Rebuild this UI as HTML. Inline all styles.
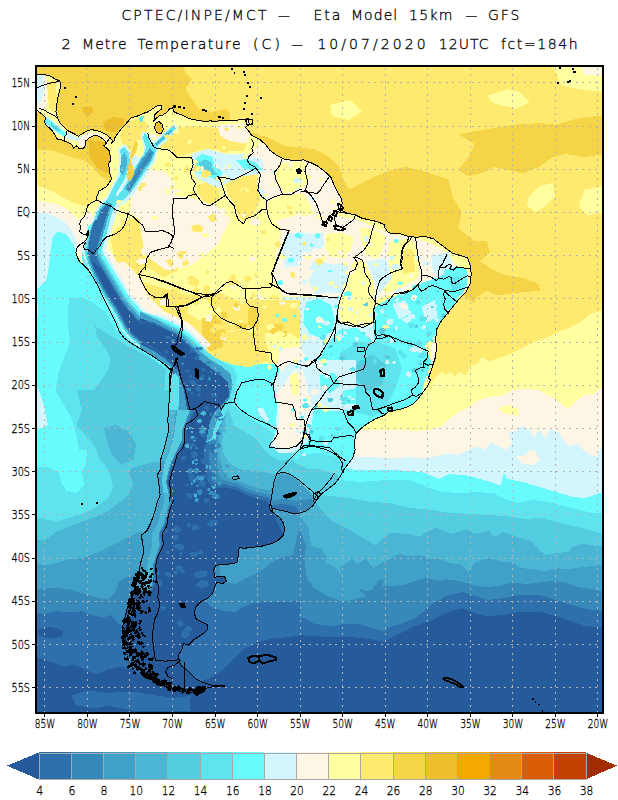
<!DOCTYPE html>
<html lang="en"><head><meta charset="utf-8"><title>CPTEC/INPE/MCT - Eta Model 15km - GFS - 2 Metre Temperature</title>
<style>html,body{margin:0;padding:0;background:#fff}body{width:618px;height:800px;overflow:hidden}svg{display:block}text{font-family:"Liberation Sans",sans-serif;fill:#000}.tt,.tt text{font-family:"DejaVu Sans","Liberation Sans",sans-serif;font-weight:200;stroke:#000;stroke-width:0.3px}</style></head><body>
<svg width="618" height="800" viewBox="0 0 618 800">
<rect width="618" height="800" fill="#fff"/>
<defs><clipPath id="cp"><rect x="36" y="66" width="567" height="647"/></clipPath></defs>
<g clip-path="url(#cp)" shape-rendering="crispEdges">
<rect x="36" y="66" width="567" height="647" fill="#fdea6e"/>
<polygon fill="#f5d547" points="30,60 182.1,60 185.3,72.9 191.8,79.4 185.3,89.1 191.8,98.8 198.3,108.5 211.2,111.8 230,108.5 230,124.7 30,124.7"/>
<polygon fill="#f5d547" points="33,120 120,120 115,185 110.5,181 106.4,179.3 100,176 91.8,166.3 83.4,160 71.3,157.1 54.3,151 33,148.6"/>
<polygon fill="#f5d547" points="211,118 230,122 252.4,132.8 268.5,137.7 284.7,145.8 297.7,147.4 313.9,149 330,157.1 339.7,166.8 343,179.7 349.4,189.4 362.4,183 375.3,176.5 391.5,170 404.5,166.8 420,170 429.4,173.3 448.8,179.7 452.1,195.9 461.8,212.1 458.5,228.3 474.7,241.2 487.7,250.9 470,262 470,300 380,240 330,210 250,150 211,130"/>
<polygon fill="#f5d547" points="458.5,134.4 474.7,131.2 494.1,128 513.6,124.7 539.4,123.1 555.6,124.7 578.3,118.3 606,115 606,153.9 584.8,157.1 565.3,153.9 552.4,157.1 539.4,166.8 523.3,173.3 507.1,170 494.1,166.8 481.2,173.3 468.3,176.5 458.5,170 468.3,157.1 474.7,144.1"/>
<polygon fill="#f5d547" points="470.6,280.9 460.9,242.1 486.8,240.5 490,251.8 480.3,261.5 490,268 503,274.4 522.4,277.7 538.6,284.1 540.2,290.6 522.4,292.2 509.4,293.9 496.5,295.5 486.8,290.6 477.1,297.1 473.9,303.6 467.4,297.1"/>
<polygon fill="#ffff9f" points="487.7,95.6 507.1,89.1 520,92.4 529.7,102.1 516.8,108.5 500.6,105.3 490.9,102.1"/>
<polygon fill="#ffff9f" points="552.4,66 606,66 606,92.4 578.3,89.1 562.1,85.9"/>
<polygon fill="#fdf6e4" points="581.5,66 606,66 606,76 584,75"/>
<polygon fill="#ffff9f" points="529.7,195.9 539.4,186.2 552.4,183 555.6,195.9 545.9,205.6 536.2,212.1 526.5,205.6"/>
<polygon fill="#ffff9f" points="584.8,189.4 606,186.2 606,212.1 588,215.3 578.3,205.6"/>
<polygon fill="#fdea6e" points="225,66 260,66 262,90 250,110 232,118 222,100"/>
<polygon fill="#ffff9f" points="330,105 350,100 362,112 348,120 332,116"/>
<polygon fill="#eebf2c" points="88.3,140.1 110,142.5 112,165 108.9,174 98,169.2 89.5,157.1"/>
<polygon fill="#eebf2c" points="102.8,121.9 112.5,117 124.7,118.3 123.4,125.5 115,132.8 105.2,130.4"/>
<polygon fill="#eebf2c" points="82.2,107.3 91.9,107.3 93.1,112.2 87,117 83.4,112.2"/>
<polygon fill="#ffff9f" points="33,184.5 33,184.5 36.5,185 44.6,188.2 54.4,192.3 62.5,197.2 72.3,202 83.7,206.1 100,206 140,206 140,716 33,716"/>
<polygon fill="#fdf6e4" points="33,200 33,200 36.5,200.4 46.3,202 56,203.7 65.8,208.5 73.9,215 78.8,219.9 82,216.7 100,216 140,216 140,716 33,716"/>
<polygon fill="#d2f5fe" points="33,212.6 33,212.6 46.3,213.4 56,216.7 64.1,221.5 70.7,228 73.9,234.6 76.3,241.1 77.2,247.6 100,250 150,250 150,716 33,716"/>
<polygon fill="#68fbfc" points="38,316 37,290 46.3,280 47.9,273.6 49.5,260.6 51.1,247.6 52.8,236.2 57.6,232.1 64.1,232.9 69,237.8 73.1,244.3 75.5,250.8 76.3,254.1 120,260 200,380 200,716 33,716 33,432 48,425 44,405 38,388 33,385 33,316"/>
<polygon fill="#5ee4ef" points="68.8,298.5 81.8,297.2 94.7,303.7 105.1,311.4 115.4,329.5 125.8,339.9 141.3,350.3 159.4,363.2 175,369.7 175,451.2 79.2,449.9 76.6,435.7 71.4,417.6 63.7,404.6 55.9,391.7 58.5,373.6 63.7,358 70.1,342.5 67.5,321.8"/>
<polygon fill="#54cde1" points="94.7,325.7 102.5,330.8 115.4,338.6 125.8,345.1 138.7,351.6 154.3,360.6 165.9,369.7 164.6,386.5 163.3,415 162,451.2 99.9,451.2 89.5,438.3 81.8,425.3 76.6,409.8 84.4,404.6 92.1,391.7 102.5,378.7 109,368.4 110.3,358 105.1,347.7 97.3,337.3"/>
<polygon fill="#5ee4ef" points="165.9,372.3 171.1,371 171.1,451.2 162,451.2 164.1,415 165.1,386.5"/>
<polygon fill="#5ee4ef" points="63.7,389.6 71.4,410.4 74,425.9 81.8,438.8 87,451.8 85.7,464.7 81.8,472.5 84.4,485.4 76.6,493.2 66.2,490.6 61.1,482.8 58.5,472.5 48.1,467.3 27.4,466 27.4,607.1 211.2,607.1 211.2,389.6"/>
<polygon fill="#68fbfc" points="61.1,473.8 68.8,471.2 80.5,473.8 84.4,485.4 76.6,493.2 66.2,490.6 61.1,482.8"/>
<polygon fill="#54cde1" points="27.4,515.2 55.9,521.7 68.8,517.8 81.8,513.9 97.3,506.1 107.7,498.4 112.8,488 110.3,475.1 105.1,464.7 99.9,459.5 94.7,446.6 87,436.2 76.6,425.9 81.8,410.4 76.6,389.6 211.2,389.6 211.2,607.1 27.4,607.1"/>
<polygon fill="#4ab6d4" points="27.4,541.1 45.5,539.8 55.9,532 68.8,526.9 81.8,521.7 97.3,516.5 107.7,511.3 118,503.6 128.4,495.8 133.6,482.8 128.4,472.5 133.6,467.3 143.9,464.7 154.3,462.1 211.2,462.1 211.2,607.1 27.4,607.1"/>
<polygon fill="#4ab6d4" points="103.8,428.5 115.4,424.6 128.4,431.1 136.1,444 133.6,459.5 120.6,464.7 112.8,455.7 107.7,444"/>
<polygon fill="#40a0c7" points="27.4,560.5 45.5,565.7 55.9,563.1 68.8,559.2 81.8,557.9 97.3,552.8 112.8,545 128.4,537.2 138.7,532 211.2,532 211.2,607.1 27.4,607.1"/>
<polygon fill="#3789ba" points="27.4,589.2 55.9,587.9 68.8,589.2 81.8,593.1 94.7,597 107.7,599.5 115.4,591.8 119.3,581.4 128.4,576.2 136.1,575 211.2,575 211.2,747.1 27.4,747.1"/>
<polygon fill="#2d70ac" points="27.4,612.5 45.5,613.8 55.9,611.2 68.8,612.5 81.8,611.2 92.1,615.1 102.5,617.7 110.3,615.1 118,622.8 123.2,625.4 211.2,625.4 211.2,747.1 27.4,747.1"/>
<polygon fill="#255a9b" points="27.4,653.9 50.7,661.7 63.7,666.9 74,664.3 84.4,669.4 97.3,674.6 107.7,669.4 120.6,666.9 133.6,669.4 138.7,674.6 211.2,674.6 211.2,747.1 27.4,747.1"/>
<polygon fill="#255a9b" points="37.8,629.3 50.7,626.7 63.7,630.6 61.1,637.1 48.1,638.4 39.1,635.8"/>
<polygon fill="#2d70ac" points="71.4,695.3 87,690.2 107.7,692.8 133.6,691.5 154.3,695.3 175,697.9 195.7,695.3 195.7,710.9 133.6,710.9 107.7,705.7 94.7,708.3 76.6,705.7"/>
<polygon fill="#3789ba" points="205,560 240,560 240,595 205,595"/>
<polygon fill="#ffff9f" points="330,392.1 420.4,392.1 430.6,385.3 435.7,376.8 442.5,371.7 445.9,375.1 451,371.7 454.4,376.8 459.5,371.7 466.3,375.1 469.7,366.6 478.2,363.2 481.5,356.5 488.3,361.5 498.5,358.2 512.1,353.1 522.3,348 535.9,341.2 546.1,337.8 559.7,331 569.9,327.6 580.1,322.5 590.3,314 603.9,309.9 606,309.9 606,716 330,716"/>
<polygon fill="#fdf6e4" points="330,429.5 379.6,429.5 400,429.5 417,431.2 430.6,429.5 440.8,426.1 451,417.6 457.8,412.5 468,407.4 478.2,400.6 488.3,397.2 501.9,395.5 512.1,390.4 525.7,388.7 539.3,390.4 549.5,395.5 559.7,402.3 566.5,409.1 573.3,404 583.5,395.5 593.7,393.8 603.9,386 606,386 606,716 330,716"/>
<polygon fill="#ffff9f" points="498.5,407.4 508.7,405 518.9,409.1 517.2,415.9 508.7,414.2 501.9,412.5"/>
<polygon fill="#d2f5fe" points="330,456.7 359.2,456.7 400,458.4 406.8,456.7 420.4,458.4 434,456.7 447.6,453.3 457.8,455 468,449.9 478.2,446.5 484.9,449.9 491.7,443.1 498.5,446.5 505.3,449.9 512.1,443.1 508.7,432.9 515.5,431.2 522.3,426.1 529.1,429.5 534.2,438 539.3,429.5 546.1,439.7 549.5,429.5 559.7,432.9 563.1,439.7 569.9,446.5 576.7,443.1 583.5,449.9 590.3,455 597.1,456.7 603.9,439.7 606,439.7 606,716 330,716"/>
<polygon fill="#fdf6e4" points="515.5,456.7 525.7,455 529.1,449.9 535.9,451.6 539.3,460.1 534.2,465.2 522.3,463.5"/>
<polygon fill="#68fbfc" points="250,466 330,466 347.7,467.7 355.2,470.2 385.3,470.2 410,470.7 423,472.4 439,478.8 448.8,474 468.3,475.6 490.9,482.1 500.6,485.3 503.9,472.4 507.1,478.8 523.3,482.1 539.4,486.9 555.6,491.8 571.8,496.6 584.8,498.3 604,491.8 606,491.8 606,716 250,716"/>
<polygon fill="#5ee4ef" points="240,478 320,478 340,480 360,482 385,480 410,480.5 426.2,486.9 442.4,491.8 461.8,493.4 474.7,491.8 494.2,493.4 507.1,499.9 516.8,503.1 533,499.9 552.4,503.1 571.8,508 591.2,512.8 604,512.8 606,512.8 606,716 240,716"/>
<polygon fill="#54cde1" points="230,492 310,492 322,495 350,498 370,502 390,503 410,508 429.4,509.6 448.8,512.8 468.3,513.8 487.7,515.1 507.1,516.1 526.5,519.3 539.4,517.7 552.4,520.9 571.8,525.8 591.2,530.6 604,533.9 606,533.9 606,716 230,716"/>
<polygon fill="#4ab6d4" points="220,500 300,500 315,502 320,508 330,520 350,530 375,545 390,533 410,533.9 419.7,537.1 426.2,532.2 435.9,527.4 452.1,533.9 466.6,529 474.7,533.9 489.3,530.6 494.2,537.1 503.9,532.2 516.8,537.1 529.7,540.3 539.4,550 545.9,554.9 555.6,553.3 568.6,551.7 571.8,546.8 581.5,543.6 591.2,545.2 604,546.8 606,546.8 606,716 220,716"/>
<polygon fill="#40a0c7" points="220,509.6 295.5,509.6 308.5,527.8 311.1,545.9 321.4,548.5 326.6,556.2 325.3,562.7 334.4,566.6 342.1,575.7 339.5,567.9 344.7,564 352.5,558.8 357.7,564 365.4,558.8 373.2,567.9 383.6,561.4 391.3,558.8 399.1,553.7 409.4,556.2 419.8,555 430.2,558.8 440,558.8 448.8,563 461.8,564.6 468.3,572.7 474.7,563 487.7,558.1 500.6,561.4 513.6,563 520,567.8 533,569.4 545.9,571.1 555.6,567.8 565.3,569.4 578.3,567.8 591.2,566.2 604,564.6 606,564.6 606,716 220,716"/>
<polygon fill="#3789ba" points="200,583.7 214.2,583.7 223.1,582.6 235.6,583.7 249.8,576.5 260.5,571.2 271.2,562.3 281.9,557 292.6,555.2 299.4,527.8 305.9,545.9 304.6,564 307.2,579.5 313.7,587.3 321.4,592.5 331.8,597.7 342.1,601.6 355.1,599 365.4,596.4 357.7,587.3 365.4,591.2 371.9,589.9 379.7,579.5 383.6,580.8 381,588.6 383.6,586 393.9,586 404.3,584.7 414.6,580.8 425,578.3 440,580.8 445.6,579.2 458.5,580.8 474.7,585.6 487.7,587.2 500.6,585.6 513.6,582.4 526.5,584 539.4,582.4 552.4,580.8 565.3,582.4 578.3,587.2 591.2,588.9 604,592.1 606,592.1 606,716 200,716"/>
<polygon fill="#2d70ac" points="190,600 200,600 207.1,601.5 210.7,606.8 221.4,610.4 235.6,612.1 242.7,606.8 253.4,603.2 271.2,601.5 289,601.5 299.4,600.8 300.7,610.6 298.1,617.1 305.9,618.4 313.7,623.6 331.8,626.1 344.7,623.6 357.7,623.6 370.6,627.4 378.4,630 383.6,631.3 388.7,627.4 401.7,623.6 414.6,618.4 425,610.6 432.8,602.8 440,600.3 445,596 462,592 475,596 488,600 504,598 520,595 540,595 556,600 572,605 585,609 604,611 606,611 606,716 190,716"/>
<polygon fill="#255a9b" points="190,684 190,684 200,681.6 210.7,678 221.4,670.9 232,660.2 242.7,649.5 257,642.4 271.2,638.8 289,637 300.7,635.2 318.8,636.5 344.7,636.5 357.7,637.8 370.6,639.1 383.6,641.7 391.3,637.8 404.3,631.3 414.6,626.1 429.4,621.2 445.6,613.1 461.8,608.3 474.7,613.1 487.7,616.4 503.9,614.8 520,611.5 539.4,611.5 555.6,616.4 571.8,621.2 584.8,626.1 604,627.7 606,627.7 606,716 190,716"/>
<clipPath id="lc"><polygon points="34.9,74.6 42.9,74.6 49.4,75.4 54.3,78.6 59.9,81 60.7,85.9 59.1,92.4 57.5,98.8 56.7,105.3 55.9,111.8 57.5,118.3 60.7,123.9 64.8,128 68.8,131.2 73.7,133.6 78.5,136.1 82.6,133.6 86.6,131.2 90.7,129.6 96.3,130.4 101.2,132 106.1,134.4 110.1,137.7 112.5,140.9 110.9,144.1 114.1,140.9 114.8,137.7 120.6,129.6 125.5,124.7 130.3,118.3 138.4,115.7 143.3,113.4 148.1,111.8 153,108.5 157.8,105.3 161.1,105.3 162,108.5 157.8,111.8 154.6,115 153.9,121.5 156.2,118.3 159.4,115.7 162.7,115 167.5,111.8 169.8,108.5 172.4,107.9 174,111.8 177.2,113.4 182.1,115 188.6,118.3 195,119.9 204.8,121.5 211.2,120.8 212.9,122 222.7,120.1 232.4,121 242.1,119.4 248.5,118.8 249.2,124.3 245.3,127.5 248.5,130.7 251.8,135.6 259.9,139.5 266.3,145.3 269.6,150.2 276.1,155 284.1,159.2 293.9,160.5 303.6,159.9 311.7,163.1 318.1,166.3 326.2,172.8 331.1,177.7 334.3,185.8 337.5,192.2 340.8,197.1 342.4,203.6 339.8,208.4 344,211.7 347.2,213.3 355.3,214.9 361.8,218.1 368.3,219.7 376.4,221.4 384.5,224.6 384.9,227.5 388.1,232.4 392.9,234 399.4,233.3 407.5,236.2 415.6,237.2 425.3,236.6 433.4,238.8 439.9,243.7 446.3,248.5 452.8,253.4 460.9,255.7 467.4,257.6 470,264.7 471.3,274.4 470,284.1 465.8,292.2 459.3,298.7 452.8,306.8 446.3,314.9 439.9,323 436.6,329.4 435.7,339.2 436.6,348.9 435,358.6 431.8,368.3 428.5,378 430.5,380 427.2,386.5 422.4,392.9 417.5,399.4 412.7,404.3 406.2,407.5 398.1,409.8 390,410.7 383.6,415.6 375.5,418.8 367.4,423.7 360.9,428.5 356.1,433.4 354.4,441.5 355.1,449.6 352.8,457.7 348,464.1 343.1,470.6 339.9,477.1 335,483.6 328.5,488.4 322.1,493.3 317.2,499.7 312.4,506.2 305.9,511.1 299.4,513.3 294.4,513.8 284.7,511.2 276.6,509.6 271.8,508 270.2,503.1 269.2,506.3 270.2,509.6 273.4,512.8 279.9,517.7 283.1,522.5 284.7,529 283.1,535.5 278.3,540.3 271.8,543.6 262.1,546.1 252.4,547.4 242.7,548.4 240,547.1 238.4,549.7 238.4,554.6 236.8,562.7 227.1,564.3 215.8,565.2 213.5,570.7 214.8,577.2 220.6,576.2 225.5,577.2 226.4,581.4 222.2,583.7 216.7,582.1 214.8,586.9 212.5,593.4 207.7,598.3 201.2,601.5 196.3,606.3 194.1,612.8 196.3,619.3 202.8,622.5 207.7,624.8 207,630 202.8,633.9 198,637.1 193.1,640.3 188.3,645.2 183.4,643.6 181.8,650 178.5,654.9 179.2,661.4 181.8,666.2 186.6,669.4 191.5,674.3 196.3,679.2 202.8,682.4 210.9,685 223.9,685.6 210.9,687.2 199.6,689.5 191.5,692.1 181.8,691.5 172.1,688.9 162.4,685.6 152.7,680.8 144.6,674.3 138.1,667.8 133.2,659.7 130,650 124.7,647.4 122.2,628 127.1,608.5 134.4,589.1 135,585.7 136.2,579.2 138.8,575.3 139.4,568.9 141.4,559.8 144,552 142.7,544.3 141.4,535.2 146.6,531.3 150.5,523.6 154.4,513.2 157,502.8 160.1,495.1 159,484.7 157.5,474.4 160.8,469.2 160.1,461.4 163.4,451.1 166,440.7 168.6,430.4 167.8,420 168.2,414.6 169.1,401.6 169.8,388.6 170.4,377.2 172.4,369.7 168.2,367.4 161.7,362.5 155.2,357.7 147,352.8 138.9,347.9 130.8,343 124.3,338.2 119.4,331.7 116.2,323.5 111.3,313.8 106.4,304 101.5,294.3 98.3,286.2 93.4,278 88.5,269.9 83.6,265 79.4,261.4 77.5,257.4 75.9,252.5 77,247.7 80.2,244.4 84.3,242 86.7,238.8 88.8,234.7 88.3,230.7 86.7,234.7 82.7,233.9 79.4,231.5 81,228.3 79.7,224.2 81,220.2 84.3,216.9 85.9,212.9 86.7,208.8 88.3,204.8 92.4,202.4 96.9,199.9 96.4,196.7 98,194.3 98.8,191 102.4,189.1 106.1,187 108.5,183.8 111.8,178.9 110.2,174.9 109.4,170 108.6,163.6 110.9,160 110.1,155.5 109.3,150.6 106.9,148.2 103.6,145.8 106.1,144.1 105.2,140.9 101.2,137.7 96.3,135.2 92.3,136.1 88.3,138.5 85,141.7 85.8,145 83.4,148.2 79.4,149 76.9,145.8 73.7,148.2 71.3,144.1 68,142.5 64,140.9 60.7,139.3 57.5,139.3 55.1,135.2 52.7,131.2 49.4,128 46.2,125.5 44.6,122.3 45.4,117.4 42.1,114.2 38.9,111.8 34.9,108.5"/></clipPath>
<g clip-path="url(#lc)">
<polygon fill="#ffff9f" points="30,60 610,60 610,720 30,720"/>
<polygon fill="#68fbfc" points="228.8,359.6 234,364.3 267.7,363.5 284.5,364.8 284.5,380.4 276.7,398.5 280.6,416.6 293.6,432.1 309.1,421.8 324.6,408.8 350,406.2 371.2,416.6 371.2,551.2 190,551.2 190,359.6"/>
<polygon fill="#5ee4ef" points="227.3,374.8 228.4,391.6 231.6,404.2 242.1,412.6 254.7,421 265.2,427.3 273.6,433.7 284.1,442.1 296.8,448.4 309.4,446.3 326.2,450.5 347.2,463.1 377.2,523.1 400,720 60,720 60,374.8"/>
<polygon fill="#54cde1" points="226.9,374.8 227.3,400 229.4,412.6 233.7,425.2 244.2,431.6 254.7,437.9 263.1,448.4 271.5,456.8 279.9,461 288.3,458.9 294.7,463.1 309.4,469.4 326.2,469.4 347.2,479.9 377.2,539.9 400,720 60,720 60,374.8"/>
<polygon fill="#4ab6d4" points="225.7,374.8 226.3,412.6 224.2,427.3 222.1,442.1 223.1,452.6 229.4,463.1 240,469.4 250.5,470.5 261,471.5 271.5,473.6 276.8,473.6 288.3,472.6 301,482 331,542 400,720 60,720 60,374.8"/>
<polygon fill="#40a0c7" points="224.2,374.8 223.1,400 221,421 218.5,442.1 220,458.9 223.1,471.5 227.3,476.8 237.9,481 248.4,485.2 258.9,488.3 269.4,490.5 274.7,484.1 279.9,473.6 292.6,476.8 303.1,485.2 311.5,493.6 315.3,498.9 345.3,558.9 400,720 60,720 60,374.8"/>
<polygon fill="#3789ba" points="222.1,374.8 221,400 218.9,421 216.4,442.1 216.8,458.9 217.9,473.6 221,478.9 227.3,481 237.9,484.1 248.4,489.4 258.9,492.6 269.4,494.7 271.5,501 284.1,498.9 296.8,501 311.5,498.9 341.5,558.9 400,720 60,720 60,374.8"/>
<polygon fill="#2d70ac" points="213.7,374.8 212.6,400 210.5,421 208.4,442.1 209.5,463.1 210.5,477.8 214.7,484.1 225.2,484.1 237.9,487.3 248.4,492.6 258.9,495.7 268.4,497.8 271.5,505.2 284.1,504.1 294.7,506.2 298.9,511.5 328.9,571.5 400,720 60,720 60,374.8"/>
<polygon fill="#255a9b" points="205.3,374.8 204.2,400 203.2,421 202.1,442.1 204.2,463.1 207.4,479.9 212.6,488.3 225.2,487.3 237.9,490.5 248.4,495.7 258.9,498.9 267.3,501 270.5,509.4 300.5,569.4 400,720 60,720 60,374.8"/>
<polygon fill="#fdf6e4" points="282.4,219.4 321.2,212.9 356.8,219.4 385.9,232.4 418.3,238.8 440.9,248.5 457.1,264.7 457.1,284.1 431.2,280.9 405.3,290.6 379.4,297.1 373,306.8 376.2,326.2 340.6,323 337.4,297.1 282.4,295.5 272.7,277.7 279.1,248.5"/>
<polygon fill="#d2f5fe" points="282.4,297.1 337.4,297.1 340.6,323 376.2,326.2 373,342.4 347.1,352.1 327.7,361.8 314.7,381.2 311.5,407.1 327.7,426.5 275.9,426.5 279.1,368.3 269.4,355.3 282.4,329.4"/>
<polygon fill="#68fbfc" points="306.6,301.9 319.6,298.7 330.9,305.2 334.8,319.7 332.5,331.1 319.6,337.5 309.9,334.3 303.4,323 304.4,310"/>
<polygon fill="#fdf6e4" points="282.4,335.9 301.8,342.4 298.5,361.8 282.4,361.8"/>
<polygon fill="#ffff9f" points="353.6,261.5 363.3,259.9 373,280.9 376.2,306.8 374.6,324.6 356.8,326.2 340.6,323 337.4,306.8 343.9,284.1"/>
<polygon fill="#ffff9f" points="389.2,242.1 411.8,237.2 419.9,258.3 418.3,277.7 402.1,287.4 385.9,293.9 379.4,287.4 389.2,271.2"/>
<polygon fill="#fdea6e" points="400.5,250.2 413.4,248.5 415,271.2 403.7,274.4"/>
<polygon fill="#d2f5fe" points="284,235.6 295.3,230.7 309.9,234 322.8,232.4 324.4,245.3 316.3,253.4 305,251.8 295.3,259.9 285.6,256.6 282.4,245.3"/>
<polygon fill="#d2f5fe" points="309.9,266.3 321.2,261.5 334.1,264.7 347.1,261.5 348.7,277.7 342.2,287.4 347.1,294.5 327.7,292.2 314.7,294.5 308.3,280.9"/>
<polygon fill="#ffff9f" points="326.1,234 340.6,232.4 353.6,237.2 351.9,248.5 345.5,258.3 330.9,256.6 325.1,248.5"/>
<polygon fill="#ffff9f" points="360,227.5 374.6,229.1 385.9,237.2 382.7,248.5 377.8,258.3 366.5,255.7 361.7,242.1"/>
<polygon fill="#d2f5fe" points="366.5,261.5 385.9,258.3 392.4,277.7 379.4,293.9 374.6,280.9"/>
<polygon fill="#68fbfc" points="374.6,306.8 385.9,300.3 402.1,293.9 421.5,285.8 437.7,282.5 457.1,287.4 457.1,306.8 444.2,319.7 434.5,335.9 424.8,345.6 405.3,339.2 385.9,335.9 374.6,342.4 373,326.2"/>
<polygon fill="#d2f5fe" points="392.4,303.6 405.3,300.3 411.8,313.3 398.9,319.7"/>
<polygon fill="#d2f5fe" points="421.5,306.8 434.5,300.3 437.7,316.5 426.4,323"/>
<polygon fill="#68fbfc" points="314.7,361.8 327.7,342.4 340.6,329.4 356.8,327.8 374.6,342.4 385.9,335.9 405.3,339.2 424.8,345.6 431.2,361.8 424.8,381.2 418.3,407.1 405.3,426.5 347.1,439.5 330.9,426.5 327.7,407.1 318,381.2"/>
<polygon fill="#5ee4ef" points="340.6,352.1 356.8,342.4 379.4,342.4 395.6,348.9 402.1,368.3 395.6,387.7 385.9,407.1 373,416.8 347.1,410.4 337.4,378"/>
<polygon fill="#54cde1" points="356.8,361.8 373,355.3 385.9,365 382.7,384.5 366.5,390.9 355.2,378"/>
<polygon fill="#68fbfc" points="288.8,426.5 308.3,407.1 327.7,407.1 347.1,439.5 334.1,458.9 295.3,458.9"/>
<polygon fill="#d2f5fe" points="431.2,255 450,251.8 452.3,274.4 440.9,280.9 432.8,271.2"/>
<polygon fill="#fdf6e4" points="431.2,347.2 440.9,329.4 447.4,310 457.1,306.8 457.1,352.1 444.2,368.3 431.2,368.3"/>
<polygon fill="#fdf6e4" points="173,209.8 189,202.7 210.4,200.9 217.5,213.4 213.9,231.2 206.8,245.4 189,252.6 176.5,249 171.2,231.2"/>
<polygon fill="#fdea6e" points="181.9,302.4 199.7,295.3 221,302.4 224.6,320.2 217.5,341.6 199.7,345.1 185.4,334.4 180.1,316.6"/>
<polygon fill="#fdea6e" points="135.6,227.6 157,224.1 174.8,234.8 171.2,252.6 178.3,270.4 164.1,277.5 146.3,266.8 135.6,249"/>
<polygon fill="#fdea6e" points="121.4,220.5 146.3,217 171.2,231.2 174.8,252.6 146.3,266.8 139.2,281 164.1,288.2 189,295.3 217.5,291.7 242.4,302.4 256.6,320.2 256.6,352.2 235.3,362.9 217.5,359.4 199.7,348.7 181.9,338 167.6,327.3 153.4,316.6 139.2,302.4 124.9,281 114.2,259.7 110.7,238.3"/>
<polygon fill="#fdea6e" points="178.8,300 300,300 300,357 285,364.7 264.3,362.1 248.7,367.3 233.2,364.7 217.7,359.5 204.7,349.2 191.8,338.8 181.4,328.5 178.8,315.5"/>
<polygon fill="#ffff9f" points="149.8,231.2 164.1,241.9 160.5,259.7 142.7,256.1"/>
<polygon fill="#ffff9f" points="189,302.4 206.8,298.8 213.9,313.1 199.7,320.2 187.2,313.1"/>
<polygon fill="#fdf6e4" points="140,176 152,170 166,172 174,184 176,200 200,204 200,260 176,260 168,240 156,228 140,220 130,212 132,196"/>
<polygon fill="#fdea6e" points="125,122 140,118 148,124 146,140 136,140 130,152 123,146 120,136"/>
<polygon fill="#f5d547" points="202.1,318.1 217.7,315.5 225.4,328.5 222.8,346.6 209.9,351.8 202.1,338.8"/>
<polygon fill="#f5d547" points="248.7,307.8 256.5,306.5 259.1,323.3 253.9,336.2 247.4,325.9"/>
<polygon fill="#ffff9f" points="264.3,333.7 285,331.1 300,338.8 300,357 285,364.7 269.4,359.5"/>
<polygon fill="#fdf6e4" points="279.8,349.2 300,346.6 310.9,367.3 310.9,408.7 295.3,403.6 285,385.4 277.2,364.7"/>
<polygon fill="#fdea6e" points="155.5,130.7 191.8,125.5 217.7,128.1 243.6,128.1 248.7,138.5 243.6,151.4 225.4,151.4 207.3,148.8 191.8,152.7 176.2,156.6 168.5,148.8 155.5,146.2"/>
<polygon fill="#fdf6e4" points="140,187.7 171.1,195.4 191.8,198 217.7,208.4 230.6,218.7 217.7,244.6 191.8,265.3 165.9,270.5 145.2,255 140,226.5"/>
<polygon fill="#fdf6e4" points="217.7,125.5 243.6,122.9 250,135.9 246.1,143.7 230.6,141.1 220.3,135.9"/>
<polygon fill="#fdf6e4" points="248.7,154 261.7,143.7 269.4,151.4 279.8,161.8 274.6,172.1 264.3,170.8 259.1,161.8"/>
<polygon fill="#fdf6e4" points="259.7,141.6 270.2,149.7 282.4,160.2 305,161 327.7,173.2 340.6,195 343,204.7 321.2,224.1 303.4,193.4 284.8,194.2 267,201.5 258.1,185.3 259.7,172.4 254.9,159.4"/>
<polygon fill="#ffff9f" points="282.4,161.8 305,161.8 306.6,186.9 284.8,193.4 275.9,178.8 275.9,170.7"/>
<polygon fill="#fdf6e4" points="111.3,265 124.3,261.8 137.3,274.8 147,294.3 160,307.3 169.8,318.7 160,320.9 147,315.4 135.7,312.2 127.5,302.4 119.4,286.2"/>
<polygon fill="#fdea6e" points="195.7,185.1 207.3,182.5 217.7,187.7 220.3,198 209.9,204.5 202.1,200.6"/>
<polygon fill="#fdea6e" points="225.4,179.9 243.6,176 256.5,172.1 259.1,187.7 261.7,198 253.9,213.6 243.6,221.3 237.1,213.6 234.5,203.2 228,195.4"/>
<polygon fill="#fdf6e4" points="256.5,179.9 269.4,182.5 279.8,190.3 274.6,198 264.3,199.3 257.8,192.8"/>
<polygon fill="#fdf6e4" points="274.6,221.3 301.8,213.6 301.8,270.5 279.8,270.5 274.6,255 285,231.7"/>
<polygon fill="#fdf6e4" points="34.9,72.9 46.2,74.6 47.8,92.4 46.2,108.5 39.7,111.8 34.9,108.5"/>
<polygon fill="#fdf6e4" points="75,215 92,212 95,235 92,258 100,275 106,292 100,292 90,275 80,258 75,245"/>
<polygon fill="#d2f5fe" points="285,234.3 301.8,231.7 301.8,265.3 285,267.9 281.1,255"/>
<polygon fill="#fdf6e4" points="92.7,222.1 89.5,231.8 87.3,243.1 86.2,254.5 88.6,264.2 92.7,273.9 97.5,283.6 102.4,292.5 107.3,300.6 112.9,308.7 118.9,319.3 123.8,329 130.3,337.1 138.4,343.6 146.4,348.4 154.5,353.3 162.6,359.8 169.1,366.3 172.3,370.3 211.3,344.7 208.4,341.5 201.9,335 195.4,328.6 187.4,322.1 180.9,318.9 174.4,315.6 166.3,312.4 159.8,310 153.4,310.8 148.5,307.5 143.7,301.1 139.3,296.9 133.6,289.6 128.7,281.5 123.9,273.4 119,265.3 114.2,257.2 109.3,249.2 106.1,239.4 108.5,228.1 110.9,218.4 112.6,208.7"/>
<polygon fill="#d2f5fe" points="257.8,187.7 264.3,190.3 266.9,199.3 260.4,198"/>
<polygon fill="#d2f5fe" points="34.9,76.2 42.9,76.2 43.8,89.1 41.3,102.1 34.9,103.7"/>
<polygon fill="#fdea6e" points="47,81 55.9,80.2 56.7,100.5 55.1,113.4 49.4,108.5 47.8,95.6"/>
<polygon fill="#fdf6e4" points="78.5,137.7 88.3,132.8 98,132.8 107.7,139.3 107.7,145.8 101.2,140.9 91.5,139.3 83.4,147.4 78.5,145.8"/>
<polygon fill="#d2f5fe" points="86,268 96,285 106,300 112,312 106,312 94,292 84,274"/>
<polygon fill="#68fbfc" points="88.4,226.4 85.2,236.1 83,247.4 81.9,258.8 84.3,268.5 88.4,278.2 93.2,287.9 98.1,296.8 103,304.9 108.6,313 114.6,323.6 119.5,333.3 126,341.4 134.1,347.9 142.1,352.7 150.2,357.6 158.3,364.1 164.8,370.6 168,374.6 174.4,368.2 171.2,364.2 164.7,357.7 156.6,351.2 148.5,346.3 140.5,341.5 132.4,335 125.9,326.9 121,317.2 115,306.6 109.4,298.5 104.5,290.4 99.6,281.5 94.8,271.8 90.7,262.1 88.3,252.4 89.4,241 91.6,229.7 94.8,220"/>
<polygon fill="#5ee4ef" points="105.9,302 111.5,310.1 117.5,320.7 122.4,330.4 128.9,338.5 137,345 145,349.8 153.1,354.7 161.2,361.2 167.7,367.7 170.9,371.7 174.4,368.2 171.2,364.2 164.7,357.7 156.6,351.2 148.5,346.3 140.5,341.5 132.4,335 125.9,326.9 121,317.2 115,306.6 109.4,298.5"/>
<polygon fill="#d2f5fe" points="91.3,223.5 88.1,233.2 85.9,244.5 84.8,255.9 87.2,265.6 91.3,275.3 96.1,285 101,293.9 105.9,302 111.5,310.1 117.5,320.7 122.4,330.4 128.9,338.5 137,345 145,349.8 153.1,354.7 161.2,361.2 167.7,367.7 170.9,371.7 207.8,348.2 204.9,345 198.4,338.5 191.9,332.1 183.9,325.6 177.4,322.4 170.9,319.1 162.8,315.9 156.3,313.5 149.9,314.3 145,311 140.2,304.6 135.8,300.4 130.1,293.1 125.2,285 120.4,276.9 115.5,268.8 110.7,260.7 105.8,252.7 102.6,242.9 105,231.6 107.4,221.9 109.1,212.2"/>
<polygon fill="#d2f5fe" points="82,249 88,234 92,222 96,210 101,202 107,196 113,184 118,174 119,160 118,148 125,144 131,152 140,158 144,152 144,146 141,138 142,131 149,133 153,141 164,132 174,124 178,128 169,139 159,147 157,154 155,162 149,171 143,180 137,189 131,198 125,203 119,206 116,216 112,228 108,242 103,255 96,260 84,260"/>
<polygon fill="#d2f5fe" points="191.8,154 207.3,148.8 225.4,154 243.6,154 261.7,159.2 266.9,169.5 256.5,174.7 243.6,176 228,182.5 217.7,187.7 204.7,182.5 195.7,177.3 191.8,167"/>
<polygon fill="#d2f5fe" points="41.3,115.8 47.8,116.6 57.5,124.7 67.2,132.8 76.9,137.7 83.4,136.1 78.5,140.9 67.2,139.3 57.5,133.6 47.8,126.3 42.1,121.5"/>
<polygon fill="#d2f5fe" points="272.8,380.4 293.6,359.6 324.6,359.6 335,380.4 324.6,395.9 314.3,406.2 311.7,424.4 306.5,442.5 293.6,452.8 278,452.8 270.3,445.1 276.7,429.5 276.7,401.1"/>
<polygon fill="#d2f5fe" points="309.1,359.6 355.7,359.6 355.7,408.8 335,411.4 314.3,406.2"/>
<polygon fill="#fdf6e4" points="275.4,395.9 283.2,385.5 293.6,370 303.9,370 306.5,385.5 311.7,403.7 309.1,421.8 303.9,437.3 293.6,447.7 280.6,447.7 272.8,445.1 278,432.1 279.3,414"/>
<polygon fill="#68fbfc" points="319.4,375.2 335,372.6 340.2,385.5 329.8,393.3 320.7,388.1"/>
<polygon fill="#68fbfc" points="342.8,390.7 355.7,388.1 355.7,403.7 345.3,403.7"/>
<polygon fill="#5ee4ef" points="298.7,455.4 319.4,452.8 340.2,458 350,468.4 335,473.6 314.3,468.4 301.3,463.2"/>
<polygon fill="#68fbfc" points="92,222.8 88.8,232.5 86.6,243.8 85.5,255.2 87.9,264.9 92,274.6 96.8,284.3 101.7,293.2 106.6,301.3 112.2,309.4 118.2,320 123.1,329.7 129.6,337.8 137.7,344.3 145.7,349.1 153.8,354 161.9,360.5 168.4,367 171.6,371 205.7,350.3 202.8,347.1 196.3,340.6 189.8,334.2 181.8,327.7 175.3,324.5 168.8,321.2 160.7,318 154.2,315.6 147.8,316.4 142.9,313.1 138.1,306.7 133.7,302.5 128,295.2 123.1,287.1 118.3,279 113.4,270.9 108.6,262.8 103.7,254.8 100.5,245 102.9,233.7 105.3,224 107,214.3"/>
<polygon fill="#ffff9f" points="289.7,375.2 297.4,372.6 300,385.5 297.4,395.9 292.3,394.6 290.5,385.5"/>
<polygon fill="#ffff9f" points="302.6,430.8 307.8,430.8 307.8,439.9 302.6,439.9"/>
<polygon fill="#d2f5fe" points="257.3,408.8 262.5,407.5 269,419.2 266.4,421.8 259.9,415.3"/>
<polygon fill="#68fbfc" points="444.7,269.6 457.7,266.3 466.7,269.6 467.4,284.1 462.5,293.9 454.4,300.3 444.7,297.1 443.1,284.1"/>
<polygon fill="#68fbfc" points="412.4,285.8 428.5,280.9 444.7,274.4 446.3,297.1 428.5,300.3 412.4,297.1"/>
<polygon fill="#5ee4ef" points="140,310.9 150.4,314.2 160.7,319.4 171.1,325.9 181.4,332.4 191.8,340.1 202.1,347.9 212.5,355.7 222.8,362.1 233.2,367.3 237.1,375.1 235.8,388 233.2,398.4 228,408.7 222.8,419.1 217.7,429.4 216.1,438.5 198.3,445 167.2,445 168.5,403.6 172.4,369.9 155.5,355.7 140,349.2"/>
<polygon fill="#54cde1" points="92.7,222.1 89.5,231.8 87.3,243.1 86.2,254.5 88.6,264.2 92.7,273.9 97.5,283.6 102.4,292.5 107.3,300.6 112.9,308.7 118.9,319.3 123.8,329 130.3,337.1 138.4,343.6 146.4,348.4 154.5,353.3 162.6,359.8 169.1,366.3 172.3,370.3 203.5,352.5 200.6,349.3 194.1,342.8 187.6,336.4 179.6,329.9 173.1,326.7 166.6,323.4 158.5,320.2 152,317.8 145.6,318.6 140.7,315.3 135.9,308.9 131.5,304.7 125.8,297.4 120.9,289.3 116.1,281.2 111.2,273.1 106.4,265 101.5,257 98.3,247.2 100.7,235.9 103.1,226.2 104.8,216.5"/>
<polygon fill="#5ee4ef" points="84,248 89,236 93,224 97,212 102,204 108,198 115,194 118,198 115,206 111,216 108,228 105,240 101,252 96,258 86,258"/>
<polygon fill="#5ee4ef" points="108,198 114,186 120,176 123,166 121,156 120,150 125,147 129,154 129,164 127,174 123,182 118,190 114,198"/>
<polygon fill="#5ee4ef" points="116,198 123,189 129,179 134,170 139,161 144,154 146,147 143,139 144,133 148,136 151,145 155,143 164,134 173,126 176,128 168,137 158,145 155,153 153,160 147,169 141,178 135,187 129,195 123,200 118,202"/>
<polygon fill="#5ee4ef" points="139,117 144,116 143,121 140,122"/>
<polygon fill="#68fbfc" points="194.4,159.2 202.1,154 212.5,156.6 215.1,167 222.8,172.1 217.7,179.9 209.9,177.3 202.1,174.7 195.7,172.1"/>
<polygon fill="#68fbfc" points="235.8,160.5 246.1,159.2 256.5,163.1 261.7,169.5 253.9,170.8 243.6,168.3"/>
<polygon fill="#68fbfc" points="43.8,118.3 48.6,119.1 56.7,125.5 66.4,133.6 64.8,136.9 56.7,132 48.6,125.5 44.2,121.5"/>
<polygon fill="#5ee4ef" points="449.6,277.7 459.3,276.1 460.9,287.4 452.8,292.2"/>
<polygon fill="#40a0c7" points="140,311.7 150.4,316.8 160.7,322 171.1,329.8 181.4,337.5 191.8,345.3 202.1,353.1 212.5,360.8 222.8,367.3 230.6,373.8 232.7,385.4 229.3,398.4 222.8,408.7 217.7,419.1 213.8,429.4 212,438.5 198.3,445 175,445 178.8,403.6 178.8,377.7 169.8,366 155.5,358.3 140,351.8"/>
<polygon fill="#40a0c7" points="93.7,221.1 90.5,230.8 88.3,242.1 87.2,253.5 89.6,263.2 93.7,272.9 98.5,282.6 103.4,291.5 108.3,299.6 113.9,307.7 119.9,318.3 124.8,328 131.3,336.1 139.4,342.6 147.4,347.4 155.5,352.3 163.6,358.8 170.1,365.3 173.3,369.3 201.8,354.2 198.9,351 192.4,344.5 185.9,338.1 177.9,331.6 171.4,328.4 164.9,325.1 156.8,321.9 150.3,319.5 143.9,320.3 139,317 134.2,310.6 129.8,306.4 124.1,299.1 119.2,291 114.4,282.9 109.5,274.8 104.7,266.7 99.8,258.7 96.6,248.9 99,237.6 101.4,227.9 103.1,218.2"/>
<polygon fill="#4ab6d4" points="121,158 124.4,152 127,158 126.4,168 123,176 120,172"/>
<polygon fill="#40a0c7" points="87,249 91,237 94,227 97,217 101,208 107,202 112,204 109,214 106,225 103,235 100,246 97,255 89,256"/>
<polygon fill="#40a0c7" points="125,189 131,178 136,169 141,160 147,152.4 149.6,148 154,152.4 151,160.4 145,168 140,176 134,185 129,193"/>
<polygon fill="#4ab6d4" points="155,143.6 164,135.6 171,129.6 172.4,131.6 165,138 157,145.6"/>
<polygon fill="#54cde1" points="198.3,163.1 204.7,159.2 211.2,161.8 212.5,168.3 217.7,174.7 209.9,174.7 203.4,170.8"/>
<polygon fill="#54cde1" points="50.2,122.3 56.7,127.2 60.7,131.2 57.5,131.2 51.8,126.3"/>
<polygon fill="#f5d547" points="131,160 136,152 138,144 136,140 133,146 130,156 128,168 127,178 130,182 134,174 133,166"/>
<polygon fill="#255a9b" points="140,318.1 155.5,323.3 168.5,333.7 178.8,344 189.2,351.8 199.5,359.5 209.9,367.3 220.3,375.1 228,382.8 229.3,395.8 222.8,403.6 215.1,411.3 209.9,421.7 207.3,434.6 204.7,447.6 202.1,465.7 178.8,465.7 182.7,445 186.6,429.4 187.9,413.9 185.3,398.4 182.7,385.4 178.8,373.8 172.4,365.2 165.9,359.5 155.5,351.8 140,344"/>
<polygon fill="#2d70ac" points="94.8,220 91.6,229.7 89.4,241 88.3,252.4 90.7,262.1 94.8,271.8 99.6,281.5 104.5,290.4 109.4,298.5 115,306.6 121,317.2 125.9,326.9 132.4,335 140.5,341.5 148.5,346.3 156.6,351.2 164.7,357.7 171.2,364.2 174.4,368.2 200,356 197.1,352.8 190.6,346.3 184.1,339.9 176.1,333.4 169.6,330.2 163.1,326.9 155,323.7 148.5,321.3 142.1,322.1 137.2,318.8 132.4,312.4 128,308.2 122.3,300.9 117.4,292.8 112.6,284.7 107.7,276.6 102.9,268.5 98,260.5 94.8,250.7 97.2,239.4 99.6,229.7 101.3,220"/>
<polygon fill="#2d70ac" points="89,249 92,238 95,228 98,218 102,209 107,204 110,206 107,214 104,224 101,234 98,244 95,254 90,255"/>
<polygon fill="#3789ba" points="128,188 133,179 138,170 143,161.6 148.4,154.4 150.4,151.6 152,153.6 149,160 143.6,167 138.6,175 133,184 129,191"/>
<polygon fill="#255a9b" points="91.8,261 95.9,270.7 100.7,280.4 105.6,289.3 110.5,297.4 116.1,305.5 122.1,316.1 127,325.8 133.5,333.9 141.6,340.4 149.6,345.2 157.7,350.1 165.8,356.6 172.3,363.1 175.5,367.1 198.9,357.1 196,353.9 189.5,347.4 183,341 175,334.5 168.5,331.3 162,328 153.9,324.8 147.4,322.4 141,323.2 136.1,319.9 131.3,313.5 126.9,309.3 121.2,302 116.3,293.9 111.5,285.8 106.6,277.7 101.8,269.6"/>
<polygon fill="#eebf2c" points="155,124 159,122 163,127 162,132 157,133 154.4,129"/>
<polygon fill="#2d70ac" points="162.2,409.6 163.3,420 165.2,430.4 162.1,440.7 160.2,451.1 157.2,461.4 156.8,471.8 157,482.1 157.7,492.5 153.9,502.8 151.5,513.2 147.2,523.6 138.8,533.9 138.6,544.3 140.1,554.6 137.3,565 135.4,575.3 135.7,585.7 144.3,592.2 150.5,592.2 154.4,585.7 156.2,575.3 155.7,565 159,554.6 163.4,544.3 162.1,533.9 167.1,523.6 168.9,513.2 172.5,502.8 170.4,492.5 167.8,482.1 170.4,471.8 174.3,461.4 179.7,451.1 185.7,440.7 185.7,430.4 190.6,420 195.8,409.6"/>
<polygon fill="#3789ba" points="162.2,409.6 163.3,420 165.2,430.4 162.1,440.7 160.2,451.1 157.2,461.4 156.8,471.8 157,482.1 157.7,492.5 153.9,502.8 151.5,513.2 147.2,523.6 138.8,533.9 138.6,544.3 140.1,554.6 137.3,565 135.4,575.3 135.7,585.7 144.3,592.2 150,592.2 152.8,585.7 154.4,575.3 154.1,565 157.4,554.6 161.4,544.3 160.2,533.9 165.4,523.6 167.4,513.2 170.9,502.8 169.4,492.5 166.9,482.1 169.3,471.8 172.9,461.4 178.1,451.1 183.7,440.7 184,430.4 188.3,420 193,409.6"/>
<polygon fill="#40a0c7" points="162.2,409.6 163.3,420 165.2,430.4 162.1,440.7 160.2,451.1 157.2,461.4 156.8,471.8 157,482.1 157.7,492.5 153.9,502.8 151.5,513.2 147.2,523.6 138.8,533.9 138.6,544.3 140.1,554.6 137.3,565 135.4,575.3 135.7,585.7 144.3,592.2 147.9,592.2 146.6,585.7 147.5,575.3 148,565 151.1,554.6 153.1,544.3 152.4,533.9 158.8,523.6 161.6,513.2 164.7,502.8 165.1,492.5 163.3,482.1 164.7,471.8 167.2,461.4 171.6,451.1 175.9,440.7 177.2,430.4 179.2,420 181.8,409.6"/>
<polygon fill="#4ab6d4" points="164.6,492.5 163.9,502.8 160.9,513.2 157.9,523.6 151.5,533.9 152,544.3 150.3,554.6 147.3,565 146.6,575.3 145.8,585.7 147.6,592.2 149.6,592.2 151.6,585.7 153.1,575.3 152.9,565 156.2,554.6 159.7,544.3 158.6,533.9 164.1,523.6 166.3,513.2 169.7,502.8 168.5,492.5"/>
<polygon fill="#54cde1" points="177.6,409.6 175.8,420 174.6,430.4 172.9,440.7 169.1,451.1 165,461.4 163,471.8 161.9,482.1 163.5,492.5 168.3,492.5 166,482.1 168.1,471.8 171.5,461.4 176.5,451.1 181.8,440.7 182.3,430.4 186.1,420 190.2,409.6"/>
<polygon fill="#4ab6d4" points="162.2,409.6 163.3,420 165.2,430.4 162.1,440.7 160.2,451.1 157.2,461.4 164.3,461.4 168.3,451.1 171.9,440.7 173.7,430.4 174.7,420 176.2,409.6"/>
<polygon fill="#2d70ac" points="189.3,436.7 192.4,435.5 197.1,437.2 195.5,441.2 190.9,440.1"/>
<polygon fill="#2d70ac" points="199.7,431.9 202.4,430.4 206.4,432.7 205.1,438.1 201,436.6"/>
<polygon fill="#2d70ac" points="208.7,445.4 211.6,443.3 216,446.4 214.5,453.7 210.2,451.6"/>
<polygon fill="#2d70ac" points="190.6,452.6 193.7,451.1 198.4,453.4 196.8,458.8 192.2,457.3"/>
<polygon fill="#2d70ac" points="201,460.2 204.5,458.8 209.8,460.9 208,465.6 202.7,464.2"/>
<polygon fill="#2d70ac" points="188,473.9 190.7,471.8 194.8,474.9 193.4,482.1 189.4,480.1"/>
<polygon fill="#2d70ac" points="198.4,481.1 201.5,479.5 206.1,481.9 204.6,487.3 199.9,485.8"/>
<polygon fill="#2d70ac" points="208.7,473.6 211.2,471.8 215,474.6 213.7,481.1 210,479.2"/>
<polygon fill="#2d70ac" points="185.4,493.7 188.5,492.5 193.2,494.4 191.7,498.7 187,497.5"/>
<polygon fill="#2d70ac" points="203.6,498.8 205.8,497.7 209.3,499.4 208.1,503.4 204.7,502.2"/>
<polygon fill="#40a0c7" points="193.2,439.9 194.2,439.4 195.8,440.2 195.3,442 193.7,441.5"/>
<polygon fill="#40a0c7" points="203.6,449.1 204.6,448.5 206.1,449.4 205.6,451.6 204.1,451"/>
<polygon fill="#40a0c7" points="194.5,463.2 195.7,462.7 197.6,463.5 197,465.3 195.1,464.8"/>
<polygon fill="#40a0c7" points="190.6,482.8 191.7,482.1 193.2,483.1 192.7,485.2 191.1,484.6"/>
<polygon fill="#40a0c7" points="206.1,436.1 207,435.5 208.2,436.3 207.8,438.1 206.6,437.6"/>
<polygon fill="#ffff9f" points="207.5,266.7 207.8,262.1 213.3,261.2 216.8,263.9 217.9,268.2 210.8,269"/>
<polygon fill="#fdea6e" points="256.2,272.3 257.5,275.1 255.8,276.9 254.2,275.4 254.5,273.6"/>
<polygon fill="#fdea6e" points="212.3,213.6 216.1,214.5 216.7,220.6 211.8,222.6 207.7,217.1"/>
<polygon fill="#fdea6e" points="193.3,289 196.2,286.9 199.8,289.4 198.9,291.3 196.6,293.7 193.9,293 191.8,290.7"/>
<polygon fill="#ffff9f" points="210.5,235.2 206.8,237.1 202.4,237.4 201.6,233.5 206.1,233.2"/>
<polygon fill="#fdea6e" points="169.1,303.2 169.1,300.6 170.1,299.4 172.3,299.3 172.2,302.1 171,303.6"/>
<polygon fill="#fdea6e" points="288.7,210.9 291.2,210.8 292.5,211.5 293.5,213.1 291.8,214.4 289.4,214.8 288.1,212.6"/>
<polygon fill="#fdea6e" points="138.8,249.6 142.3,248.5 144.9,250 144.9,252.3 143.6,253.9 140.6,255.3 137.6,252.2"/>
<polygon fill="#fdf6e4" points="240.8,323.9 244.9,324.5 245.9,327.8 242.9,329.9 238.2,329.8 236.5,326.3"/>
<polygon fill="#ffff9f" points="193.8,285.5 193.5,288.9 190.2,289.4 188.3,287.6 188.4,284 191.2,281.3"/>
<polygon fill="#ffff9f" points="212.2,312.8 211,314.3 208.6,314.8 207.6,312.9 207.9,311.2 209.6,311 212.1,311.1"/>
<polygon fill="#fdf6e4" points="223.4,214.4 219.5,213 218.8,210.6 221.3,208.4 224.7,208.5 225.7,211.8"/>
<polygon fill="#fdea6e" points="213.4,324 217.9,323.7 219.7,326.7 220.4,329.4 215,331.3 212.3,328.6"/>
<polygon fill="#ffff9f" points="252.9,241.3 251.2,240.3 250.8,237.7 252.6,236.4 254.2,237.6 254.3,239.6"/>
<polygon fill="#fdf6e4" points="159.7,302.4 160.1,300.3 164.8,298.5 167.9,301 167.4,304.1 164.5,305.5 160.2,304.8"/>
<polygon fill="#ffff9f" points="217.5,279.4 217.5,280.8 216.1,282.4 213.5,283.5 212.1,281.7 212.7,279.6 214.3,278.7"/>
<polygon fill="#fdea6e" points="278.8,253.7 278.9,251.6 281.1,250.9 281.7,253.2 280.4,255.1"/>
<polygon fill="#fdea6e" points="275.1,243.2 277.2,241.3 280.1,241.4 281.1,244.5 279.5,247.2 277.5,247.9 275.5,245.9"/>
<polygon fill="#ffff9f" points="324.8,260.2 323.2,261.3 321,259.2 321.5,256.9 322.7,254.4 325,254.7 325.9,257.4"/>
<polygon fill="#ffff9f" points="249.2,327.7 248,329 246.1,328.1 246.5,325.4 248.9,325.3"/>
<polygon fill="#fdea6e" points="289.9,274 291,272.5 294.1,271.6 295.1,274.1 295,277.1 292.4,278.4 290.5,276.2"/>
<polygon fill="#fdea6e" points="145.3,183.1 146.5,185 144.6,186.9 141.8,188 139.4,185 141.9,182.2"/>
<polygon fill="#fdf6e4" points="285.5,251 287.7,250.5 289.4,251 290.6,252.4 288.5,253.8 286.7,253.1 285.1,252.3"/>
<polygon fill="#fdea6e" points="209,272.6 208.1,274.2 206.6,273.3 205.5,272.5 206.5,270.8 207.5,269.9 209.2,271"/>
<polygon fill="#fdf6e4" points="222.7,340 219.3,338 221.1,334.5 224,333.4 226,336 225.5,340"/>
<polygon fill="#fdea6e" points="190.8,281.3 186.5,279 189.6,275.6 195.2,276.6 195.1,280"/>
<polygon fill="#fdea6e" points="138.4,189.6 138.3,187.5 139.4,185.9 141.3,186.6 141.6,189.7 139.9,191.2"/>
<polygon fill="#fdf6e4" points="236.6,282.2 236.4,286.2 232.9,289.1 229.7,285.5 229.7,281.4 233.4,279"/>
<polygon fill="#ffff9f" points="255.7,296.1 258.1,295.5 259.9,296.9 258.7,298.6 255.5,298.1"/>
<polygon fill="#fdea6e" points="171.3,297.5 171,299.9 167.9,300.2 166.5,298.1 168.8,296.5"/>
<polygon fill="#fdea6e" points="192.9,197.1 190.1,195.9 188.7,192.8 192,191.8 195.4,190.9 197,193.4 195.4,195.9"/>
<polygon fill="#fdea6e" points="248.7,298 250.2,296.6 253.2,297.2 252.8,299.2 250.3,300.5"/>
<polygon fill="#fdea6e" points="231.6,279 229.8,276.9 232.3,274.3 235.5,274.8 236.2,277.7 234.4,279.3"/>
<polygon fill="#fdea6e" points="182.2,265.3 182.9,261.3 186.9,260 189.4,263.8 185.6,266"/>
<polygon fill="#fdf6e4" points="310.1,269.9 314.2,270.1 314.9,273.6 311.7,276.3 306.1,275.5 305.1,271.4"/>
<polygon fill="#fdf6e4" points="216.6,205.2 217.3,208.5 215.2,210.7 211.6,212.2 209.2,208.7 210.1,205.5 213.6,202.3"/>
<polygon fill="#fdea6e" points="286.6,206.7 289.8,205.7 293,207.3 290.6,209.5 287,208.7"/>
<polygon fill="#fdea6e" points="204.1,294.2 202.6,291.4 203.2,288.5 206,287.8 207.9,289.2 210.1,292 206.6,293.7"/>
<polygon fill="#fdf6e4" points="249.8,261 248.8,256.8 254.1,256.4 256.5,259.5 253.6,261.6"/>
<polygon fill="#ffff9f" points="273.9,220.5 274.9,222.8 271.2,223.4 268.9,221.4 271.4,219.5"/>
<polygon fill="#ffff9f" points="152.3,215.9 155.7,215.8 159,217.2 157.6,218.9 153.6,219.8 152,218.2"/>
<polygon fill="#fdea6e" points="284.2,302.7 283.5,304.9 280.5,305.6 278.1,304 280.2,301.8"/>
<polygon fill="#fdf6e4" points="176.1,260.9 173,262.6 169.4,261.8 169.8,259.6 173.6,258.7"/>
<polygon fill="#ffff9f" points="121.4,203.2 119.4,203.7 116.2,203.3 116.2,201.7 117.6,200 120.4,200 122.6,201.4"/>
<polygon fill="#fdf6e4" points="258.7,293.4 261.9,293.8 263.1,297.8 260.2,301.5 257.9,298.1"/>
<polygon fill="#fdea6e" points="250.1,326.4 253.7,328 253.4,331 249.8,333.4 246,331 247,327.3"/>
<polygon fill="#ffff9f" points="263.6,290.8 261.2,293.2 259,292.3 258.4,289.8 259.7,288.8 262.2,289.1"/>
<polygon fill="#fdea6e" points="213.9,329 213.9,325.7 217.5,323.8 220.8,323.4 222.2,326.1 222.3,329.3 218.5,330.2"/>
<polygon fill="#fdea6e" points="168.2,263.9 165.8,260.8 169.6,258.5 171.9,260.6 171.5,263.3"/>
<polygon fill="#fdf6e4" points="142.4,253.7 140.9,251.3 142.5,248.2 146.4,248.6 148.9,251.2 147.2,254.4"/>
<polygon fill="#ffff9f" points="242.3,187.6 246.3,187.5 249.4,191.3 245.9,195.1 241.1,195 241,190.3"/>
<polygon fill="#fdea6e" points="248.3,282.2 243.6,280.6 243.7,277 248.7,275.7 252.1,278.8"/>
<polygon fill="#ffff9f" points="199.2,255.8 199,253.6 201.6,252.1 204.4,253.6 203.9,255.6 201.8,256.6"/>
<polygon fill="#fdea6e" points="204.3,169.8 211,171.8 211.6,175.2 206.1,178.1 200.5,176.5 201.2,172.4"/>
<polygon fill="#fdea6e" points="239.4,281.6 234.1,285.8 228.5,284.4 227.7,279.8 233.5,277.6"/>
<polygon fill="#fdf6e4" points="140.4,264.6 136,261.5 139.6,258.3 146.8,259.2 145.9,263.7"/>
<polygon fill="#fdea6e" points="184.8,251.5 184,255.8 182.4,259.8 179.2,257.9 176.8,253.5 180.2,251.3"/>
<polygon fill="#fdf6e4" points="257.6,218.8 261.4,222.9 255.9,225.1 251.6,225.3 250.6,221.3 253.5,217.9"/>
<polygon fill="#fdea6e" points="187.1,282.2 192.2,279.9 197.3,278.8 199.5,280.8 199.1,285.2 195.7,286.8 190.5,285.3"/>
<polygon fill="#fdf6e4" points="158.6,202.9 151.6,203.3 151.3,198.1 157,197.6 161.5,200.1"/>
<polygon fill="#fdea6e" points="181,252.1 182.3,250.9 185.7,251 186.9,252.2 185.2,254.1 182.3,254"/>
<polygon fill="#fdea6e" points="167.3,262.5 168.7,258.7 171.4,259.5 172.9,260.8 173.7,264.1 171.5,267.1 169.3,266.4"/>
<polygon fill="#fdea6e" points="202.3,287.8 204.1,285.6 207.7,285.4 210.7,286.9 210.3,289.9 206.7,291.8 204.1,291.7"/>
<polygon fill="#fdea6e" points="244.1,188.3 246,190.6 246.8,193.5 245.2,195.2 242.5,196.8 240.7,193.7 242.1,190.6"/>
<polygon fill="#fdea6e" points="202.9,186 201.5,184.6 203.7,182.8 207.1,182.2 208.9,184.7 206.7,186.5"/>
<polygon fill="#fdea6e" points="197,305.1 194.3,304.1 193.6,301.7 196.9,300.3 199.2,301.6 199.9,303.9"/>
<polygon fill="#fdea6e" points="260.2,231.4 262.9,229.7 265.9,230.8 266.5,233.6 262.5,233.6"/>
<polygon fill="#ffff9f" points="121,222 122.6,225.6 119.3,227.5 117,225.5 118.1,222.9"/>
<polygon fill="#ffff9f" points="204.1,261.9 205.2,260.1 207.3,260.7 207.9,262.2 207.6,263.6 206,264.7 204.8,263.9"/>
<polygon fill="#fdf6e4" points="234.3,303.7 238.2,304.6 241,307.3 239,310.6 234.6,310.4 233,307.7"/>
<polygon fill="#fdea6e" points="177.1,292.1 173.9,291.5 172.1,289 175.2,287.7 178.9,288.1 180.2,290.2"/>
<polygon fill="#ffff9f" points="190.7,182.9 188.8,179.7 193.8,178.2 197.1,180.3 195.5,183.8"/>
<polygon fill="#fdea6e" points="191,226 198.8,224.2 203.6,227.5 201.1,232.6 193.4,231.7"/>
<polygon fill="#fdf6e4" points="285.9,287.7 284.6,285.7 286.7,284.6 290.4,284.4 291,286.6 289.3,288.6"/>
<polygon fill="#fdea6e" points="172.2,189.1 170.8,189 169.5,187.7 170.6,186.4 172.1,185.7 173.5,186.7 173.5,188.5"/>
<polygon fill="#fdea6e" points="288.4,320.3 289.4,318.3 292.6,318.6 294.8,320.8 292.1,323.1 289.1,322.9"/>
<polygon fill="#fdea6e" points="182.1,297.3 187.4,294.4 190.1,298.3 189.3,301.9 184.4,301.1"/>
<polygon fill="#fdf6e4" points="168.7,217.1 168.5,215.6 171.5,214.2 174.6,213.3 175.4,215.7 174.6,217.7 172.5,218.3"/>
<polygon fill="#fdf6e4" points="205.3,320.7 205.8,315.8 210.5,313.9 212.8,317.7 210.6,322"/>
<polygon fill="#fdea6e" points="304,245.5 302,243.8 303.3,241.6 306.2,242.3 306,244.6"/>
<polygon fill="#fdea6e" points="328.7,237.7 330.4,239.1 329.3,241.3 327.3,241.7 326.3,239.8 326.7,238.3"/>
<polygon fill="#fdea6e" points="315.4,264.4 314.7,261.2 315.8,259.4 321.3,258.4 323.9,262.3 319.8,265.5"/>
<polygon fill="#fdf6e4" points="316.3,256.1 311.9,253.8 311.5,249.8 316.3,248.3 322,250.2 320.8,254.4"/>
<polygon fill="#fdf6e4" points="243.6,217.5 240.6,215.9 240.8,213.6 243.9,213.5 246,215.1"/>
<polygon fill="#ffff9f" points="244,267.7 243,270 240.9,271.6 239.5,268.9 240.1,265.9 242.2,265.7"/>
<polygon fill="#ffff9f" points="245,227 248.1,225.4 250.4,226.9 250.6,229.5 248.4,231.5 245.5,231 245.1,228.9"/>
<polygon fill="#fdea6e" points="177.8,179.6 175.3,179.8 173.2,178 174.5,176.7 177.3,176.1 177.9,177.6"/>
<polygon fill="#ffff9f" points="298.1,306.6 293.9,308.6 289.5,307.9 289.9,304.5 292.7,303.4 297.1,303.4"/>
<polygon fill="#ffff9f" points="222.8,176.6 224.4,179.4 223.3,184.1 219.5,181.5 218.9,176.7"/>
<polygon fill="#fdf6e4" points="332.9,204.6 331.3,207.6 327.2,209.5 323.6,206.8 324,204.1 326,201.9 328.8,202.6"/>
<polygon fill="#fdea6e" points="187.4,143.6 183.5,141.8 181.7,139.9 182.3,137.5 186.4,137.1 188.9,138 190,141"/>
<polygon fill="#fdf6e4" points="177,188.6 180.6,188.8 180.7,191.2 178.1,192.4 176,190.9"/>
<polygon fill="#fdea6e" points="183.8,171.4 184.3,167.7 187.5,165.4 189.8,168.1 190.2,171.4 187.4,172.4"/>
<polygon fill="#fdea6e" points="214.7,137.1 215.5,134.6 218.5,135.4 219,137.5 216.6,139.1"/>
<polygon fill="#fdf6e4" points="199.1,168.6 201.1,165.9 204.1,167.2 203.7,171.1 200.9,171.8"/>
<polygon fill="#ffff9f" points="235.5,126.2 238.2,124.5 241.1,125.2 243.7,126.7 241.8,128.4 239.1,129.3 236.4,128.3"/>
<polygon fill="#fdea6e" points="196,164.4 197.6,167 196.2,169.7 193.2,168.5 193.2,164.9"/>
<polygon fill="#ffff9f" points="221.8,176.7 223.6,176.1 225.6,177.4 225.3,178.9 224.3,180.5 222.4,180.6 221.6,178.9"/>
<polygon fill="#fdea6e" points="199.8,194.6 196.7,193.7 197.3,191.5 200.4,190.7 203,192 202.4,194.1"/>
<polygon fill="#ffff9f" points="215.5,178.7 216.8,177.1 218.4,177.3 219.4,178.2 218.5,180 216.8,179.9"/>
<polygon fill="#fdea6e" points="224.2,129 225.7,127.5 229.2,128.2 228.9,130.5 225.3,131.3"/>
<polygon fill="#ffff9f" points="188.1,144.1 187.4,141.6 189.2,139.6 192.5,140.5 192.2,142.9"/>
<polygon fill="#fdf6e4" points="223.3,168.8 223.6,167.5 225.4,166.5 226.5,167.4 227.3,169.1 225.9,170.5 224.2,170.3"/>
<polygon fill="#fdf6e4" points="214.3,167 214,165.3 217.3,164.7 220,166.1 217.4,167.8"/>
<polygon fill="#fdf6e4" points="239.3,140.2 241.4,137.1 244.5,137.2 246.3,139.9 244.7,142.3 241.1,142.7"/>
<polygon fill="#fdea6e" points="197.2,170.7 194.4,171.8 192.4,170.1 193.1,167.7 194.5,167 197.2,167.6 199.7,169.2"/>
<polygon fill="#ffff9f" points="197.8,162.4 195.7,163.8 193.8,162.8 193.9,161 194.4,159.2 196.3,159.2 197.4,161.1"/>
<polygon fill="#fdea6e" points="220.4,149.7 224.3,148.3 227.3,150.6 225.3,152.9 221.8,152"/>
<polygon fill="#ffff9f" points="167.2,194.2 165.3,192.9 165,189.8 167.3,188.1 170.1,190.2 169.6,193.4"/>
<polygon fill="#ffff9f" points="224.9,180.2 222.8,179 222.9,177 224,174.4 226.2,175.2 227.1,177.3 227.3,179.1"/>
<polygon fill="#ffff9f" points="225.8,147.3 225.3,149 224.3,149 223.1,148.5 222.2,147.2 223.3,145.7 225,146.1"/>
<polygon fill="#fdea6e" points="170.8,163.7 170.9,165.9 168.3,167.5 164.5,165.3 164.7,163.4 168.6,162.5"/>
<polygon fill="#ffff9f" points="200.9,167.2 201.3,170.2 199.9,171.7 197.7,172.7 196.1,169.7 197.1,167.3 199.1,165.9"/>
<polygon fill="#fdf6e4" points="154,185.9 153.4,182.7 158.2,181.3 160.1,184.7 157.7,187.3"/>
<polygon fill="#fdea6e" points="168.1,138.6 164.8,137.8 164.2,135.5 167.1,134.3 169.4,134.8 171.2,136.8"/>
<polygon fill="#ffff9f" points="229.1,168 227.7,166.6 226.8,165 228.2,164.2 229.9,163.5 230.6,164.9 230.4,166.5"/>
<polygon fill="#ffff9f" points="246.5,159.3 243.1,158.3 243.6,155.4 246.8,155.3 247.8,156.9"/>
<polygon fill="#ffff9f" points="188.9,178.4 188.1,181.8 185.5,181.7 183.9,178.7 186.5,175.6"/>
<polygon fill="#ffff9f" points="179.3,133.6 175.7,134.2 173.5,132.4 175,128.8 179,129.9"/>
<polygon fill="#fdf6e4" points="157.3,136.3 155.3,137.8 152.4,138 151.5,136.7 150.4,134.6 153.6,133.5 156,134.8"/>
<polygon fill="#fdf6e4" points="412.2,295 414.9,294.8 417.1,296.7 416,299.9 413.5,300.9 410.7,298.4"/>
<polygon fill="#d2f5fe" points="352.9,296.1 352.3,299.6 347.7,300.5 347.3,296.7 349.3,293.6"/>
<polygon fill="#68fbfc" points="384.1,308.8 386.4,307.4 389.2,308 388.8,310.5 386.7,312.1 384.6,311"/>
<polygon fill="#fdf6e4" points="312.4,340.7 311.7,338.1 312.4,336.1 314.9,336.2 315.6,338.6 314,340.8"/>
<polygon fill="#68fbfc" points="387.5,323.3 388.7,325 387.7,327.8 385.7,328.9 383.6,326.4 384.2,323.4"/>
<polygon fill="#d2f5fe" points="315.5,267.2 312.2,265.9 310.8,264.4 312.7,262.2 316.2,262.4 317.2,264.9"/>
<polygon fill="#68fbfc" points="306.4,315.3 307.7,314.3 310,314.5 310.3,315.9 307.7,316.9"/>
<polygon fill="#ffff9f" points="322.6,340.6 325.3,338.9 328.5,338 329.2,341.8 327.7,343.5 323,343.8"/>
<polygon fill="#d2f5fe" points="301.8,300.7 301.6,298.8 303.6,298.2 305.9,298.4 306.2,300.2 304.1,301.5"/>
<polygon fill="#68fbfc" points="401.9,294.6 402.3,297.2 400.8,298.4 398.6,299.1 397.3,297.1 397.3,295 399.8,293.6"/>
<polygon fill="#d2f5fe" points="348.3,283.4 346.9,283.1 346,281.6 346.9,280.4 348.8,280.9 349.5,282.1"/>
<polygon fill="#68fbfc" points="276.4,314.5 278.1,313.6 279.3,315 278.9,317.1 276.4,316.7"/>
<polygon fill="#d2f5fe" points="409.4,318.3 407.8,315.9 410.6,314.3 413.8,314.5 416.1,316.1 414.6,318.5 411.9,319"/>
<polygon fill="#d2f5fe" points="383.4,310 384.2,312.2 382.6,313.6 380.8,312.7 380,310.8 381.7,308.6"/>
<polygon fill="#ffff9f" points="402.6,258.8 402.7,262.2 400.1,263.3 397.3,261.6 398.4,258.6"/>
<polygon fill="#d2f5fe" points="396.2,298.3 398,297.7 399.4,299.1 398.1,300.8 396.9,301.9 395.5,300.9 394.5,299"/>
<polygon fill="#ffff9f" points="320.6,328.1 318.6,328.2 317.5,326.7 318.7,325.3 320.7,325.7"/>
<polygon fill="#fdf6e4" points="408.7,274.8 410.8,273.4 413,274.4 413,276.4 410.9,278 408.7,276.3"/>
<polygon fill="#ffff9f" points="313.6,286.1 316.7,286.8 318.2,290.1 314.6,291.9 312.9,289.5"/>
<polygon fill="#ffff9f" points="305.1,254.1 309.8,255 312.1,257.6 308.1,259.6 304.5,257.7"/>
<polygon fill="#d2f5fe" points="414.9,257.3 417.1,255 421.1,256.3 420.4,258.4 417.4,259.2"/>
<polygon fill="#fdf6e4" points="298.8,260.7 300.7,260.6 301.6,261.9 301.6,263.9 300,265.3 298.5,264.1 298.2,262.3"/>
<polygon fill="#68fbfc" points="324.2,334.1 326.9,335.5 325.5,337.9 323.5,340.3 320.2,339.1 320.1,336.2 321.3,333.8"/>
<polygon fill="#ffff9f" points="374.4,262.7 376.5,262.7 378.3,263.8 377.7,265.6 375.4,265.7 373,265.3 373.2,263.9"/>
<polygon fill="#68fbfc" points="338.7,306.6 337.4,308 336,308.5 334.5,307.5 333.4,306.1 335.4,304.8 337.9,305.4"/>
<polygon fill="#fdf6e4" points="307.5,311 305.6,309.6 306.5,307.7 308.6,307.6 308.8,309.2"/>
<polygon fill="#fdf6e4" points="401.1,303.2 406.5,303.7 408,305.8 407.7,309 402.9,309.5 399.4,306.5"/>
<polygon fill="#d2f5fe" points="340.2,309.6 339.1,309.1 338.9,307.9 340,306.8 342,307.4 342.6,308.5 342,309.3"/>
<polygon fill="#fdf6e4" points="372.7,244.9 370.3,246.6 366.6,245.3 367.9,243.3 371.6,242.9"/>
<polygon fill="#d2f5fe" points="346.9,287.1 347.6,288.2 347,289.5 345.9,289.1 344.9,288.6 345.4,287.7 346.1,286.4"/>
<polygon fill="#68fbfc" points="293.2,314.9 294.9,314.3 296.4,315.1 296.8,316.3 294.4,317.2 292.6,316.1"/>
<polygon fill="#ffff9f" points="338.5,287.1 337.1,288.4 335.3,288 333.8,287.2 334,285.9 335.8,285.9 337.6,286.1"/>
<polygon fill="#fdf6e4" points="319.3,316.3 322.3,318.2 323.9,320.3 321.8,322.9 318.4,323.2 315.8,321.2 315.6,318.6"/>
<polygon fill="#68fbfc" points="412.5,312.7 408.3,309.5 410.4,306.4 416,306.2 415.9,310.1"/>
<polygon fill="#d2f5fe" points="312.1,273.1 314.5,271.7 317.6,272.8 316.6,276 313.1,275.5"/>
<polygon fill="#d2f5fe" points="388.7,258.4 389.4,256.7 391.7,255.1 393.9,256.3 395.2,258.4 393.3,259.5 390.5,260.3"/>
<polygon fill="#fdf6e4" points="338.8,249.6 342,249.9 343.8,251.4 342.5,253.7 340.5,255.7 338.6,254.1 337.3,251.6"/>
<polygon fill="#ffff9f" points="412.8,248.3 416.1,247 418.7,249.3 415.9,251.7 412.2,250.8"/>
<polygon fill="#ffff9f" points="347.7,264.5 346.1,266.5 343.9,265.2 343.3,262.7 346.8,261.9"/>
<polygon fill="#fdf6e4" points="279.9,304.3 279.4,302.3 281.9,301.4 285.1,302 286.1,303.7 282.9,305.1"/>
<polygon fill="#68fbfc" points="397.3,284.2 397.6,282.9 399.3,281.9 402.6,281.8 402.8,283.8 400.4,284.9"/>
<polygon fill="#68fbfc" points="318.2,232.8 320.2,234.7 320.1,237.4 317.5,238.8 315.5,236.7 315.4,234.3"/>
<polygon fill="#ffff9f" points="339.6,251.4 339,248.6 340.8,246.5 344.9,247.5 343.2,250.5"/>
<polygon fill="#ffff9f" points="417.5,303.2 416.7,301.1 418.6,299.9 421.1,300.7 420.2,302.7"/>
<polygon fill="#ffff9f" points="285.7,259.1 281.1,259.5 278.7,256.4 282.7,254.2 286.1,256"/>
<polygon fill="#68fbfc" points="293.1,257.7 294.1,259.9 292.9,261.6 290.6,262.8 287.3,261 288.1,259.4 290.2,257.6"/>
<polygon fill="#fdf6e4" points="362.6,321.9 362.8,324.4 360.4,326 359,323.7 359.5,321.4"/>
<polygon fill="#68fbfc" points="281.3,320.4 282.3,318 286.6,318 287.9,320.9 284,321.8"/>
<polygon fill="#d2f5fe" points="297.5,310.1 297.8,306.8 300.9,306.3 302.2,308.9 300.6,310.6"/>
<polygon fill="#d2f5fe" points="401.9,318.4 406.1,317.1 409.3,316.1 411.1,319.4 409.9,322 406.1,323.2 403.2,321.2"/>
<polygon fill="#fdf6e4" points="281.9,258.8 284,260.8 283.8,262.9 282.9,265 280.4,264.8 279,262.7 280.1,259.9"/>
<polygon fill="#d2f5fe" points="351.1,307.4 353,308.2 353.6,310 352.6,311.3 349.8,311.1 348.2,309.7 348.1,307.5"/>
<polygon fill="#68fbfc" points="405.2,323.9 406,325.5 404.7,327.4 400.5,327.8 399.1,326 399.7,324.2 401.8,322.4"/>
<polygon fill="#68fbfc" points="371.3,333 369,332.4 367.8,329.8 370.8,328.6 372.1,330.4"/>
<polygon fill="#ffff9f" points="348.4,271.8 348.5,273.6 346.6,274.7 344.5,273.4 345.3,270.9 347,270.2"/>
<polygon fill="#ffff9f" points="308.7,338.5 306,339.8 302.9,340.5 301.6,338.5 301.9,335.9 304.6,334 306.9,336"/>
<polygon fill="#68fbfc" points="336.3,298.4 337.3,296.1 338.7,296 339.2,298.4 337.9,299.9"/>
<polygon fill="#ffff9f" points="328.3,284.6 329.7,281.7 332.2,281.2 334.8,283.6 331.9,285.1"/>
<polygon fill="#68fbfc" points="343.3,293.7 345.8,291.8 349.8,291 352.6,293.3 350.9,295.4 349.1,296.2 344.9,296.2"/>
<polygon fill="#d2f5fe" points="392.9,270.1 389.3,266.1 394.4,263.7 400.6,265.3 398.9,268.6"/>
<polygon fill="#fdf6e4" points="352.7,270 352.8,271.3 351.4,272 350.3,271.2 350.3,269.4 351.7,268.7"/>
<polygon fill="#ffff9f" points="386.6,252 390.7,251.3 393,252.4 393.7,255.2 389.9,256.5 386.4,255.3"/>
<polygon fill="#d2f5fe" points="361.8,282.2 362.8,280.9 364.4,281.7 365.2,283.4 364,285.3 362.8,285.5 362,283.9"/>
<polygon fill="#d2f5fe" points="367.3,236.1 368.7,238.5 368.6,240.9 366.1,242.1 364,240.4 363.8,238.2 365.3,235.8"/>
<polygon fill="#fdf6e4" points="349.7,251.9 352.5,254 350.5,256.5 348.6,257 346.7,256.3 345.2,254 347.5,252.8"/>
<polygon fill="#68fbfc" points="332.5,270.6 331.7,271.8 330,272.5 328,271.4 327.9,270.1 329.6,269.6 331.7,269.6"/>
<polygon fill="#d2f5fe" points="366.7,332.8 368.8,330 374.7,330.2 374.5,333.6 370.6,335"/>
<polygon fill="#68fbfc" points="397.6,239.1 399.1,240.6 397.7,242.6 395.5,243 394,241.5 395,239.1"/>
<polygon fill="#ffff9f" points="342.1,337.2 341.2,339.4 338.9,341.3 336.6,338.9 336,336.2 338.6,334 341.1,334.9"/>
<polygon fill="#68fbfc" points="278.8,280.5 281.4,280.3 283.4,281.7 283.5,285.1 280.3,285.5 277.3,284.4 276.8,282.5"/>
<polygon fill="#d2f5fe" points="355.4,312.4 356.3,310.7 357.7,311 358.1,312.1 358,313.7 357.2,314.6 356.3,314"/>
<polygon fill="#d2f5fe" points="321.3,322.3 324.6,320.9 328,320.9 330.7,322.8 327.1,325.7 323.4,324.7"/>
<polygon fill="#68fbfc" points="295,237.2 294.9,235.3 296.3,233.4 299.4,233.4 302.9,235.3 300.5,237.4 297.8,238.3"/>
<polygon fill="#68fbfc" points="312.1,247 310.6,246.5 309.4,245.3 309.7,243.9 311.7,242.9 312.7,243.8 313.8,246"/>
<polygon fill="#d2f5fe" points="305,284 303.2,284.3 301.9,281.9 302.9,279.4 305.3,279.4 307.1,281.2 307.1,283"/>
<polygon fill="#fdf6e4" points="308.6,256 304.4,255.4 305.5,253 307.4,251.2 311.8,252.6 310.6,254.7"/>
<polygon fill="#fdf6e4" points="347.1,272.9 347,270.2 350,267.4 354.6,269.9 354.2,273 350.1,275"/>
<polygon fill="#ffff9f" points="388,325.3 389,327.4 386.3,329.3 381.7,327.8 383.7,324.8"/>
<polygon fill="#d2f5fe" points="431.2,262.4 428.6,265.1 424.2,264.9 423,261.2 427.8,260.7"/>
<polygon fill="#fdf6e4" points="346.6,282.3 347.9,281.8 348.9,282.7 348.4,284.4 346.6,284.2"/>
<polygon fill="#ffff9f" points="307,435.6 306,437 304,436.1 302.7,435 302.9,433.4 305.1,433.1 306.3,433.2"/>
<polygon fill="#d2f5fe" points="276.1,348.6 273.1,348 273.4,345.5 275.6,343.8 276.8,346.2"/>
<polygon fill="#d2f5fe" points="329.8,400.7 327.9,401.5 326.1,402.1 324,400.7 325.5,398.9 327,398.4 329.2,399.4"/>
<polygon fill="#68fbfc" points="303.5,399.2 305.7,398 307.4,399.7 306.6,401.2 305.2,401.9 303.2,401.2"/>
<polygon fill="#fdf6e4" points="308.4,399.6 305.4,398.1 308.1,395.3 311.3,396.1 311.6,399.4"/>
<polygon fill="#fdf6e4" points="305.8,360 308.7,359.8 310.9,360.8 310.4,363.3 308.8,365.3 305.8,364.1 304.1,362"/>
<polygon fill="#fdf6e4" points="316.9,394.5 311.8,394.5 310.5,392.2 312.2,389.8 314.8,388.7 318.9,390.2 319.6,392.6"/>
<polygon fill="#ffff9f" points="307.2,397.7 307.8,396.9 309,397.1 309.2,398 309.4,399 308.3,399.4 307.5,399.1"/>
<polygon fill="#fdf6e4" points="327.3,387.2 326.8,389.6 322.5,390.3 321.6,388 321.8,386.1 325.6,385"/>
<polygon fill="#fdf6e4" points="300.7,428.7 299.7,428.2 299.2,427.1 299.8,426.1 301.2,425.7 301.7,427 302,428.3"/>
<polygon fill="#68fbfc" points="293.2,411.6 291.1,410.9 290.8,409.4 292.2,408.1 294.4,408 295.2,409.8 295.7,411"/>
<polygon fill="#d2f5fe" points="326,378.6 323.9,376.4 325.3,373.8 328.5,373.9 330.5,375.8 329.8,378"/>
<polygon fill="#68fbfc" points="296.7,368.6 295.8,368.1 295.2,366.8 295.8,366 297.3,365.8 297.9,366.8 297.4,368"/>
<polygon fill="#d2f5fe" points="321.1,356.7 319.7,356.4 319.1,354.6 321,354.1 322.2,355.4"/>
<polygon fill="#fdf6e4" points="318.7,352.2 320.2,350.7 321.8,351.2 322.5,352.7 321.7,354.2 320.5,354.7 319.5,353.7"/>
<polygon fill="#fdf6e4" points="319.1,367.7 316.5,366.1 318.3,364.3 320.9,363.9 322.8,365.4 322.1,367.2"/>
<polygon fill="#d2f5fe" points="313.9,384 315.8,385.1 315.1,388 312.6,387.6 312.6,385.1"/>
<polygon fill="#ffff9f" points="267.2,367.6 268.3,365.2 271.1,365.4 271.7,368.2 269.2,370"/>
<polygon fill="#ffff9f" points="295.5,424.8 293.1,426.7 289.9,426.6 289.3,423.8 292.5,422.7"/>
<polygon fill="#ffff9f" points="325.6,359.5 326,363 322.8,364.7 319.9,361.7 322,358.8"/>
<polygon fill="#d2f5fe" points="296.7,372.7 297.3,371.2 298.5,369.8 299.9,370.9 300.9,372.9 298.5,373.1"/>
<polygon fill="#ffff9f" points="330,407.7 329,410.9 324.6,412.3 322,409 324.4,406.2"/>
<polygon fill="#ffff9f" points="297,380 297.6,381.2 297,381.9 295.6,382.4 295.1,381.6 294.9,380.1 296,379.9"/>
<polygon fill="#d2f5fe" points="281.8,350.4 279.8,351.5 278.6,349.4 279.3,347.1 281.5,346.5 282.8,348.8"/>
<polygon fill="#ffff9f" points="277.5,384.3 279.2,385.4 278.7,387.5 277,388.2 276,385.7"/>
<polygon fill="#68fbfc" points="326.6,363.5 327.4,364.7 326,365.8 323.7,365.5 322.4,364.6 324,363.3"/>
<polygon fill="#68fbfc" points="305.2,356.4 307.6,357.4 308.5,360.2 305.6,360.8 303.5,359.3"/>
<polygon fill="#ffff9f" points="317.6,402.3 320.8,403.4 322.3,405.1 320.8,407.4 317.6,408.4 314.6,406.6 315,404"/>
<polygon fill="#d2f5fe" points="273.7,386.1 274.2,384.2 276,384.5 277.8,385.9 276.9,388 275.6,389.4 273.6,388.2"/>
<polygon fill="#ffff9f" points="298.1,361.3 297.8,363.3 294.7,363.1 293.4,361.4 294.7,359.3 297.4,358.9"/>
<polygon fill="#5ee4ef" points="393.2,386.8 392.9,388.9 392.2,390.7 389.6,390.6 388.5,389.4 388.1,387.1 390.5,385.6"/>
<polygon fill="#54cde1" points="412.4,372.1 412.2,368.7 414.3,367.5 417.7,367.6 419.3,370.9 416.1,373.3"/>
<polygon fill="#d2f5fe" points="433.9,319.4 435.4,317.7 438.3,317.9 438.9,320.1 437.3,322 435.4,321.7"/>
<polygon fill="#5ee4ef" points="439.3,290.9 439.2,292.5 437.7,293.5 436.3,292.4 435.3,291.3 436.5,290.5 438.3,290.3"/>
<polygon fill="#d2f5fe" points="400.6,292.7 402,291.1 404,291.4 405.9,293.2 404.8,294.6 402.3,295.6 399.9,294.5"/>
<polygon fill="#54cde1" points="415.9,328.5 414.4,327 415.2,325.1 416.3,324.2 417.7,325.6 417.6,327.3"/>
<polygon fill="#5ee4ef" points="365.2,332.5 365.8,333.8 363.9,334.8 361.4,334.3 361.8,332.5 363.2,331.9"/>
<polygon fill="#5ee4ef" points="325.5,337.7 325,340 322.1,339.5 319.9,338.5 320.7,336.3 322.8,334.7 325.2,335.4"/>
<polygon fill="#d2f5fe" points="347.1,332 346.7,334.6 344,334.3 343.5,332.4 344.9,330.3"/>
<polygon fill="#5ee4ef" points="417.8,345.2 415.3,343.3 418,340.2 420.4,340.6 421.8,343.6 419.9,345.8"/>
<polygon fill="#5ee4ef" points="363.9,358 365.8,359 365,360.4 363.4,360.6 362.4,359.2"/>
<polygon fill="#d2f5fe" points="398,327.7 397.2,329.6 396.3,330.3 394.9,329.4 394.7,327.9 395.2,326.6 396.8,325.9"/>
<polygon fill="#5ee4ef" points="330.1,353.2 331.2,352.9 331.9,353.1 332.4,354.3 331.6,355.1 330.3,354.8 329.4,354.1"/>
<polygon fill="#5ee4ef" points="373,390.2 373.2,391.3 372.3,391.7 371.2,392 370.9,390.8 371,389.9 372.1,389.2"/>
<polygon fill="#d2f5fe" points="423.9,377.8 426.3,377.8 426.9,379.2 425.6,380.6 423.5,380.1 423,378.9"/>
<polygon fill="#d2f5fe" points="375.7,330.5 376.7,332.4 375.2,333.3 372.7,332.6 373.5,330.9"/>
<polygon fill="#54cde1" points="366.5,365.2 367.9,366.6 366.1,368.3 364.3,367.3 364.1,365.6"/>
<polygon fill="#54cde1" points="436.8,351 437.8,348.9 439.3,348.1 441.5,349 441.6,350.9 440.7,352.9 438.5,353.3"/>
<polygon fill="#5ee4ef" points="398.2,350.3 400.4,349.6 402.1,350.9 402.9,353.6 400.6,354.6 398.7,354.8 397.6,352.8"/>
<polygon fill="#d2f5fe" points="417.2,351.2 414.4,352 411.1,352.1 408.6,349.1 412.2,346.9 415.7,346.1 418.8,348.8"/>
<polygon fill="#54cde1" points="443.1,318.9 441.2,316.9 442.1,314.4 443.9,313.9 446,315.4 446.6,317.1 445,318.5"/>
<polygon fill="#5ee4ef" points="441.4,339.7 440.3,341.7 438.8,343.1 436,342 435.4,340.7 435.9,339.5 439,338.2"/>
<polygon fill="#d2f5fe" points="388,360.4 388.9,361.9 388.9,363.5 386.6,363.9 384.5,362.6 384.6,361.4 386.4,360.3"/>
<polygon fill="#54cde1" points="419.3,364.4 418.8,363.4 419.9,362.1 421,362.3 421.7,363.6 421.5,364.5 420.3,365.2"/>
<polygon fill="#5ee4ef" points="429.8,335.8 426.2,335.3 425.6,332.6 428.1,331.3 431.4,331.5 431.9,334.2"/>
<polygon fill="#5ee4ef" points="420.3,304.2 417,305.1 415.4,301.6 418.5,299.4 421.1,301.2"/>
<polygon fill="#5ee4ef" points="394.8,329.3 395.2,330.1 395.1,331.4 393.9,332.1 392.7,331 393.1,329.8 393.8,328.9"/>
<polygon fill="#d2f5fe" points="399.5,287.1 401.1,287.9 401.9,289.5 400.7,291 398.6,290.6 397,289.6 398,288.3"/>
<polygon fill="#5ee4ef" points="423.2,352.7 425.9,354.5 423.6,356.7 421,356.5 419.5,355 420.2,352.8"/>
<polygon fill="#5ee4ef" points="406.9,342.4 409.4,340.1 412.2,341.7 412.7,344.2 410.5,345.8 408.2,345.6"/>
<polygon fill="#d2f5fe" points="395.4,363.7 393.7,364.7 392,362.7 393.5,361.2 395.7,361.6"/>
<polygon fill="#d2f5fe" points="433.1,304.7 435.7,303.9 437.3,306.1 437.1,308.2 434.2,308.6 431.5,306.6"/>
<polygon fill="#d2f5fe" points="392.9,323.6 389.3,325.5 386.7,323.3 386.2,321 388.2,319.3 392.7,319.1 393.1,321.7"/>
<polygon fill="#54cde1" points="437.6,358.1 438.7,357.7 439.5,358.4 440.4,359.8 439,361.1 437.9,360.5 437.5,359.6"/>
<polygon fill="#d2f5fe" points="419.8,353.5 417.4,351.5 417.6,349.2 419.4,347.6 422.1,347.2 423.7,349.5 421.8,351.5"/>
<polygon fill="#5ee4ef" points="423,358.4 419.3,358.2 417,356.8 418.9,354 422.7,353.9 425.6,356.3"/>
<polygon fill="#d2f5fe" points="371.8,313.4 372.5,316 370.6,316.7 368.9,315.9 369.9,313.5"/>
<polygon fill="#5ee4ef" points="426.9,335.4 426.6,334 428,334.1 428.8,334.2 428.8,335.5 428.4,336.9 427,336.7"/>
<polygon fill="#54cde1" points="333.6,346.2 331.8,348.3 328.2,348 328.8,345.8 331,344.5"/>
<polygon fill="#54cde1" points="385.9,330.5 384.6,332.4 382.1,334.3 379.3,333.3 378.6,330.6 380.4,328.4 383.8,327.9"/>
<polygon fill="#5ee4ef" points="388.1,364 390.7,363.5 391.6,366.2 390.2,368.8 388.6,369.4 386.3,367.6 386.1,365.4"/>
<polygon fill="#5ee4ef" points="383.7,354.7 385.4,355.1 386.3,356.2 385,356.9 383,356.7 382.5,355.6"/>
<polygon fill="#54cde1" points="374,355.2 374.6,356.6 374.8,358.3 371.6,359.6 369.2,358.8 367.9,356.1 370.5,354.4"/>
<polygon fill="#54cde1" points="404.7,291.1 407.2,290.9 407.3,292.8 406.7,294 404.8,295 403.5,292.7"/>
<polygon fill="#5ee4ef" points="410.5,322.4 413.8,323.4 414.8,325.9 412.6,328 409.4,328.5 408.7,326.4 407.4,324.3"/>
<polygon fill="#5ee4ef" points="430.4,340.8 430.4,339.4 432,339 433.7,339.9 433.3,341.6 431.1,341.8"/>
<polygon fill="#d2f5fe" points="398.2,288.4 399.2,290.4 397.9,291.8 396,292.2 394.8,290.3 396.4,289"/>
<polygon fill="#d2f5fe" points="354.5,337.5 358.3,337.1 359.6,339.8 356.8,341.1 354.7,340"/>
<polygon fill="#5ee4ef" points="429.9,372.9 432.4,373 435.7,374.1 433.7,376.3 431.2,377.6 427.9,376.6 426.7,374.3"/>
<polygon fill="#5ee4ef" points="373.2,362.6 373.2,360.6 374.1,359.3 376,359.5 376.5,360.9 376.8,362.4 374.7,363.9"/>
<polygon fill="#5ee4ef" points="401.1,357.2 399.6,355.4 402.8,353.2 406.4,354.3 407.2,357.1 403.7,358"/>
<polygon fill="#5ee4ef" points="387.6,342.7 387.2,340.9 388.6,339.8 390.5,338.6 392.8,340.5 393,342.6 390,343.4"/>
<polygon fill="#d2f5fe" points="338,337.8 338.5,335 340.4,333.8 342.9,334 344.1,336.8 342.1,338.5 339.4,339"/>
<polygon fill="#54cde1" points="366.7,306.5 364.6,306.2 363.3,304.3 365.5,302.9 367.5,302.3 367.8,305.5"/>
<polygon fill="#54cde1" points="345.1,358.4 344,360.1 340.5,360.2 338.1,358 340.8,356.3 343.2,355.5 345.4,356.7"/>
<polygon fill="#54cde1" points="432.3,305.6 433.2,306.2 433.8,307.9 432.1,308.6 431.2,307.6 431.1,306.3"/>
<polygon fill="#d2f5fe" points="373.9,294.4 376.6,294.3 377.6,297.3 374.9,298.5 372.9,296.9"/>
<polygon fill="#5ee4ef" points="437.8,346.1 440.5,345.4 442.2,345.8 442.8,348 440.4,348.7 438.8,348.1"/>
<polygon fill="#5ee4ef" points="418.3,319.1 420.5,316.3 423.5,316.5 426.8,317.1 426.8,319.9 423.9,320.9 420,320.8"/>
<polygon fill="#d2f5fe" points="391.8,338.3 394,339.7 394.4,341.3 392.1,342.9 390.1,342.6 389.7,341 390.3,339.3"/>
<polygon fill="#d2f5fe" points="433,339.1 434.1,336.9 438,334.8 441.3,337.3 441.8,340.1 437.1,340.4"/>
<polygon fill="#d2f5fe" points="422.7,329.2 421,327.5 421.9,325.9 424.4,324.6 426.3,327.1 425.2,329"/>
<polygon fill="#54cde1" points="355.6,347.4 352.8,345.2 353.6,342.5 357.5,341.9 358.8,345.3"/>
<polygon fill="#54cde1" points="387.1,355.1 389.9,356.1 390.3,358.2 387.6,359.5 385.2,358.7 384,356.6"/>
<polygon fill="#5ee4ef" points="322.7,343 323.4,341.3 324.9,342.4 325.5,343.6 324.3,345.1 323,344.2"/>
<polygon fill="#d2f5fe" points="406.5,375.9 406.2,373.5 408.6,371.3 410.5,373.1 410.9,375.6 408.9,377"/>
<polygon fill="#54cde1" points="420.9,370.6 421.3,368.6 424.4,368.8 424.5,371.2 422.4,372.4"/>
<polygon fill="#d2f5fe" points="375.6,316.9 373.3,315.9 372,314.3 373.3,312.3 375.5,311.3 377,313.4 376.7,315.7"/>
<polygon fill="#5ee4ef" points="353.6,367.3 355.1,368.9 356,370.3 353.8,371.5 351.1,370.9 349.3,369.6 351,367.7"/>
<polygon fill="#5ee4ef" points="382.8,368.4 381.4,368.3 380.4,368 380.6,366.9 381.1,365.7 382.2,366 383,367.3"/>
<polygon fill="#5ee4ef" points="337.9,439 335,439 333.1,437.5 334.1,435.4 335.5,434.6 337.9,434.7 339.5,436.6"/>
<polygon fill="#54cde1" points="328,400.1 327.3,398.3 330.2,397.7 333.3,397.8 333,400.2 331.3,402.4 328.4,402.4"/>
<polygon fill="#5ee4ef" points="347.5,396.8 348.5,400.3 343.9,402.3 339.7,399.7 341.9,396.4"/>
<polygon fill="#d2f5fe" points="308.3,418.5 309.3,420.9 306.4,421.3 304.4,420.1 305.9,417.8"/>
<polygon fill="#d2f5fe" points="300.4,440.8 302.7,438.4 306.2,438 307.6,439.8 308,442.4 305.7,444 302,442.9"/>
<polygon fill="#5ee4ef" points="307.5,444.7 308.6,447 305.1,448.4 302.2,447.5 301.9,445.7 304,444.8"/>
<polygon fill="#5ee4ef" points="310.8,426.5 309.2,428.2 307,426.9 305.4,425.5 308.1,423.7 311.3,425.1"/>
<polygon fill="#d2f5fe" points="292.3,457.3 291.8,455.9 292.6,455.1 294,455.2 294.3,455.8 294.3,457 293.3,457.5"/>
<polygon fill="#5ee4ef" points="326,451.7 328.1,451.1 329.7,451.4 331.1,452.9 329.7,454 327.6,454.4 326.2,453.5"/>
<polygon fill="#5ee4ef" points="302,405.2 304.3,402.9 307.7,403.4 309.8,406.4 306.5,408.3 302.6,407.8"/>
<polygon fill="#5ee4ef" points="344.5,404.8 343,404.7 341.1,403.4 342.6,402.3 344.4,402.1 345.8,403.2"/>
<polygon fill="#5ee4ef" points="320.9,434.6 324.8,437.5 322.8,440.7 319.3,440.6 318.5,437.2"/>
<polygon fill="#54cde1" points="332.9,434.7 333.9,436.3 332.8,437 331.5,437.5 330.9,436.4 330.8,435.2 332.1,433.9"/>
<polygon fill="#54cde1" points="316.4,408.1 314.7,408.2 314.6,406.5 315.1,405.5 317.3,405.3 317.7,407.1"/>
<polygon fill="#d2f5fe" points="328,447.8 328.7,449 328.9,450.6 326.1,451 324.7,449.5 325.8,448.3"/>
<polygon fill="#54cde1" points="305.7,429.2 307.5,432 305.6,434 303.7,433.8 301.3,432.1 303.2,430.6"/>
<polygon fill="#d2f5fe" points="298.4,430.6 300.2,431.9 298.6,433.6 295,433 294.7,431.7 296.2,430.3"/>
<polygon fill="#d2f5fe" points="355.1,398.4 354.6,400 352.1,400.5 350.9,399.6 351.3,397.5 352.8,397.6"/>
<polygon fill="#d2f5fe" points="300.3,416.4 300,414.1 303.2,412.4 305.7,414.1 306.1,416.3 302.7,417.8"/>
<polygon fill="#d2f5fe" points="326.7,401.5 330.7,402.3 331,405.6 327.7,407.9 324.1,404.7"/>
<polygon fill="#54cde1" points="289.7,461.6 291.7,460.2 294,460.6 294.6,462.7 292.9,463.5 290.9,463.6"/>
<polygon fill="#5ee4ef" points="291.8,469.1 292.8,470.7 290.9,471.2 289.9,470.4 289.9,468.4"/>
<polygon fill="#54cde1" points="347.1,401.6 348.3,399.9 350.3,400.9 349.9,402.6 348.3,402.8"/>
<polygon fill="#5ee4ef" points="302.6,419.1 301,418.6 300.2,417.4 301,415.8 302.4,415.8 303.8,416.6 303.3,418.2"/>
<polygon fill="#54cde1" points="313.8,431.2 313.1,433.5 311.2,433.7 308.8,433 309.4,430.8 310.2,429.6 312.8,429.5"/>
<polygon fill="#54cde1" points="341.8,394.9 343.1,395.5 342.4,396.9 341.2,397.4 339.8,396.7 340.8,395.3"/>
<polygon fill="#5ee4ef" points="341,431.3 336.2,431.3 334.3,428.6 337.6,426.6 341.7,428.2"/>
<polygon fill="#d2f5fe" points="350.3,398.4 348.3,398.2 346.8,396.7 348.8,395.4 351.7,396.6"/>
<polygon fill="#d2f5fe" points="301.4,454.8 303.1,453 305.7,453.6 306,455.5 303.3,456.2"/>
<polygon fill="#d2f5fe" points="322.6,442.5 323.8,440.5 326.3,439.7 328,440.9 328.5,443 327.3,445.2 323.8,444.9"/>
<polygon fill="#40a0c7" points="193,482.7 192.7,480.6 194.8,479.2 196,481 195.2,482.9"/>
<polygon fill="#2d70ac" points="188.4,484.2 189.3,485.1 188.6,486.2 187.3,486.1 186.3,485.8 186.1,484.5 187.3,483.6"/>
<polygon fill="#2d70ac" points="218.7,420.8 218.2,419.5 219.1,418.5 220.7,418.9 220.3,420.6"/>
<polygon fill="#40a0c7" points="224.7,405.1 224.1,406 223.2,407 221.9,406.4 221.7,405.5 222.2,404.7 223.3,404.2"/>
<polygon fill="#2d70ac" points="211.5,414.6 210.5,414.6 210.1,413.3 210.4,412.2 211.9,411.9 213.1,412.9 213.1,414.1"/>
<polygon fill="#40a0c7" points="214.5,479.7 212.4,479.6 211.1,478 212.4,476.3 213.9,476.1 215.7,477.7"/>
<polygon fill="#4ab6d4" points="212.2,488 211.8,486.6 213.9,485.7 216.1,486.5 215.8,488 214.5,489"/>
<polygon fill="#4ab6d4" points="208.6,466.8 208.3,468.3 205.8,468.6 205.5,467.1 205.5,465.2 207.5,464.7"/>
<polygon fill="#3789ba" points="217.9,442.5 220.6,444.1 220.8,445.8 219.8,448.4 217.2,447.7 216.5,445.1"/>
<polygon fill="#2d70ac" points="195.2,446.2 193,447 190.7,446.3 190.1,444.7 191.3,443 193.5,443.2 195.1,444.2"/>
<polygon fill="#2d70ac" points="220.7,471.3 219.2,472.3 217.4,471.3 217.9,469.5 220.3,469.8"/>
<polygon fill="#4ab6d4" points="226.7,429.8 225.8,432.9 222.3,432.2 222.8,428.6 225.2,428.5"/>
<polygon fill="#3789ba" points="190.1,448.7 189.9,447.3 190.3,445.9 191.8,446.2 192.5,447.6 191.7,448.9"/>
<polygon fill="#2d70ac" points="214.9,416.9 216.6,415.5 218.7,416.4 218.8,418.3 216.3,418.3"/>
<polygon fill="#4ab6d4" points="209.3,491.7 211,491.4 212.2,492.7 211.9,494.4 210.3,495.1 208.9,495.1 208.8,492.8"/>
<polygon fill="#3789ba" points="211.8,415.1 210.9,416.4 209.8,415.5 210,413.7 211.5,413.6"/>
<polygon fill="#2d70ac" points="207.2,405.4 208.6,406.8 208.5,409.1 207,410.4 204.9,408.9 204.3,407.3 205.8,406.2"/>
<polygon fill="#4ab6d4" points="191.4,428.5 191,429.3 189.9,429.7 188.7,428.6 188.9,427.3 190.2,426.5 191.6,427.4"/>
<polygon fill="#4ab6d4" points="220.5,454.3 220.7,455.8 220.8,457.4 219.3,457.1 218.5,456.9 218.4,455.4 219,454.1"/>
<polygon fill="#3789ba" points="199.9,478.8 198.1,480.8 195.9,480.3 194.2,477.9 196.2,476.2 198.2,475 200,476.6"/>
<polygon fill="#4ab6d4" points="194.3,461.7 194.7,463.3 193.3,464 191.8,463.3 191.6,462 192.3,461 193.7,459.7"/>
<polygon fill="#40a0c7" points="222.9,472.5 221.6,472.3 221.5,470.8 222.4,470.5 223.2,471.1"/>
<polygon fill="#4ab6d4" points="217.3,448.6 217.9,449.5 217.8,451.5 216.4,452.4 213.7,451.7 213.9,449.8 214.2,448.7"/>
<polygon fill="#40a0c7" points="196.2,458.4 197.9,459.1 197.9,460.8 196.3,461.3 194.9,461.1 194.2,459.4"/>
<polygon fill="#2d70ac" points="184.8,460.3 182.3,460.1 181.3,457.7 182.6,455.7 185.2,456 186.8,458"/>
<polygon fill="#4ab6d4" points="210.7,466.4 211.3,468.1 210.4,469.4 209.1,469.4 208.7,467.5 208.8,466.4 209.9,465"/>
<polygon fill="#40a0c7" points="195.2,501.9 195.1,499.1 196.9,497.3 198.9,499.7 197.3,502.5"/>
<polygon fill="#4ab6d4" points="194,437.4 191.8,438 190.8,436.6 192.1,435.9 193.9,436.3"/>
<polygon fill="#40a0c7" points="217.6,482.6 219.1,480.8 221.5,482.2 220.5,484.6 218,485.5"/>
<polygon fill="#2d70ac" points="200.8,459.5 202.9,459.3 204.5,460.5 203.6,461.7 201.3,461.8 200.1,461"/>
<polygon fill="#40a0c7" points="199.8,430.5 201.8,428.5 204.2,429 205.2,431.2 204.7,432.7 202.1,433.8 199.2,432.4"/>
<polygon fill="#3789ba" points="216.3,492.1 214.9,494.7 212.9,495.5 209.4,494.9 208.2,493.2 210.3,491.6 213.4,491.3"/>
<polygon fill="#2d70ac" points="206.9,477.2 204.7,478.4 202.6,477.9 200.5,476.7 201.4,475.1 204,474 205.9,475.8"/>
<polygon fill="#40a0c7" points="195,469 196,467.7 198.3,468.6 199,470.8 197.4,472.8 195.5,473.9 194.6,471.7"/>
<polygon fill="#2d70ac" points="227.1,474 226.7,475.6 225.4,476.9 222.9,475.9 223.3,474.2 224.8,473.1"/>
<polygon fill="#3789ba" points="211.8,497.2 214.1,494.4 218.6,494.4 219.8,497.5 216,499.6"/>
<polygon fill="#2d70ac" points="222.1,427.6 220.8,427 220.9,425.5 222,425.1 223.6,424.6 225.3,426.2 223.8,427.5"/>
<polygon fill="#40a0c7" points="209.5,491.1 208.2,490.9 207.6,490.4 207.3,488.9 208.5,487.6 209.9,488.4 210.2,489.9"/>
<polygon fill="#4ab6d4" points="201,418.9 202.5,421.2 200.8,422.9 198.7,423.4 196.6,421.2 197.9,419"/>
<polygon fill="#40a0c7" points="205.3,477.3 204.1,479.1 201.9,480.9 198.4,479.7 198.4,477.4 201,475.6"/>
<polygon fill="#40a0c7" points="204.1,425.9 204.3,427.9 202,428 200.3,426.7 202.1,425.2"/>
<polygon fill="#40a0c7" points="206,428.1 206.5,429.5 205.1,431.6 203.2,431.2 202,429 203.8,427.2"/>
<polygon fill="#3789ba" points="195.3,449.1 194.4,448.4 195.1,447.6 196.6,447 197.3,447.8 197.8,448.9 196.8,449.2"/>
<polygon fill="#4ab6d4" points="193.2,431.6 193.1,433 192,433.3 191.2,432.3 191.2,431.2 192.6,430.7"/>
<polygon fill="#4ab6d4" points="221.4,428.1 221.5,425.6 223.2,423.7 225.9,425.2 225.1,427.7 223.3,430"/>
<polygon fill="#2d70ac" points="192.5,458.4 191.1,458.2 190.7,457.2 191.6,456.1 193,457.2"/>
<polygon fill="#3789ba" points="217.7,414.3 219.5,411.8 221.8,413.3 222.8,415.5 219.7,416.9"/>
<polygon fill="#4ab6d4" points="197.3,494.1 197.3,496.9 195.5,498 193.5,496.4 194.5,493.4"/>
<polygon fill="#3789ba" points="196.7,489.8 200.7,489.2 202.7,491.2 201.7,494 199,495.2 196.4,492.7"/>
<polygon fill="#3789ba" points="194,472.1 192.7,469.9 194.5,468.5 196.7,469.4 196.8,471.4"/>
<polygon fill="#40a0c7" points="224.1,420 222.7,420.6 221.2,420.6 220.6,419.1 221.5,417.7 222.9,417.5 224.5,418.4"/>
<polygon fill="#3789ba" points="198.8,486.3 197.4,487.6 196.3,486.3 195.9,484.9 197.3,484.4 198.5,484.7"/>
<polygon fill="#4ab6d4" points="186.1,443.7 188.3,443.4 189.2,444.7 188.9,447.7 186.3,448 184.9,445.6"/>
<polygon fill="#3789ba" points="191.5,472.9 188.4,472.8 187.5,469.9 189.9,467.3 193,469.6"/>
<polygon fill="#3789ba" points="217.2,473.1 213.7,473.4 210.7,471.6 214.7,469.6 219,470.8"/>
<polygon fill="#40a0c7" points="227.4,464 229.3,464.9 229.2,466.7 227.9,467.8 226.1,467 224.8,466.2 225.8,464.7"/>
<polygon fill="#2d70ac" points="219.2,432.2 221.2,433.9 218.6,435.3 216.1,434.7 215.6,433.1 216.8,431.6"/>
<polygon fill="#4ab6d4" points="206.2,412.8 205.4,415.3 203,415.7 200.2,413.6 201.9,411.4 204.8,410.7"/>
<polygon fill="#2d70ac" points="213.8,483.5 215.6,482.9 217.6,483.1 218.5,485 217.2,486.4 214.9,486.8 214,485.6"/>
<polygon fill="#40a0c7" points="222.6,473.1 225.3,472.5 228.1,473.2 228.6,476.3 224.9,476.6 222.2,475.5"/>
<polygon fill="#2d70ac" points="185.6,358.1 183.1,357.9 182.1,355.9 183.2,353.9 185.8,353.5 186.6,356.1"/>
<polygon fill="#2d70ac" points="217.7,396 214,397.7 211.4,396.1 211.2,392.6 216.4,393.8"/>
<polygon fill="#2d70ac" points="200,392.7 200.7,393.5 200.6,394.6 200,395 199.3,394.6 199.2,393.3"/>
<polygon fill="#3789ba" points="203.5,375.6 204.5,378 203.1,379.5 201.1,380.1 199,378.3 200.3,376.7"/>
<polygon fill="#2d70ac" points="165.8,336.4 168.1,335.8 170.2,336.4 170.6,337.7 169.3,339.2 167.2,339.5 165.1,338.1"/>
<polygon fill="#2d70ac" points="198,360.1 195.5,359.8 194,358.6 195.3,357 197.2,356.1 199.3,357.4 199.8,358.9"/>
<polygon fill="#2d70ac" points="190.6,374.6 191.9,375.4 192.7,377.3 191.1,378.4 189.3,378 189.5,376.3"/>
<polygon fill="#2d70ac" points="197.8,347.4 199.3,348.1 198.8,349.8 197.5,350.5 196.3,350.4 195.3,348.5 196.4,347.5"/>
<polygon fill="#3789ba" points="201,346.5 203.4,347.8 201.8,349.8 199.9,350.3 198.7,347.9"/>
<polygon fill="#2d70ac" points="195.9,388.6 197,386.4 199.2,385.9 199.9,388.1 200.7,389.9 198.4,391.7 196.6,390.5"/>
<polygon fill="#2d70ac" points="198,386.3 196.7,386.6 195.6,385.3 195.9,383.9 197.5,383.6 198.8,384.7"/>
<polygon fill="#2d70ac" points="202.1,370.5 201.9,369.6 202.1,368.4 203.9,368.4 204.9,369.1 205.1,370.4 203.7,370.7"/>
<polygon fill="#2d70ac" points="212.7,373.7 210.2,373.3 209.3,371.2 211.2,370.2 213.2,371.3"/>
<polygon fill="#2d70ac" points="190.9,349.6 193.7,349 194.7,351.4 192.3,353.5 190.2,351.6"/>
<polygon fill="#3789ba" points="187.5,391.4 186.1,388.8 189.5,387.6 191.6,389.1 191,391.1"/>
<polygon fill="#2d70ac" points="187,382.9 185.1,384.9 182.9,385.9 180.4,383.7 181.6,381.6 184.6,381.8"/>
<polygon fill="#2d70ac" points="201,377.4 200.2,376.3 200.8,375.2 202.8,375 204.6,375.2 204.6,377 202.8,378.4"/>
<polygon fill="#3789ba" points="174.1,341.1 172.6,341.5 171.2,340.9 171,339.7 172.6,339 174.2,339.2 175.1,340.2"/>
<polygon fill="#3789ba" points="205.9,362 208.9,361.3 211,362 210.4,364.6 207.2,363.9"/>
<polygon fill="#2d70ac" points="193.1,392.2 193.9,393.7 192.9,395.5 191.7,395.4 190.8,393.6 191.5,391.8"/>
<polygon fill="#2d70ac" points="175.3,369.7 176.8,371.7 175.7,373 173.4,374 171.9,372 173.1,370.8"/>
<polygon fill="#3789ba" points="184.2,362.7 184.2,364.4 182.6,365.1 181.6,364.4 181.3,362.6 182.7,362.3"/>
<polygon fill="#3789ba" points="173.2,372.7 172.9,370.6 175.3,368.8 178.7,369.7 180.3,372 176.7,373.7"/>
<polygon fill="#2d70ac" points="197.6,396.5 197.2,394.3 199.2,393.6 200.2,395.5 199.1,396.7"/>
<polygon fill="#2d70ac" points="182.6,356 181.4,356.9 180.5,356.3 180.5,355.1 181.1,354.7 182.1,355"/>
<polygon fill="#2d70ac" points="218.6,374.8 215.2,374.1 216.3,372.1 219.7,372.2 221.6,373.7"/>
<polygon fill="#2d70ac" points="191.6,347.7 193.5,347.8 194.4,349.8 194.4,351.9 192.7,352.5 190.8,351.9 189.8,350"/>
<polygon fill="#2d70ac" points="215.9,388.3 215.3,390.7 213.7,391 212.9,388.9 214.1,387.7"/>
<polygon fill="#2d70ac" points="196.3,381.9 196.2,384.7 192.8,386 191.3,382.8 193,380.6"/>
<polygon fill="#2d70ac" points="189.3,369.7 190.2,371.8 187.5,372.6 185.1,371.6 186.2,369.4"/>
<polygon fill="#2d70ac" points="192.9,376.4 194.1,377 193.5,378.1 192.1,378 191.8,376.8"/>
<polygon fill="#2d70ac" points="166.5,350.3 168.4,351.6 167.8,353 166.7,353.8 165.2,353.5 164.6,351.8"/>
<polygon fill="#2d70ac" points="193.4,380.1 194.2,382.4 192.9,384.7 189.8,384.4 189.1,381.6 190.9,379.6"/>
<polygon fill="#2d70ac" points="198.5,374.9 196.3,374.7 195,373.7 196.7,372.5 199.1,373"/>
<polygon fill="#3789ba" points="209.5,380.9 207.8,379.1 208.5,376.8 210.5,376.7 211.9,379.2"/>
<polygon fill="#2d70ac" points="184.8,572.5 182.1,573.4 180.2,571.5 182.2,569.3 184.5,570.7"/>
<polygon fill="#2d70ac" points="177,622.5 180.3,619.6 182.8,622.4 182.5,625.9 180.5,627.1 177.9,625.6"/>
<polygon fill="#2d70ac" points="193.9,523.8 198.1,525.3 199.8,528.8 193.4,530.6 191.7,527.4"/>
<polygon fill="#2d70ac" points="161.3,610.7 160.2,607.5 162.2,605 165.6,607.1 165.4,609.4"/>
<polygon fill="#2d70ac" points="167.3,576.9 165.2,575 164,572.4 167.8,572.4 170.5,572.8 171.7,574.5 170.4,576.9"/>
<polygon fill="#2d70ac" points="184.4,545.2 183.5,549.4 179.3,550.1 178,546.8 180.2,543.8"/>
<polygon fill="#2d70ac" points="172.1,535.1 177.3,534.9 179.2,538.2 175.5,540.7 171.6,538.8"/>
<polygon fill="#2d70ac" points="218.3,523.2 215.8,525.4 210.6,527.1 206.5,524.2 208.4,521.6 211.1,520 216.1,519.8"/>
<polygon fill="#2d70ac" points="178.2,573.1 176.7,575.2 173.8,574.1 172.7,571.4 177.1,570.8"/>
<polygon fill="#2d70ac" points="185.1,627.2 189.3,625.8 191.8,628.1 192.2,630.2 188.6,632.5 184.2,630.3"/>
<polygon fill="#2d70ac" points="161.4,586.9 158.5,587.2 156.7,585.2 157.2,580.6 160.8,579.4 162.5,583.4"/>
<polygon fill="#2d70ac" points="197.1,551.7 198.1,554.6 195,557.5 191.7,556.8 189.6,553.9 191.7,552"/>
<polygon fill="#2d70ac" points="167.8,531.3 165.4,533.4 162.5,532.2 163,527.9 166.6,527.1"/>
<polygon fill="#2d70ac" points="183.8,548.2 179.2,550.5 174.9,548.9 172.4,545.1 178.4,544.1 184.2,545.3"/>
<polygon fill="#2d70ac" points="175.5,568.7 176.6,565.6 180.8,565.8 182.6,567.1 182.2,569.4 178.6,571.1"/>
<polygon fill="#2d70ac" points="179.3,553.3 180.9,551.8 182.3,553.1 181.9,555.2 180.8,556.5 179.8,554.9"/>
<polygon fill="#2d70ac" points="199.2,578.2 195.8,573.6 200.8,570.3 207.6,571.5 206.7,576.3"/>
<polygon fill="#2d70ac" points="156.5,574.4 156.5,572.2 157.8,570.6 159.4,572 159.7,573.9 158.1,575.2"/>
<polygon fill="#2d70ac" points="195.2,585.1 200,580.1 207.7,580.6 208.6,585.6 201.8,588.7"/>
<polygon fill="#2d70ac" points="186.5,525.3 186.9,523.6 189,522.8 190.3,522.9 191.8,525.1 189.9,527.4 187.8,527.2"/>
<polygon fill="#2d70ac" points="186.7,637.9 182.9,637.5 180.6,634.9 182.2,631.2 187.4,631.6 190.6,634.9"/>
<polygon fill="#2d70ac" points="169.4,553.5 167.4,553.8 166,552.5 166.1,551.1 168.6,550.4 169.8,551.8"/>
<polygon fill="#2d70ac" points="179.2,527.3 181.4,530.8 178.3,533.5 173.9,532.3 173,528.9 175.6,526"/>
<polygon fill="#2d70ac" points="201.2,549.3 204,552.2 202.6,555 198.6,553.9 198,551.6"/>
<polygon fill="#2d70ac" points="194.1,572.8 198,570.9 200.4,574.6 198.1,578.4 194.6,576.3"/>
<polygon fill="#fdea6e" points="245.7,345.6 244,346 242.4,344.4 242.9,343.1 244.3,342.3 245.7,342.5 246.8,344.1"/>
<polygon fill="#fdea6e" points="242.1,354.1 240.2,354.5 238.8,353.4 239.6,351.1 241.8,351.7"/>
<polygon fill="#fdea6e" points="218.6,319.8 214.9,318.2 217.1,316 221.2,315.6 222.3,318.5"/>
<polygon fill="#f5d547" points="217.9,338.1 212.9,340 208.9,338.1 209.9,333.7 214.2,333.9"/>
<polygon fill="#fdea6e" points="271.6,299.2 270,296.9 271.5,294.5 275.1,295.4 278.2,297.4 275.6,299.6"/>
<polygon fill="#ffff9f" points="277.8,299.4 279.6,297 282.6,298.1 282.2,300.4 279.7,300.9"/>
<polygon fill="#ffff9f" points="266.9,306.9 265.6,309.1 263.4,308.3 261.4,306.7 263.2,304.8 265.2,305.3"/>
<polygon fill="#ffff9f" points="212.2,308 210.8,311.6 205.5,311.4 204.5,307.8 209.1,306"/>
<polygon fill="#fdea6e" points="211.7,332.5 210,329.9 211.7,327.9 214.6,327 217,329.5 214.9,332.8"/>
<polygon fill="#ffff9f" points="265.5,326.8 270.2,323.6 275.1,325.8 276.2,328.7 272.6,331.2 268.2,329.8"/>
<polygon fill="#f5d547" points="269.9,330 272.4,328.1 276.4,328.8 276.7,331.9 273.8,333.9 270.3,333"/>
<polygon fill="#fdea6e" points="251.5,294.7 253.4,293.3 255.4,294.5 256.4,295.9 254.9,297.1 252.8,297.4 251,296.5"/>
<polygon fill="#fdea6e" points="245.6,315.9 247.7,317.7 248.3,320.2 247.5,323.3 244.3,322 241.5,320.5 243.1,317.7"/>
<polygon fill="#fdea6e" points="226.7,335.3 224.4,338.3 221.7,338.6 220.1,337 219.7,332.9 223.3,332.1"/>
<polygon fill="#f5d547" points="282.3,331.9 284.3,330.3 286.7,331 287.4,334 285.8,336.9 283.3,336.8 282.2,334.9"/>
<polygon fill="#fdea6e" points="238.9,355 237.8,352.5 238.6,350 240.6,349.1 243,351.8 241.2,354.2"/>
<polygon fill="#f5d547" points="222.2,335.7 218.8,336.3 216.9,335.4 217.7,333.8 220.4,334.1"/>
<polygon fill="#fdea6e" points="215.2,308.1 216,306.2 217.7,304.8 219.5,306.1 219.7,308.9 217.4,309.7"/>
<polygon fill="#fdea6e" points="268.6,350.7 264.4,355 260.1,352.5 259.9,348.3 265.8,346.2"/>
<polygon fill="#fdea6e" points="265.4,332.9 265.3,336.1 263.2,336.3 262.3,334 263.7,332.7"/>
<polygon fill="#ffff9f" points="221.6,310.7 219.5,312.7 216.1,313.5 215.8,309.9 217.3,307.6 219.9,307.4"/>
<polygon fill="#ffff9f" points="276.8,334.9 278.8,331.6 280.8,331.7 283.5,332.5 285.7,334.7 282.8,336.6 279.7,337.3"/>
<polygon fill="#f5d547" points="237.2,328.6 235.1,325.3 239.6,323.2 246.2,323.9 248.1,327 242.5,328.5"/>
<polygon fill="#fdea6e" points="224.7,321.3 227.5,322.5 228.9,326.9 225.2,327.6 223.1,325.2"/>
<polygon fill="#ffff9f" points="233,327.9 232.5,332.2 228,332.2 226.7,328.4 230.4,326.3"/>
<polygon fill="#f5d547" points="236.9,302.2 239.1,305.1 237.5,307.9 233.8,307 233.7,304.1"/>
<polygon fill="#ffff9f" points="232.6,327.4 230.1,326.6 230.1,322.5 233,321.6 234.5,325.3"/>
<polygon fill="#ffff9f" points="267.6,295.9 266.1,298.3 262.1,298.5 260.3,295.8 262.2,292 266.9,292.1"/>
<polygon fill="#fdea6e" points="285.2,325.4 281.1,327.8 278,325.9 277.6,322.8 280.9,321.3 284,322"/>
<polygon fill="#f5d547" points="280.8,323.3 284,326.8 280.8,331.3 274.9,329.1 274,324.1"/>
<polygon fill="#fdea6e" points="275.5,313 274.3,315.8 271.5,314.6 270.9,312.1 274,311.5"/>
<polygon fill="#fdea6e" points="223.2,329.4 220.5,326.5 223.2,324.2 225.8,325.3 226.1,328.7"/>
<polygon fill="#fdea6e" points="225,307.1 225.4,304.8 229,305.3 231.4,306.8 230.6,308.9 228,310.5 224.9,309.2"/>
<polygon fill="#ffff9f" points="243.7,300 242.7,297.4 244.6,295.3 247.2,297.1 246.6,299.5"/>
<polygon fill="#fdea6e" points="255.9,298 259.1,297.5 260.2,300.3 260.1,302.6 257.3,303.4 255.3,302.9 253.8,300"/>
<polygon fill="#f5d547" points="224.7,310.9 227,313.9 228,317.2 223.9,319.4 222.1,316.1 221.2,312.1"/>
<polygon fill="#ffff9f" points="242.9,320.3 242.8,321.9 242.3,322.9 240.8,323 239.1,322.2 239.2,320.5 241,319.8"/>
<polygon fill="#ffff9f" points="244.3,303.8 241.1,303.9 239.7,301.6 241.5,298.7 244.1,298.5 245.2,301.8"/>
<polygon fill="#ffff9f" points="247.7,328.3 251.4,326.9 255.5,327.2 255.9,329.6 254.5,333.1 251.2,333.3 246.6,330.8"/>
<polygon fill="#fdea6e" points="228.9,326.5 232.3,326.1 234,328.5 231.9,330.2 229.3,330.9 226.8,329.9 227.5,327.2"/>
<polygon fill="#fdf6e4" points="266.7,165.6 267.5,167.4 265.8,169.6 263.5,167.9 263.9,165.9"/>
<polygon fill="#ffff9f" points="305.1,175.8 303.3,174.6 303.5,172.2 305.8,171.3 307.4,173.3 307.5,175"/>
<polygon fill="#ffff9f" points="338.2,205.3 339,202.5 340.9,201.1 343.6,202.6 343.8,204.6 342.7,206.1 340.1,206.8"/>
<polygon fill="#fdf6e4" points="279,156.1 278.2,158.6 276,158.1 273.8,156.9 275.2,154.7 277.9,154.8"/>
<polygon fill="#fdf6e4" points="273.4,193.6 274.6,191.2 276.2,191.2 277.7,192.1 277.4,194 276.5,195.7 274.8,195.3"/>
<polygon fill="#ffff9f" points="333.2,208.7 334.6,206.7 336.2,209 336.8,210.9 335,213 333,211.8"/>
<polygon fill="#ffff9f" points="302.9,177.8 303.6,176.1 307.5,175.5 308.7,177.9 308.2,180.1 306.1,180.6 302.5,179.9"/>
<polygon fill="#ffff9f" points="261.2,151.2 259.9,151.3 258.9,150.8 259.5,149.6 260.4,148.8 261.4,150.1"/>
<polygon fill="#d2f5fe" points="329.9,179.2 327.5,179 327.1,177.3 328.4,176 330.5,176.1 330.5,177.9"/>
<polygon fill="#fdf6e4" points="315.5,184.7 316.9,184 318.2,184.7 318.1,185.7 317.6,187.2 316.7,187.6 315.9,186.3"/>
<polygon fill="#fdf6e4" points="278.2,192.9 276,193.2 274,191.7 275.6,189.6 278.9,189.9"/>
<polygon fill="#ffff9f" points="331.8,204.2 330.5,201.8 331.2,200.2 332.6,198.3 334.1,199.9 335.1,202.3 333.6,203"/>
<polygon fill="#ffff9f" points="308.3,180.9 308.2,182.3 306.5,183 305,182.1 305.3,180.6 307,179.5"/>
<polygon fill="#fdf6e4" points="267.3,174.4 271,172.4 275.4,174.9 273.2,177.7 267.4,178.1"/>
<polygon fill="#ffff9f" points="323,178.7 323.1,180.3 321,180.8 319,179.8 319.2,178.4 321.5,177.6"/>
<polygon fill="#ffff9f" points="268.1,194.2 268.9,195.9 266.6,197.4 264,195.9 264.7,193.3"/>
<polygon fill="#fdf6e4" points="292.2,166.4 290.5,168 289.2,166.9 288.7,164.5 289.6,162.7 291.9,163.1 293.4,164.6"/>
<polygon fill="#fdf6e4" points="273,186.6 271.2,186.6 270.9,185.1 271.7,183.3 273.6,183.6 274,185.5"/>
<polygon fill="#fdf6e4" points="310.8,186.8 308.4,190.1 304.3,189 303,185.8 307.8,183.4"/>
<polygon fill="#ffff9f" points="293,192.4 290.8,191.7 291.3,188.1 294,187.5 295.4,191"/>
<polygon fill="#d2f5fe" points="274.7,170.1 274.9,170.9 275.5,172.2 273.7,172.8 272.8,172.4 272.1,170.8 272.8,169.7"/>
<polygon fill="#fdf6e4" points="258.1,154.3 263.3,154.1 266.2,156.5 261.6,158.5 258.4,157"/>
<polygon fill="#ffff9f" points="284.1,175.5 287.6,177.6 284.9,180.8 280.3,179.4 280.5,176.3"/>
<polygon fill="#fdf6e4" points="314.2,201.9 316.5,203.8 316.2,206.7 313,206.9 311.5,204.6"/>
<polygon fill="#fdf6e4" points="286.8,162.3 287.5,160.3 289.1,160.1 290.4,160.8 290.4,162.3 290,164.2 288,164.1"/>
<polygon fill="#ffff9f" points="308.2,178.9 307.6,177.2 310.1,175.8 311.7,177.4 311.1,179.2"/>
<polygon fill="#ffff9f" points="315.1,217.3 316.9,215.7 320,214.4 322.6,215.6 323.9,218.2 320.6,219 317.7,218.5"/>
<polygon fill="#d2f5fe" points="299.7,180.9 298.6,183.4 295.1,183.3 292.3,181.2 294.1,179.1 296.7,177 298.9,178.7"/>
<polygon fill="#fdf6e4" points="311.4,208.3 314.1,208.5 315.3,208.6 316.1,210.6 314.2,211.4 312.3,211.5 310.9,210"/>
<polygon fill="#ffff9f" points="306,175 308.3,175 309,176.1 308.6,177.9 307.1,178.8 305.6,176.9"/>
<polygon fill="#fdf6e4" points="326.9,205.7 325.9,205.2 325.2,203.8 326.4,202.9 327.6,202.8 328.5,203.8 327.8,205.3"/>
<polygon fill="#fdf6e4" points="312.2,192.5 310.6,192.4 308.1,191.7 308.7,189.3 310.6,188.7 312.4,188.5 313.5,190.6"/>
<polygon fill="#fdf6e4" points="339.8,205.6 339.9,206.9 338.9,207.4 337.9,207.5 337.2,206.6 337.6,205.4 338.6,204.9"/>
<polygon fill="#ffff9f" points="276.8,181.8 278.8,179.9 280.7,181.6 281.1,184.4 279.3,185.8 275.8,184.9"/>
<polygon fill="#d2f5fe" points="309.7,199 309.4,196.7 313.2,197.3 315.2,197.7 315.5,200 313.2,200.7 310.1,200.4"/>
<polygon fill="#ffff9f" points="308.6,166.2 307.4,167.6 304.8,166.6 305,165.2 306.2,164.4 308.3,164.7"/>
<polygon fill="#ffff9f" points="272.8,183.9 273.5,184.7 272.2,186 271.1,185.5 270,184.3 270.9,183.2 272.2,182.9"/>
<polygon fill="#d2f5fe" points="298.2,190.1 297.2,190.7 296.3,189.8 296.4,188.5 297.4,187.7 298.4,188 299,189.2"/>
<polygon fill="#d2f5fe" points="298.8,182.3 299.2,180.4 301.4,180 302.4,181.9 300.5,184"/>
<polygon fill="#ffff9f" points="297.2,187.5 296.9,186 297.7,184.5 299.6,184.5 300.9,186.1 300.3,187.4 298.6,188.1"/>
</g>
</g>
<g clip-path="url(#cp)" stroke="#b4b4b4" stroke-width="1" stroke-dasharray="2 4.5" fill="none" shape-rendering="crispEdges">
<line x1="44.5" y1="713" x2="44.5" y2="66"/>
<line x1="87.5" y1="713" x2="87.5" y2="66"/>
<line x1="129.5" y1="713" x2="129.5" y2="66"/>
<line x1="172.5" y1="713" x2="172.5" y2="66"/>
<line x1="215.5" y1="713" x2="215.5" y2="66"/>
<line x1="257.5" y1="713" x2="257.5" y2="66"/>
<line x1="300.5" y1="713" x2="300.5" y2="66"/>
<line x1="342.5" y1="713" x2="342.5" y2="66"/>
<line x1="385.5" y1="713" x2="385.5" y2="66"/>
<line x1="427.5" y1="713" x2="427.5" y2="66"/>
<line x1="470.5" y1="713" x2="470.5" y2="66"/>
<line x1="512.5" y1="713" x2="512.5" y2="66"/>
<line x1="555.5" y1="713" x2="555.5" y2="66"/>
<line x1="597.5" y1="713" x2="597.5" y2="66"/>
<line x1="36" y1="687.5" x2="603" y2="687.5"/>
<line x1="36" y1="644.5" x2="603" y2="644.5"/>
<line x1="36" y1="601.5" x2="603" y2="601.5"/>
<line x1="36" y1="558.5" x2="603" y2="558.5"/>
<line x1="36" y1="514.5" x2="603" y2="514.5"/>
<line x1="36" y1="471.5" x2="603" y2="471.5"/>
<line x1="36" y1="428.5" x2="603" y2="428.5"/>
<line x1="36" y1="385.5" x2="603" y2="385.5"/>
<line x1="36" y1="342.5" x2="603" y2="342.5"/>
<line x1="36" y1="298.5" x2="603" y2="298.5"/>
<line x1="36" y1="255.5" x2="603" y2="255.5"/>
<line x1="36" y1="212.5" x2="603" y2="212.5"/>
<line x1="36" y1="169.5" x2="603" y2="169.5"/>
<line x1="36" y1="126.5" x2="603" y2="126.5"/>
<line x1="36" y1="82.5" x2="603" y2="82.5"/>
</g>
<g clip-path="url(#cp)" stroke="#000" stroke-width="1" fill="none" stroke-linejoin="round" stroke-linecap="round" shape-rendering="crispEdges">
<polyline stroke-width="1" points="34.9,74.6 42.9,74.6 49.4,75.4 54.3,78.6 59.9,81 60.7,85.9 59.1,92.4 57.5,98.8 56.7,105.3 55.9,111.8 57.5,118.3 60.7,123.9 64.8,128 68.8,131.2 73.7,133.6 78.5,136.1 82.6,133.6 86.6,131.2 90.7,129.6 96.3,130.4 101.2,132 106.1,134.4 110.1,137.7 112.5,140.9 110.9,144.1 114.1,140.9 114.8,137.7 120.6,129.6 125.5,124.7 130.3,118.3 138.4,115.7 143.3,113.4 148.1,111.8 153,108.5 157.8,105.3 161.1,105.3 162,108.5 157.8,111.8 154.6,115 153.9,121.5 156.2,118.3 159.4,115.7 162.7,115 167.5,111.8 169.8,108.5 172.4,107.9 174,111.8 177.2,113.4 182.1,115 188.6,118.3 195,119.9 204.8,121.5 211.2,120.8 212.9,122 222.7,120.1 232.4,121 242.1,119.4 248.5,118.8 249.2,124.3 245.3,127.5 248.5,130.7 251.8,135.6 259.9,139.5 266.3,145.3 269.6,150.2 276.1,155 284.1,159.2 293.9,160.5 303.6,159.9 311.7,163.1 318.1,166.3 326.2,172.8 331.1,177.7 334.3,185.8 337.5,192.2 340.8,197.1 342.4,203.6 339.8,208.4 344,211.7 347.2,213.3 355.3,214.9 361.8,218.1 368.3,219.7 376.4,221.4 384.5,224.6 384.9,227.5 388.1,232.4 392.9,234 399.4,233.3 407.5,236.2 415.6,237.2 425.3,236.6 433.4,238.8 439.9,243.7 446.3,248.5 452.8,253.4 460.9,255.7 467.4,257.6 470,264.7 471.3,274.4 470,284.1 465.8,292.2 459.3,298.7 452.8,306.8 446.3,314.9 439.9,323 436.6,329.4 435.7,339.2 436.6,348.9 435,358.6 431.8,368.3 428.5,378 430.5,380 427.2,386.5 422.4,392.9 417.5,399.4 412.7,404.3 406.2,407.5 398.1,409.8 390,410.7 383.6,415.6 375.5,418.8 367.4,423.7 360.9,428.5 356.1,433.4 354.4,441.5 355.1,449.6 352.8,457.7 348,464.1 343.1,470.6 339.9,477.1 335,483.6 328.5,488.4 322.1,493.3 317.2,499.7 312.4,506.2 305.9,511.1 299.4,513.3 294.4,513.8 284.7,511.2 276.6,509.6 271.8,508 270.2,503.1 269.2,506.3 270.2,509.6 273.4,512.8 279.9,517.7 283.1,522.5 284.7,529 283.1,535.5 278.3,540.3 271.8,543.6 262.1,546.1 252.4,547.4 242.7,548.4 240,547.1 238.4,549.7 238.4,554.6 236.8,562.7 227.1,564.3 215.8,565.2 213.5,570.7 214.8,577.2 220.6,576.2 225.5,577.2 226.4,581.4 222.2,583.7 216.7,582.1 214.8,586.9 212.5,593.4 207.7,598.3 201.2,601.5 196.3,606.3 194.1,612.8 196.3,619.3 202.8,622.5 207.7,624.8 207,630 202.8,633.9 198,637.1 193.1,640.3 188.3,645.2 183.4,643.6 181.8,650 178.5,654.9 179.2,661.4 181.8,666.2 186.6,669.4 191.5,674.3 196.3,679.2 202.8,682.4 210.9,685 223.9,685.6 210.9,687.2 199.6,689.5 191.5,692.1 181.8,691.5 172.1,688.9 162.4,685.6 152.7,680.8 144.6,674.3 138.1,667.8 133.2,659.7 130,650 124.7,647.4 122.2,628 127.1,608.5 134.4,589.1 135,585.7 136.2,579.2 138.8,575.3 139.4,568.9 141.4,559.8 144,552 142.7,544.3 141.4,535.2 146.6,531.3 150.5,523.6 154.4,513.2 157,502.8 160.1,495.1 159,484.7 157.5,474.4 160.8,469.2 160.1,461.4 163.4,451.1 166,440.7 168.6,430.4 167.8,420 168.2,414.6 169.1,401.6 169.8,388.6 170.4,377.2 172.4,369.7 168.2,367.4 161.7,362.5 155.2,357.7 147,352.8 138.9,347.9 130.8,343 124.3,338.2 119.4,331.7 116.2,323.5 111.3,313.8 106.4,304 101.5,294.3 98.3,286.2 93.4,278 88.5,269.9 83.6,265 79.4,261.4 77.5,257.4 75.9,252.5 77,247.7 80.2,244.4 84.3,242 86.7,238.8 88.8,234.7 88.3,230.7 86.7,234.7 82.7,233.9 79.4,231.5 81,228.3 79.7,224.2 81,220.2 84.3,216.9 85.9,212.9 86.7,208.8 88.3,204.8 92.4,202.4 96.9,199.9 96.4,196.7 98,194.3 98.8,191 102.4,189.1 106.1,187 108.5,183.8 111.8,178.9 110.2,174.9 109.4,170 108.6,163.6 110.9,160 110.1,155.5 109.3,150.6 106.9,148.2 103.6,145.8 106.1,144.1 105.2,140.9 101.2,137.7 96.3,135.2 92.3,136.1 88.3,138.5 85,141.7 85.8,145 83.4,148.2 79.4,149 76.9,145.8 73.7,148.2 71.3,144.1 68,142.5 64,140.9 60.7,139.3 57.5,139.3 55.1,135.2 52.7,131.2 49.4,128 46.2,125.5 44.6,122.3 45.4,117.4 42.1,114.2 38.9,111.8 34.9,108.5 34.9,74.6"/>
<polyline stroke-width="1" points="155.6,123.1 154.6,128 156.9,132.8 161.1,133.8 163.3,129.6 162,124.1 158.8,121.5 155.6,123.1"/>
<polyline stroke-width="1" points="337.5,211.7 347.2,213.3 355.3,214.9 353.7,219.7 347.2,224.6 342.4,227.8 335.9,224.6 334.3,218.1 337.5,211.7"/>
<polyline stroke-width="1" points="339.8,208.4 334.3,211.7 329.4,216.5 324.6,223 321.4,224.6"/>
<polyline stroke-width="1" points="334.4,473.2 330.2,479.7 323.7,487.4 317.2,493.9 313,502.3"/>
<polyline stroke-width="2" points="248.1,658.1 253,655.9 257.8,656.5 259.4,660.4 254.6,663 249.7,662.3 248.1,658.1"/>
<polyline stroke-width="2" points="259.4,655.9 267.5,654.9 275.6,657.2 276.3,659.7 269.2,661.4 262.7,663.6 259.4,660.4 259.4,655.9"/>
<polyline stroke-width="2" points="443.5,678.5 447,678 452,679.5 457,682 461,685 463,687 460,687 455,684 450,682 446,680.5 443.5,678.5"/>
<polyline stroke-width="1.2" points="245.9,120 252.4,119.5 252,124.5 246.5,124.7 245.9,120"/>
<polyline stroke-width="1" points="147.8,133.3 149.1,138.5 154.2,147.5 159.4,148.8 168.5,150.1 173.7,154 177.5,157.9 184,157.9 191.8,157.9 193.1,164.4 190.5,172.1 191.8,178.6 195.7,183.8 193.1,189 195.7,194.1"/>
<polyline stroke-width="1" points="195.7,194.1 187.9,196 186.6,198 173.7,198 173.1,203.2 172.4,213.6 173.7,223.9 175,231.7 172.4,239.4 168.5,247.2"/>
<polyline stroke-width="1" points="168.5,247.2 158.1,249.8 150.4,252.4 146.5,258.9 145.2,270"/>
<polyline stroke-width="1" points="195.7,194.1 199.5,199.3 203.4,204.5 209.9,205.8 217.7,200.6 225.4,195.4 222.8,187.7 220.3,179.9 217.7,176.8 225.4,177.8 233.2,179.9 243.6,174.7 251.3,170.8 255.2,168.3 257.8,170.8"/>
<polyline stroke-width="1" points="251.3,139 253.9,143.7 251.8,148.8 253.4,152.7 248.7,156.6 247.4,160.5 250,164.4 255.2,167 257.8,170.8"/>
<polyline stroke-width="1" points="257.8,170.8 260.4,174.7 259.1,182.5 257.8,190.3 261.7,196.7 266.9,200.6 274.6,196.7 282.4,194.1"/>
<polyline stroke-width="1" points="281.9,159.2 279.8,165.7 274.6,172.1 275.9,179.9 279.8,187.7 282.4,194.1"/>
<polyline stroke-width="1" points="282.4,194.1 290.2,194.9 297.9,190.3 301.8,189"/>
<polyline stroke-width="1" points="225.4,195.4 229.3,200.6 234.5,205.8 235.8,213.6 238.4,220 243.6,223.9 246.1,218.7 253.9,216.1 259.1,212.3 261.7,209.7 266.9,209.7 266.9,200.6"/>
<polyline stroke-width="1" points="266.9,209.7 268.2,216.1 272,223.9 279.8,229.1 288.9,230.4 285,239.4 279.8,252.4 274.6,265.3 273.3,271.8"/>
<polyline stroke-width="1" points="305.9,190.4 311.1,195.5 316.2,203.3 320.1,213.7 322.7,222.7 325.3,225.3"/>
<polyline stroke-width="1" points="374.5,223.5 371.9,231.8 369.3,242.1 364.1,249.9 357.7,255.1 353.8,257.7"/>
<polyline stroke-width="1" points="353.8,257.7 357.7,262.8 355.1,269.3 349.9,271.9 347.8,278.4 346,286.1 342.1,293.9 339.5,301.7 337.5,312 337,321.1 340.8,323.7 347.3,321.9 353.8,325 362.8,327.6 370.6,323.7 373.2,321.9"/>
<polyline stroke-width="1" points="353.8,257.7 357.7,257.7 362.8,260.3 364.1,268 365.4,274.5 369.3,279.7 370.6,283.6 368,288.7 369.3,293.9 373.2,299.1 375.8,303 373.7,309.4 373.2,321.9"/>
<polyline stroke-width="1" points="409.4,236.4 406.9,242.1 403,248.6 401.7,255.1 400.4,262.8 401.7,269.3 396.5,270.6 390,273.2 383.6,277.1 379.7,281 377.1,288.7 375.8,296.5 375.8,303"/>
<polyline stroke-width="1" points="375.8,303 381,305.6 386.1,304.3 390,299.1 393.9,293.9 401.7,292.6 408.2,290.8"/>
<polyline stroke-width="1" points="269.6,283.6 280,288.7 287.8,293.9 305.9,295.2 321.4,296.5 337.5,297.8"/>
<polyline stroke-width="1" points="337.5,312 335.7,325 334.4,341.8"/>
<polyline stroke-width="1" points="373.7,309.4 374.5,317.2 375.8,325 374.5,332.8 377.1,335.3 383.6,334.8 391.3,336.6 395.2,341.8"/>
<polyline stroke-width="1" points="412.1,236.2 409.7,240.2 405.7,243.5 402.4,247.5 401.6,252.4 402.4,258.8 400.8,263.7 402.4,268.5 400,270.2"/>
<polyline stroke-width="1" points="415.4,237 416.2,242.7 417,249.1 417.8,254.8 418.6,260.5 420.2,266.9 421.8,271.8 421.8,275.8"/>
<polyline stroke-width="1" points="421.8,275.8 426.7,275.8 430.7,276.6 434,279.1 436.4,280.7 438.8,278.3"/>
<polyline stroke-width="1" points="446.9,254.8 444.5,259.6 442.1,264.5 439.6,266.9 438.8,271.8 438.8,278.3"/>
<polyline stroke-width="1" points="439.6,266.9 444.5,267.7 448.5,264.5 451.8,265.3 449.4,268.5 453.4,270.2 456.6,266.9 461.5,267.7 467.2,268.5 470.4,268.5"/>
<polyline stroke-width="1" points="438.8,278.3 443.7,279.1 448.5,276.6 451.8,277.4 451,282.3 454.2,283.9 459.1,280.7 463.9,277.4 467.2,275.8 470.9,276.6"/>
<polyline stroke-width="1" points="421.8,275.8 421,280.7 417.8,284.7 419.4,288.8 421.8,291.2 425.9,288.8 429.1,286.3 433.2,285.5 437.2,287.2 441.3,288.8 444.5,290.4 450.2,291.2 455,291.2 459.9,289.6 464.7,288 468.8,287.2"/>
<polyline stroke-width="1" points="444.5,290.4 446.9,293.6 451.8,297.7 455.8,300.9 457.4,301.7"/>
<polyline stroke-width="1" points="444.5,290.4 443.7,295.2 445.3,299.3 443.7,304.1 444.5,309 448.5,313"/>
<polyline stroke-width="1" points="400,293.6 406.5,292.8 412.9,289.6 416.2,286.3 417.8,284.7"/>
<polyline stroke-width="1" points="337.5,320 340.1,322.6 346.6,324.7 354.4,326.5 364.7,323.9 375.1,322.6 375.1,330.4 376.4,338.1 373.8,342 368.6,344.6 366,349.8 364.7,356.2 366,362.7 363.4,369.2 355.7,371.8 346.6,374.4 338.8,377 333.7,383.4"/>
<polyline stroke-width="1" points="337.5,320 333.7,330.4 327.2,343.3 320.7,353.7 315.5,361.4 316.8,367.9 323.3,373.1 329.8,375.7 333.7,383.4"/>
<polyline stroke-width="1" points="357,347.2 364.2,347.2 364.2,351.1 357,351.1 357,347.2"/>
<polyline stroke-width="1" points="375.1,338.1 382.8,338.1 389.3,335.5 394.5,338.1 403.6,342 413.9,344.6 421.7,348.5 428.2,351.1 426.9,358.8 423,362.7 424.3,367.9 420.4,367.9 415.2,370.5 417.8,375.7 419.1,382.1 415.2,387.3 411.3,389.9 412.6,395.1"/>
<polyline stroke-width="1" points="412.6,395.1 406.1,399 399.7,401.6 391.9,404.1 385.4,406.7 377.7,409.3 372.5,409.3 371.2,402.8 369.9,396.4 366,392.5 364.7,386 355.7,384.7 345.3,384.2 333.7,383.4"/>
<polyline stroke-width="1" points="423,362.7 428.2,365.3 433.3,364"/>
<polyline stroke-width="1" points="412.6,395.1 416.5,396.4 420.4,393.8"/>
<polyline stroke-width="1" points="377.7,409.3 381.6,413.2 385.4,414.5"/>
<polyline stroke-width="1" points="333.7,383.4 325.9,391.2 320.7,399 314.2,406.7 311.7,409.3 320.7,408 331.1,408 342.7,409.3 345.3,415.8 347.9,422.3 353.1,427.4 355.7,432.6"/>
<polyline stroke-width="1" points="311.7,409.3 307.8,418.4 305.2,426.1 303.9,432.6 306.5,433.9 309.1,437.8 310.4,440.4 320.7,441.7 331.1,441.7 333.7,437.8 342.7,436.5 350.5,435.2 353.1,436.5"/>
<polyline stroke-width="1" points="303.9,432.6 302.6,441.7 300,449.4 307.8,446.9 315.5,446.9 325.9,449.4 333.7,453.3 338.8,457.2 342.7,463.7 341.4,468.9 344,472.8"/>
<polyline stroke-width="1" points="315.5,361.4 310.4,364 306.5,366.6 302.6,365.3 297.4,364"/>
<polyline stroke-width="2.2" points="380.3,370.5 383.4,369.2 384.4,375.7 381.3,376.4 380.3,370.5"/>
<polyline stroke-width="2.2" points="373.8,389.9 377.7,388.6 382.8,392.5 382.3,397.7 377.7,396.4 374.6,393.8 373.8,389.9"/>
<polyline stroke-width="2.2" points="347.9,411.9 353.1,411.1 353.3,414.5 348.4,414.8 347.9,411.9"/>
<polyline stroke-width="2.2" points="353.1,406.7 358.3,406.2 358.5,408.3 353.3,408.5 353.1,406.7"/>
<polyline stroke-width="2.2" points="388,408 391.9,407.5 392.2,410.6 388.5,410.9 388,408"/>
<polyline stroke-width="1" points="289.4,230 284.3,242.9 279.1,255.9 273.9,268.8 271.8,272.7"/>
<polyline stroke-width="1" points="154.8,278.7 160,280.5 170.4,284.4 183.3,289.5 196.2,293.4 209.2,294.7 214.4,293.4 219.5,288.3 226,283.1 231.2,281.3 236.4,284.4 242.8,288.3 245.4,288.3 258.4,288.3 271.3,287 272.6,280.5 271.8,272.7"/>
<polyline stroke-width="1" points="271.8,272.7 275.2,279.2 277.8,285.7 281.7,290.8 286.9,293.4 299.8,294.2 315.3,295.2 321.8,296"/>
<polyline stroke-width="1" points="214.4,293.4 211.8,297.3 211.8,305.1 214.4,311.6 220.8,318 228.6,321.9 236.4,324.5 242.8,328.4 249.3,329.7 253.2,327.1"/>
<polyline stroke-width="1" points="245.4,288.3 245.4,296 246.7,302.5 250.6,306.4 257.1,307.7 258.4,315.4 257.1,320.6 253.2,327.1"/>
<polyline stroke-width="1" points="162.6,297.8 165.2,294.7 166.5,296 166.5,306.4 175.5,306.4 185.9,305.1 193.7,301.2 201.4,297.3 210.5,296 214.4,293.4"/>
<polyline stroke-width="1" points="175.5,306.4 178.1,312.8 182,320.6 180.7,329.7 178.1,336.1 176.8,343.9 172.9,346.5"/>
<polyline stroke-width="1" points="178.1,356.9 175.5,364.6 170.4,369.8 169.1,380.2 170.4,391.8"/>
<polyline stroke-width="1" points="157.4,359.4 165.2,364.6 170.4,369.8"/>
<polyline stroke-width="1" points="253.2,327.1 253.2,333.6 254.5,341.3 255.8,350.4 263.6,351.7 271.3,353 271.3,359.4 275.2,364.6 277.8,367.2 276.5,375 273.9,382.8 271.3,385.3"/>
<polyline stroke-width="1" points="277.8,366.7 284.3,362.6 289.4,361.5 294.6,363.3 301.1,365.1 308.9,365.9 311.5,362 315.3,359.4 321.8,354.3"/>
<polyline stroke-width="2.5" points="172.4,346 175.5,347.8 179.4,351.2 183.8,353.8 180.7,354.8 176.1,351.7 172.9,349.1 172.4,346"/>
<polyline stroke-width="2.5" points="195.7,369.3 197.8,371.1 198.3,378.1 196.2,376.3 195.7,369.3"/>
<polyline stroke-width="1" points="96.2,199.4 102.7,203.3 110.5,205.9 115.7,209.8 122.1,212.4 127.8,213.7"/>
<polyline stroke-width="1" points="127.8,213.7 126.8,218.8 124.7,225.3 120.8,230.5 114.4,234.4 106.6,237 102.7,240.8 100.1,246 96.2,249.9 93.7,253.8 88.5,249.9 84.6,249.9 83.3,246 85.9,242.1"/>
<polyline stroke-width="1" points="127.8,213.7 132.5,216.2 137.7,221.4 142.8,225.3 145.4,231.8 153.2,231.8 162.3,230.5 168.7,233.1 172.6,235.7 171.3,242.1 168.7,246 173.9,248.6"/>
<polyline stroke-width="1" points="145.4,266.7 141.6,270.6 139,274.5 140.3,278.4 142.8,283.6 145.4,288.7 149.3,293.9 155.8,297.8 163.6,297.8 167.4,293.9 168.2,300.4 168.2,306.9"/>
<polyline stroke-width="1" points="139,274.5 150.6,277.1 163.6,281 176.5,286.1 189.4,291.3 201.1,296.5"/>
<polyline stroke-width="1" points="168.2,306.9 177.8,306.9 186.9,305.6 194.6,301.7 201.1,297.8 207.6,295.2 215.3,293.9 221.8,290"/>
<polyline stroke-width="1" points="177.8,306.9 180.4,314.6 183,323.7 181.7,332.8 180.4,341.8"/>
<polyline stroke-width="1" points="170.7,371.1 174.6,364.6 175.9,358.1 178.5,368.5 181.1,378.8 185,389.2 187.5,399.5 190.1,409.9"/>
<polyline stroke-width="1" points="190.1,409.9 195.3,408.6 197.9,415.1 192.7,420.3 186.2,424.1 184.2,430.6 185,441 182.4,448.7 177.2,453.9 174.6,464.3 172,472 169.4,482.4 170.7,492.8 169.4,501.8"/>
<polyline stroke-width="1" points="190.1,409.9 197.9,407.3 204.4,401.6 212.1,403.4 218.6,404.7 221.2,409.4 225.1,403.4 234.1,402.1"/>
<polyline stroke-width="1" points="234.1,402.1 236.7,391.8 241.9,382.7 252.3,380.1 263.9,379.4 273,384"/>
<polyline stroke-width="1" points="273,384 274.3,393.1 275.6,402.1 284.6,403.4 292.4,404.7 295,411.2 296.3,419 304,419.7 305.3,428 304.8,433.2"/>
<polyline stroke-width="1" points="234.1,402.1 239.3,408.6 248.4,415.1 258.7,420.3 267.8,424.1 276.9,429.3 278.2,433.2 274.3,439.7 270.4,443.6 269.1,447.4 276.9,448.2 287.2,448.7 296.3,446.1 301.5,441 304.8,433.2"/>
<polyline stroke-width="1" points="232.3,477.2 238,475.9 239.3,478.5 233.4,479.8 232.3,477.2"/>
<polyline stroke-width="1" points="303.9,433.4 309.6,434.7 310.4,439.9 309.1,445.1 303.9,445.6 298.7,450.3 293.6,455.4 288.4,460.6 283.2,467.1 279.3,471 276.7,473.6"/>
<polyline stroke-width="1" points="276.7,473.6 284.5,472.3 291,474.9 298.7,480 306.5,486.5 314.3,493 318.2,496.9 316.9,500.7"/>
<polyline stroke-width="1" points="276.7,473.6 274.1,481.3 272.8,489.1 271.6,496.9 270.3,503.3 272.8,511.1"/>
<polyline stroke-width="1" points="309.6,445.6 319.4,446.4 329.8,447.7 335,452.8 341.5,458 345.3,460.6"/>
<polyline stroke-width="2.5" points="284.5,496.1 289.7,494.3 296.1,492.7 292.3,495.8 286.3,497.4 284.5,496.1"/>
<polyline stroke-width="1" points="313,494.3 318.2,491.7 320.7,494.3 316.9,499.4 313.8,498.9 313,494.3"/>
<polyline stroke-width="1" points="173.8,500.3 169.9,509.3 167.8,518.4 166.8,526.1 162.1,533.9 163.4,544.3 160.8,550.7 157.5,557.2 155.7,565 156.4,572.8"/>
<polyline stroke-width="1" points="155.5,570 156.6,579.1 158.9,588.1 157.8,597.2 160,604 157.8,613 154.4,619.8 153.2,628.9 152.1,635.7 153.2,644.8 154.4,653.8 155.5,660.6 165.7,661.1 174.8,660.6 179.3,659.5"/>
<polyline stroke-width="1" points="184.3,662.9 184.3,687.8"/>
<polyline stroke-width="1" points="180.4,660.6 174.8,665.2 168,667.4 165.7,671.9 168,676.5 172.5,678.7"/>
<polyline stroke-width="2.5" points="180.4,604 183.8,604.4 184.7,607.2 181.6,606.9 180.4,604"/>
<polyline stroke-width="1.6" points="216.7,685.5 224.6,685.8"/>
<polyline stroke-width="1" points="36.5,88.3 41.3,85.9 46.2,84.3 52.7,82.7 59.9,81"/>
<polyline stroke-width="1" points="39.7,108.5 44.6,110.2 49.4,113.4 55.9,116.6 57.5,118.3"/>
<polyline stroke-width="1" points="67.2,130.4 66.4,134.4 64.8,136.1 64,140.9"/>
<polyline stroke-width="1" points="110.1,137.7 107.7,140.9 106.1,144.1"/>
<polyline stroke-width="1" points="308.3,162.7 305.8,166.7 305,171.6 306.6,177.2 307.9,182.1 306.6,186.9 304.2,191.8"/>
<polyline stroke-width="1" points="329.3,176.4 326.1,181.3 322.8,186.1 319.6,191 317.2,193.4 311.5,192.6 304.2,191.8 301.8,191.5"/>
<polyline stroke-width="2.2" points="297.2,169.9 299.4,169.1 300.8,170.7 299.8,173 297.7,172.8 297.2,169.9"/>
<polyline stroke-width="1.8" points="338.2,203.9 340.6,204.7 343,208 340.6,211.2 338.7,208.8 338.2,203.9"/>
<polyline stroke-width="1.8" points="334.1,211.2 337.4,212 335.8,216.1 333.3,215.2 334.1,211.2"/>
<polyline stroke-width="1.8" points="329.3,216.1 332.5,217.7 330.9,220.9 328.5,220.1 329.3,216.1"/>
<polyline stroke-width="1.8" points="323.6,221.7 326.9,222.5 326.1,225.8 322.8,225.4 323.6,221.7"/>
<polyline stroke-width="1.8" points="334.1,225.8 340.6,226.6 345.5,229 340.6,230.6 335,229 334.1,225.8"/>
<polygon fill="#000" stroke="none" points="125.4,620.2 127.4,619.2 128.5,619.9 128.3,621.7 127.4,622.7 125.8,621.4"/>
<polygon fill="#000" stroke="none" points="132,666.7 131.3,666.7 130.6,666.5 130.8,665.5 131.4,665.4 132,665.1 132.5,666"/>
<polygon fill="#000" stroke="none" points="139.2,669.3 137.4,670.2 135.6,668.5 137,667.1 139.1,666.5"/>
<polygon fill="#000" stroke="none" points="123.2,643.4 121.5,641.6 123.5,640.1 125.5,640.5 126.7,641.7 125.2,643.8"/>
<polygon fill="#000" stroke="none" points="141.5,644.8 139.2,644.9 138.8,643.4 139.2,642.1 141.9,641.3 143.9,643.5"/>
<polygon fill="#000" stroke="none" points="184.2,691 182.1,691.4 180.8,688.9 183.2,687.4 185.2,688.8"/>
<polygon fill="#000" stroke="none" points="198,692.1 199.9,689.4 202.2,690.9 201,693.1"/>
<polygon fill="#000" stroke="none" points="141.3,597.9 140,599 137.7,597.9 140,596.4"/>
<polygon fill="#000" stroke="none" points="124,632.6 123.9,630.3 126.3,629.5 128.2,631.4 129.3,633.1 127.1,635.5 124.5,634.2"/>
<polygon fill="#000" stroke="none" points="142.8,669.7 144.3,671.8 144.8,674.5 142.1,675.4 139.7,673.6 141,671.1"/>
<polygon fill="#000" stroke="none" points="122,628.6 122.3,627.4 123.8,627.1 124.5,627.8 124.6,629.1 123.3,629.2"/>
<polygon fill="#000" stroke="none" points="142.1,674.8 142.9,671.8 146.1,672.9 145.7,675.9 143.3,676.1"/>
<polygon fill="#000" stroke="none" points="134.9,592.9 135.6,593.2 136.7,593.4 136.3,594.5 135.5,595.1 134.5,594.3 134.6,593.7"/>
<polygon fill="#000" stroke="none" points="134.4,609.7 134.4,610.9 133.6,611.1 132.9,611 132.3,610 133.3,609.2"/>
<polygon fill="#000" stroke="none" points="134.4,589.8 134.9,590.3 135.2,591 134.4,591.7 133.5,591.3 133.3,590.7 133.7,589.9"/>
<polygon fill="#000" stroke="none" points="137.3,649.8 136.6,651.4 134.9,652.1 133,651.3 133.7,649.6 135,648"/>
<polygon fill="#000" stroke="none" points="197.3,691.2 196.4,691.3 195.8,690.2 196.5,689.4 197.3,689.5 197.8,689.8 197.6,690.7"/>
<polygon fill="#000" stroke="none" points="124.9,646.2 121.8,646.2 122.2,643.9 124,643.8"/>
<polygon fill="#000" stroke="none" points="179.2,689.2 180.4,689 180.4,689.9 180.6,691.5 179.3,692 178.7,691.1 178.1,689.7"/>
<polygon fill="#000" stroke="none" points="136.8,656.8 135.4,659.1 133.7,658.8 133.4,657 134.5,656"/>
<polygon fill="#000" stroke="none" points="167.6,684.5 168.5,682.9 170.5,683.8 170.5,686.2 168.3,685.8"/>
<polygon fill="#000" stroke="none" points="133.7,611.4 133.1,612.5 132,612 131.3,611.5 131.8,610.3 132.8,610.4"/>
<polygon fill="#000" stroke="none" points="141,572.2 140.8,573.3 139.2,573.2 138.3,572.7 138.7,571.6 140.1,571.7"/>
<polygon fill="#000" stroke="none" points="127.9,610 128.6,610.2 129.3,610.6 128.9,611.5 128,611.6 127.6,611"/>
<polygon fill="#000" stroke="none" points="150.3,592.9 150.2,594.3 148.1,595.5 147,593.6 148.3,592.8"/>
<polygon fill="#000" stroke="none" points="149.8,574.3 152.1,575 152.3,576.9 149.9,576.7"/>
<polygon fill="#000" stroke="none" points="144.5,674 143.6,673.8 143.4,673 144.3,672.5 144.9,672.7 145,673.7"/>
<polygon fill="#000" stroke="none" points="140.3,628 139.9,628.7 139.1,628.4 138.6,627.7 139.1,626.6 139.6,626.2 140.7,627.3"/>
<polygon fill="#000" stroke="none" points="145.1,646.2 144.3,647.6 143.3,647.6 142.3,646.5 143.5,645.8"/>
<polygon fill="#000" stroke="none" points="134.8,629.7 135.6,629.9 135.9,630.6 135.9,631.4 135.2,632.2 134.6,631.2 134,630.6"/>
<polygon fill="#000" stroke="none" points="145.1,575.2 146.6,576.7 144.5,579.4 142.5,578 141,576 143,575"/>
<polygon fill="#000" stroke="none" points="166.4,684.7 164.7,685.5 164.3,684.1 165.6,683.6"/>
<polygon fill="#000" stroke="none" points="129.4,653 128.5,650.9 130.8,650.1 133.1,649.9 133.3,652.7 131.2,654.7"/>
<polygon fill="#000" stroke="none" points="128.6,640.6 126.6,639.9 127,638 128.3,637.2 129.7,638.1 129.7,639.8"/>
<polygon fill="#000" stroke="none" points="145.1,593.4 145.2,594.5 144.4,595.7 143.6,594.8 142.9,593.6 144,593"/>
<polygon fill="#000" stroke="none" points="157,583.3 155.7,583.4 154.9,581.8 156.2,580.5 157.6,580.7 157.9,581.8 157.9,583.5"/>
<polygon fill="#000" stroke="none" points="144.5,673.1 142.4,672.8 141.4,670.9 144.4,669.4"/>
<polygon fill="#000" stroke="none" points="134.9,615.5 133.5,616.4 131.3,616 132.6,614.2 134.1,613.8"/>
<polygon fill="#000" stroke="none" points="142,649.9 142.6,651.9 141.1,653.1 140.4,651"/>
<polygon fill="#000" stroke="none" points="162.2,684 163.2,682.6 164.2,683.5 164.7,684.5 163.4,684.8"/>
<polygon fill="#000" stroke="none" points="130.5,642.8 129.7,641.7 130.7,640.9 131.5,641.4 131.3,642.1"/>
<polygon fill="#000" stroke="none" points="132,615.6 131.5,613.4 134.7,612.4 136.7,613.9 135.1,616.8"/>
<polygon fill="#000" stroke="none" points="130.8,651.4 130.4,652.5 129,652.1 128.7,651.4 128.6,650.2 129.8,649.7 130.8,650.4"/>
<polygon fill="#000" stroke="none" points="167.5,686.2 166.4,686.7 165.7,685.7 166.6,685 167.2,685.1"/>
<polygon fill="#000" stroke="none" points="126.4,620.2 126.5,619 127.1,618 128.6,616.8 130,617.8 130.9,620.6 128.6,620.6"/>
<polygon fill="#000" stroke="none" points="143.8,585.4 144.3,584.3 145.3,583.8 146.1,584.6 146.2,585.4 145.7,586.2 144.9,586"/>
<polygon fill="#000" stroke="none" points="129.1,613.8 129.7,612.2 130.7,613.2 131.2,614.8 129.5,614.5"/>
<polygon fill="#000" stroke="none" points="126.2,626.1 126.8,623.4 129.5,624 129.2,626.2"/>
<polygon fill="#000" stroke="none" points="132.1,602.9 132.5,604.1 131.6,604.7 130.4,604.5 130.6,602.9"/>
<polygon fill="#000" stroke="none" points="145.1,676.4 144.3,675.2 146,674.5 147.2,674.7 147.9,676.3 146.1,677.5"/>
<polygon fill="#000" stroke="none" points="126.9,602.2 128.4,602.1 129.7,601.4 130.7,603.6 130.4,605.6 128.2,605.3 127.2,604.1"/>
<polygon fill="#000" stroke="none" points="145.7,586 143.1,585.2 140.8,584.3 141.6,582.2 144.4,582.4 146.2,583.4"/>
<polygon fill="#000" stroke="none" points="143.7,634.7 143.6,635.9 143.2,635.9 141.9,636.2 141.6,635 142.4,634.2 143.2,633.7"/>
<polygon fill="#000" stroke="none" points="165.9,684.3 166,683.1 167.4,682.3 168.9,683.5 168,684.9 167,685"/>
<polygon fill="#000" stroke="none" points="125.6,643.1 124.6,643.1 123.9,642.7 124.3,642.1 125.6,641.8"/>
<polygon fill="#000" stroke="none" points="156.8,682.7 159.1,682.7 158.7,684.6 157.2,686 156,684"/>
<polygon fill="#000" stroke="none" points="202.3,691.1 201.9,692.2 200.4,691.6 200,690.8 201.1,689.7 202.1,689.8"/>
<polygon fill="#000" stroke="none" points="142.4,655.2 144.2,656.2 144.7,657.6 143.5,659.7 141.3,659.3 140.2,658 139.7,655.6"/>
<polygon fill="#000" stroke="none" points="199.2,692.2 200.3,692.2 200.9,692.6 200.5,693.5 199.8,693.8 199.1,693.3"/>
<polygon fill="#000" stroke="none" points="137.1,666.6 135.5,667.4 134.2,667.3 134.2,665.1 136,665.5"/>
<polygon fill="#000" stroke="none" points="178.7,689.6 177.3,689.5 177.3,688.2 177.7,687.5 179.5,686.2 180,688.1 180.3,689.6"/>
<polygon fill="#000" stroke="none" points="144.8,671.3 143.3,672.5 142.1,671.4 143.2,669.9"/>
<polygon fill="#000" stroke="none" points="136,599.3 136.8,599.4 137.1,600.5 136.4,601.6 135.6,601.2 135.6,600.1"/>
<polygon fill="#000" stroke="none" points="145.2,614.4 144.3,613.1 144.6,611.6 145.8,611.1 147,611.8 146.9,613.3 146.3,613.9"/>
<polygon fill="#000" stroke="none" points="131,610.4 129.2,610.8 129.6,609.4 130.8,609.4"/>
<polygon fill="#000" stroke="none" points="136.2,582.8 135.9,584.3 134.6,584.1 134.2,582.6"/>
<polygon fill="#000" stroke="none" points="161.6,684.9 159.6,685.6 159,684.2 159.5,682.4 161.1,683.3"/>
<polygon fill="#000" stroke="none" points="202.5,691.1 202,691.4 201.3,691.9 200.7,691.2 201.1,690.5 201.6,690.3 202.4,690.6"/>
<polygon fill="#000" stroke="none" points="127.8,631.5 126.7,634.4 124.6,634.1 123.7,633.1 123.3,630.5 126.3,629.8"/>
<polygon fill="#000" stroke="none" points="132.6,592.3 134,589.4 137,590.5 136.4,593.6"/>
<polygon fill="#000" stroke="none" points="193.9,693.2 192.9,690.9 196,691 196.2,693.4"/>
<polygon fill="#000" stroke="none" points="132.7,669.9 131.6,668.7 132.1,667.2 133.7,667.7 133.7,669.1"/>
<polygon fill="#000" stroke="none" points="148.1,612.7 148.1,610.2 150.4,609 151.3,611 150.8,612.2"/>
<polygon fill="#000" stroke="none" points="141.1,637.7 140.2,638.6 138.8,639.4 137.7,638 137.6,636.2 139.4,634.9 141.1,636"/>
<polygon fill="#000" stroke="none" points="131.3,607.6 131.5,609 129.4,609 130.1,607.1"/>
<polygon fill="#000" stroke="none" points="141.1,661.4 141.5,659.2 142.8,659.2 143.2,661.3"/>
<polygon fill="#000" stroke="none" points="144.7,588.4 145.7,586.9 147.1,587.1 147.3,589 146.7,589.6 145.3,589.9"/>
<polygon fill="#000" stroke="none" points="147.6,575 146.4,576 144.9,574.8 145.7,573.5 147,573.3 148.3,573.8"/>
<polygon fill="#000" stroke="none" points="148.2,671.1 148.8,669.1 149.8,668.2 151,669.6 151.3,671.1 150.4,671.7 148.8,672.1"/>
<polygon fill="#000" stroke="none" points="135.2,612.8 133.8,613.2 132.7,611.6 133.2,610 135.2,609.5 135.8,611.3"/>
<polygon fill="#000" stroke="none" points="138.8,624.8 137.9,623.6 138.3,622.7 139.5,622.4 140.5,622.9 140.6,623.9 139.6,624.7"/>
<polygon fill="#000" stroke="none" points="162.6,681.6 163.3,683 162.3,683.7 161.3,683.4 161,682.1"/>
<polygon fill="#000" stroke="none" points="134.2,623.1 134.5,621.9 135.9,620.9 137.2,620.8 137.5,622.4 137.2,623.7 135.8,623.5"/>
<polygon fill="#000" stroke="none" points="157.3,680.1 158,681.4 158.1,682.3 157.3,683.1 156.2,682.9 155.1,682 156.2,681.2"/>
<polygon fill="#000" stroke="none" points="127.2,653.5 128.4,654.9 126.9,655.5 126.5,654.5"/>
<polygon fill="#000" stroke="none" points="195.8,691.7 197.8,690.8 199.2,692 199.9,694.3 198.3,695.1 197,696 194.6,693.9"/>
<polygon fill="#000" stroke="none" points="142.6,633.7 141.6,634.1 140.7,632.9 141.8,631.6 143.2,632.1 143.7,633.2"/>
<polygon fill="#000" stroke="none" points="147.1,586.1 147.9,584.6 149.8,585.1 149.9,586.9 148.7,588.5"/>
<polygon fill="#000" stroke="none" points="134.1,580.4 135.4,577.6 137.8,578.4 138.8,580.1 136.4,581.6"/>
<polygon fill="#000" stroke="none" points="156.5,673.6 155.5,674.2 154.6,673.5 155.7,672.7"/>
<polygon fill="#000" stroke="none" points="144.8,578.6 144.2,581.2 142.3,580.9 141.8,578.5 143.8,577.5"/>
<polygon fill="#000" stroke="none" points="141.9,619.6 142.4,622.1 140.1,622.8 139.2,619.8"/>
<polygon fill="#000" stroke="none" points="168.9,688 167.1,685.8 169.7,684.2 170.7,686.5"/>
<polygon fill="#000" stroke="none" points="137.3,654.9 136,653.6 137.3,652.8 138.8,652.9 138.8,654.5"/>
<polygon fill="#000" stroke="none" points="141.8,578.1 143.2,576.5 145.1,576 146.5,577.5 145.6,579.1 143.7,580.7"/>
<polygon fill="#000" stroke="none" points="124.7,636.7 124.8,635.3 126.1,635.3 126.2,636.6"/>
<polygon fill="#000" stroke="none" points="168.8,688.2 167.3,686.9 168,684.6 170.5,684.8 171.6,687.5"/>
<polygon fill="#000" stroke="none" points="143.3,578.1 140.8,576.9 143.1,574.1 145,575 147,576.5 146,579.4"/>
<polygon fill="#000" stroke="none" points="135.9,584.4 135.6,585.2 134.5,584.9 133.6,583.9 134.4,583.1 135.2,582.7 135.8,583.3"/>
<polygon fill="#000" stroke="none" points="132.1,596.1 130.3,596.1 130.6,594.4 132.6,594.7"/>
<polygon fill="#000" stroke="none" points="121.6,639.9 122.6,639 124.2,638.8 123.9,640.6 122.9,641"/>
<polygon fill="#000" stroke="none" points="138,594.4 137.2,594.8 136.3,594.6 135.8,593.5 136.7,593.1 137.8,592.4 138.2,593.6"/>
<polygon fill="#000" stroke="none" points="133.7,610.8 132.6,611 132,610.2 132.1,609.4 133.4,609.4 134,609.9"/>
<polygon fill="#000" stroke="none" points="143.1,596 143.6,597.5 142.1,598.2 141.4,596.8"/>
<polygon fill="#000" stroke="none" points="122.6,622.5 124.8,619.7 126,622.9 124.2,624.3"/>
<polygon fill="#000" stroke="none" points="146.4,677.2 147.3,676.3 147.8,677.1 148,678 147.5,678.5 146.5,678"/>
<polygon fill="#000" stroke="none" points="186.1,692.5 188.1,691.5 188.8,692.9 187.4,694.6"/>
<polygon fill="#000" stroke="none" points="137.1,571.8 137.5,571.1 138.2,571.4 138.8,571.6 138.5,572.2 138.1,572.4 137.4,572.6"/>
<polygon fill="#000" stroke="none" points="144.3,588.4 145.8,588.1 146.5,590.4 146.5,592.6 144.8,593.5 143.1,592.4 143.3,590"/>
<polygon fill="#000" stroke="none" points="131.7,663.1 132.5,662.8 133.1,663.4 133.1,664.6 132.3,665.9 131.2,664.5 130.2,663.7"/>
<polygon fill="#000" stroke="none" points="149.6,579.4 151.9,578.9 151.8,581.8 149.2,581.7"/>
<polygon fill="#000" stroke="none" points="142.8,665 143,662.9 145,662.6 146.1,664.5 144.4,666"/>
<polygon fill="#000" stroke="none" points="135.7,605 137.7,604.6 139.6,605.6 139.3,607.2 137,609.3 135.7,607.1"/>
<polygon fill="#000" stroke="none" points="129,649.8 131.2,648.2 133.8,649.8 132.7,652.1 129.5,652.3"/>
<polygon fill="#000" stroke="none" points="197.5,688.7 198.3,689.8 197.6,691.1 196.4,691.3 196.2,690.1 196.6,688.8"/>
<polygon fill="#000" stroke="none" points="143.9,665.2 144.2,666.5 143.3,667.4 141.8,667.3 141.5,665.9 142.3,664.3"/>
<polygon fill="#000" stroke="none" points="128.3,651.1 128.8,650.5 129.8,650.8 129.7,651.9 129.7,652.3 128.8,652.8 128,652.3"/>
<polygon fill="#000" stroke="none" points="167.9,686.1 167.6,684.5 168.2,683.4 169.5,683.6 170.5,684.5 170.4,686.3 169.1,686.6"/>
<polygon fill="#000" stroke="none" points="139,644.6 136.4,643.3 137.7,640.5 140,641.5"/>
<polygon fill="#000" stroke="none" points="203,687.7 203.5,686.4 204.8,686.7 205,688.2 203.5,689.2"/>
<polygon fill="#000" stroke="none" points="123.6,618.4 126.4,619.5 125.6,622.3 121.7,621.5"/>
<polygon fill="#000" stroke="none" points="126.4,642.3 124.8,642.7 124.1,641.4 125.7,641"/>
<polygon fill="#000" stroke="none" points="135.8,590.2 135.9,587.4 138,586.7 138.3,590"/>
<polygon fill="#000" stroke="none" points="127.3,618.2 126.5,617 126.9,615.8 127.6,615.4 128.5,615.2 129,616.6 128.3,617.3"/>
<polygon fill="#000" stroke="none" points="126.4,629.9 125.8,627.4 128.4,626.6 129.1,629.4"/>
<polygon fill="#000" stroke="none" points="132.1,646.9 131.3,646.6 131.5,645.6 132.6,645.7 132.7,646.4"/>
<polygon fill="#000" stroke="none" points="136.9,637.4 135,636.9 135.2,635.1 137.4,635.2 138.4,636.5"/>
<polygon fill="#000" stroke="none" points="184.4,690.9 183.3,692 182.4,692.1 182,691 181.6,690.3 182.9,689.2 184.1,690.1"/>
<polygon fill="#000" stroke="none" points="152.6,682.8 152.4,681 154.1,680.6 154.9,680.8 155.7,682.3 154.3,683.4"/>
<polygon fill="#000" stroke="none" points="152.5,679.7 151.4,677.9 152.3,675.9 154.2,676.3 154,679"/>
<polygon fill="#000" stroke="none" points="143.4,660.5 144.4,660.8 144.3,661.6 144.5,662.3 143.4,663 142.4,661.9 142.8,661.2"/>
<polygon fill="#000" stroke="none" points="169.6,687.3 169.2,687.9 168.3,688.1 167.9,687.7 167.6,686.8 168.3,686.4 169.2,686.7"/>
<polygon fill="#000" stroke="none" points="155.2,677.1 154.4,676.7 153.3,675.9 154.4,675.3 155.5,675.3 156.1,676"/>
<polygon fill="#000" stroke="none" points="123.8,651.8 124.7,652.3 125.1,653.1 124.3,654.2 123.3,653.5 122.7,652.7"/>
<polygon fill="#000" stroke="none" points="128.6,634.1 126.7,635.1 126.4,633.1 128,632.3"/>
<polygon fill="#000" stroke="none" points="130.2,599.9 131.9,602.3 130.3,604.4 127.7,602.4"/>
<polygon fill="#000" stroke="none" points="124.4,630 125.7,630.3 126.6,631.8 126.7,633.7 124,634.1 123.8,632.2"/>
<polygon fill="#000" stroke="none" points="132.6,625.3 132,623.9 133.7,622.9 135.1,624 134.4,626"/>
<polygon fill="#000" stroke="none" points="199.9,690.3 198.1,690.3 198.1,688.3 200.2,688.9"/>
<polygon fill="#000" stroke="none" points="123.1,638 121.9,636.5 122.8,634.6 125,634.9 124.5,637"/>
<polygon fill="#000" stroke="none" points="130.6,641.4 131.1,640.9 132,640.7 132.1,641.6 131.9,642.2 130.9,642.3"/>
<polygon fill="#000" stroke="none" points="132.4,635.1 133.5,638.3 130,639.3 128.9,636.2"/>
<polygon fill="#000" stroke="none" points="131.9,607.5 133.5,606.8 135.9,607.8 135,610.5 132.4,610.6"/>
<polygon fill="#000" stroke="none" points="145.3,582.8 146.4,584.8 144.4,585.8 143.1,583.8"/>
<polygon fill="#000" stroke="none" points="136.9,650.6 137.4,651.5 137.7,652.2 137.2,652.8 136.3,653 135.8,652.1 136,650.9"/>
<polygon fill="#000" stroke="none" points="151.1,657.9 152,658.8 151.7,660.7 149.7,661 147.8,659.4 149.1,657.7"/>
<polygon fill="#000" stroke="none" points="135.5,665.2 134.4,666.2 133.2,666 132.6,665.6 132,664.1 133.4,663.5 134.3,663.6"/>
<polygon fill="#000" stroke="none" points="160.3,681.8 162.6,680.4 164.3,679 165.6,680.8 165.2,683.2 164.1,685 161.9,683.1"/>
<polygon fill="#000" stroke="none" points="129.2,626.2 129.6,627 128.9,627.6 128,627.2 128.3,626.1"/>
<polygon fill="#000" stroke="none" points="148,664.7 149.2,662.7 151.2,664.7 149.2,666.5"/>
<polygon fill="#000" stroke="none" points="189.3,689.5 189.9,690.9 190.3,692 188.6,692.9 187.9,691.6 187.8,690.3"/>
<polygon fill="#000" stroke="none" points="159.5,679.2 159.9,680.4 159.2,681.7 157.4,681.3 156.9,679.1"/>
<polygon fill="#000" stroke="none" points="138.5,595.3 137.4,595.8 135.8,595.2 134.9,593.2 137.1,591.6 139.3,593.3"/>
<polygon fill="#000" stroke="none" points="142.9,599.8 144.4,600.3 145.2,602.7 142.8,603.5 140.7,601.3"/>
<polygon fill="#000" stroke="none" points="153.6,582 152.9,581.5 153.3,580.2 154.2,580.6 154.7,581.9"/>
<polygon fill="#000" stroke="none" points="151.2,594.4 151.2,595.4 149.3,596.6 148.2,595.4 147.5,593.7 149.1,593.5 150.3,593"/>
<polygon fill="#000" stroke="none" points="178.5,687.1 181.1,687.3 181.8,689.3 179.6,690.1 177.4,689.2"/>
<polygon fill="#000" stroke="none" points="129.4,650.1 130.5,649.9 131,650.9 129.5,651.8"/>
<polygon fill="#000" stroke="none" points="142.1,668.3 141.6,670.4 140,670.3 139.2,669.8 139,667 140.7,666.5"/>
<polygon fill="#000" stroke="none" points="133.8,624.2 137.2,625.2 135.6,628.2 132.8,628.3"/>
<polygon fill="#000" stroke="none" points="139.1,629.5 138.5,629.3 138,628.7 138.5,628 139.3,627.8 140,628.5 139.5,629.2"/>
<polygon fill="#000" stroke="none" points="133.5,583.5 132.3,583.2 132.5,582 132.5,581 133.5,580.2 134.7,581.2 134.2,582.7"/>
<polygon fill="#000" stroke="none" points="138.4,588.6 140.2,588.1 141.6,589.7 139.9,591.3 138.9,592.7 137.9,591.5 137.4,589.8"/>
<polygon fill="#000" stroke="none" points="136.1,584.6 133.4,587 130.8,586 132.4,582.2"/>
<polygon fill="#000" stroke="none" points="147.1,651.9 149.1,653 148.4,655.5 146.2,655.9 145.2,653.4"/>
<polygon fill="#000" stroke="none" points="153.2,678.7 152,676.9 154.3,675.8 155.7,676 155.6,678.5 154.8,679.2"/>
<polygon fill="#000" stroke="none" points="140.3,664.9 140.2,666.4 138.9,666 139,665"/>
<polygon fill="#000" stroke="none" points="165,680.4 165.8,683.6 164.2,685.3 161.1,684.8 162.5,681.2"/>
<polygon fill="#000" stroke="none" points="151.2,673.7 152.7,671.1 154.7,672.1 155.6,674.3 154,675.4 151.6,675.6"/>
<polygon fill="#000" stroke="none" points="150.1,674.5 150,673.9 150.4,673.3 151.1,673 151.5,673.5 151.4,674.2 151,674.4"/>
<polygon fill="#000" stroke="none" points="141.8,672 141.7,671.2 142.4,671 142.9,671.3 142.6,672"/>
<polygon fill="#000" stroke="none" points="154.1,678.8 156.5,676 158.1,679.5 155.8,681.6"/>
<polygon fill="#000" stroke="none" points="122.9,639.5 121.7,638.1 122.9,636.6 124.5,636.9 125,638.4 124.4,639.5"/>
<polygon fill="#000" stroke="none" points="139.4,659.6 139.5,660.2 138.6,660.6 138.1,660.6 138,659.9 138.1,659.2 138.8,659.2"/>
<polygon fill="#000" stroke="none" points="134.2,623.6 131.6,623.2 130.9,620.5 134.3,620.9"/>
<polygon fill="#000" stroke="none" points="152.8,682.8 151.9,679.7 153.1,678.6 155.3,678.8 154.9,681.4"/>
<polygon fill="#000" stroke="none" points="188.4,689 188.6,689.9 188.5,691 187.4,691.4 186.5,690.7 186.7,689.1 187.3,689"/>
<polygon fill="#000" stroke="none" points="134.4,625.2 133.4,625.4 132.8,623.8 133.9,623.2 134.9,623.5 135.8,624.5"/>
<polygon fill="#000" stroke="none" points="150.6,592.3 151.3,591.7 152.3,592 152.4,592.7 151.4,592.8"/>
<polygon fill="#000" stroke="none" points="169.3,685.6 170.3,685.7 171.2,686.2 170.3,687.2 169.6,687.6 168.9,687.3 168.6,685.9"/>
<polygon fill="#000" stroke="none" points="150.9,594.5 150.3,594.3 150,593.9 149.9,593.3 150.5,593 151.2,593.2 151.5,593.8"/>
<polygon fill="#000" stroke="none" points="134.9,586.5 131.9,585.6 133.7,582.6 137,583.8"/>
<polygon fill="#000" stroke="none" points="190.4,693.1 190.6,691.8 191.6,691.6 192,692.6"/>
<polygon fill="#000" stroke="none" points="166.5,685.2 166.8,686.3 166.1,687.1 165.6,685.9"/>
<polygon fill="#000" stroke="none" points="131.6,627.7 131.4,626.1 132.6,625.3 132.9,627"/>
<polygon fill="#000" stroke="none" points="128.9,656.5 128.5,655.1 129.3,653.3 130.9,653.7 130.7,655.8 130.2,657.4"/>
<polygon fill="#000" stroke="none" points="135.8,665.9 135.2,666.8 134.5,666.9 134.1,665.9 134.2,665 135.5,664.7"/>
<polygon fill="#000" stroke="none" points="137,576.6 138.3,579.3 136.6,581.9 134.6,580.1 135.2,578"/>
<polygon fill="#000" stroke="none" points="158.4,680.5 157.8,681.4 156.8,681.6 156.3,680.9 157.3,679.9"/>
<polygon fill="#000" stroke="none" points="133.9,578.1 135.5,577.4 136.5,578 136.6,579.3 135.5,580.7 134,579.4"/>
<polygon fill="#000" stroke="none" points="140.8,636.4 137.4,637.7 137,634.4 139.4,632.9"/>
<polygon fill="#000" stroke="none" points="152.2,657 153.9,658.8 152.7,660.6 152.1,661.2 150.3,661.4 149.2,659.5 150.5,658.6"/>
<polygon fill="#000" stroke="none" points="141.8,588.7 142.4,588.2 143.7,587.6 143.9,589.7 143.1,590.7 141.8,589.9"/>
<polygon fill="#000" stroke="none" points="143,671.3 142.3,669.3 143.8,668.6 145.5,669.7 144.7,670.8"/>
<polygon fill="#000" stroke="none" points="174.2,686.6 174.9,685.8 176.2,685.3 176.5,686.7 175.4,687.8"/>
<polygon fill="#000" stroke="none" points="144.5,677.7 142.2,675.6 144.5,672.9 146.3,672.4 146.9,674.5 147.5,676.3"/>
<polygon fill="#000" stroke="none" points="131.9,630.6 131.5,632.5 129.8,632.1 128.5,630.6 129.1,629 130.4,628.8 132.1,629.4"/>
<polygon fill="#000" stroke="none" points="134.8,661.4 135.9,659.9 138.3,659.2 139,660.3 140.5,662 138.6,662.7 136.8,663.1"/>
<polygon fill="#000" stroke="none" points="155.5,678.5 156,680.1 153.5,680.9 152.6,679.4 152.6,677.6 154.8,677.3"/>
<polygon fill="#000" stroke="none" points="141.2,608.2 140.2,610 138.5,608.5 138.1,607 139.3,605.4 141.4,606.7"/>
<polygon fill="#000" stroke="none" points="123.2,648.4 122,648.2 122.1,646.9 123.4,646.7 124.3,647 124.7,648.4"/>
<polygon fill="#000" stroke="none" points="151.8,680.9 151,678.9 153.3,677.4 155,678.2 155,680.5 153.7,682.6"/>
<polygon fill="#000" stroke="none" points="133.1,577.4 134.4,576.3 135.2,578 135,579.6 132.8,579.7"/>
<polygon fill="#000" stroke="none" points="164.1,684 164.8,683.1 165.4,683.9 165.5,684.6 165.2,685.7 164.2,685.2 163.6,684.5"/>
<polygon fill="#000" stroke="none" points="173.7,689.7 174.6,689.2 175.7,688.9 176.1,689.8 175.8,691 174.6,690.4"/>
<polygon fill="#000" stroke="none" points="135.4,668.4 133.8,666.5 134.8,664.8 136.4,666"/>
<polygon fill="#000" stroke="none" points="133.7,635.7 135.7,638.1 131.9,639.1 130.6,636.7"/>
<polygon fill="#000" stroke="none" points="155.5,675.9 156.3,677 157,678.8 155.4,679 153.9,678.7 154.4,676.9"/>
<polygon fill="#000" stroke="none" points="153,569 152,569.8 150.8,569.9 149.7,569.6 150.2,568.5 151,567.7 152.4,567.7"/>
<polygon fill="#000" stroke="none" points="124.3,643.2 124.4,641 126.1,640.3 127.5,642.2 127.5,643.7 126.4,645.8 124.8,644.5"/>
<polygon fill="#000" stroke="none" points="177.1,689.4 176.5,689.7 176.2,689.4 175.5,688.4 176.5,687.4 177.3,688.2 177.6,688.7"/>
<polygon fill="#000" stroke="none" points="189.1,690.5 188.9,689.4 189.4,688.4 190.7,688.7 190.8,689.9 190,690.4"/>
<polygon fill="#000" stroke="none" points="133.1,650.4 134.3,650.1 134.3,651 134.7,651.8 133.4,652.6 132.3,651.9 132.2,650.9"/>
<polygon fill="#000" stroke="none" points="154.1,580.3 153.3,581.4 152.5,581.4 152.5,580.5 152.9,579.5"/>
<polygon fill="#000" stroke="none" points="162.8,683.6 160.9,683.2 159.2,682.9 159.5,681.2 161.4,680.4 163.1,681.8"/>
<polygon fill="#000" stroke="none" points="142.8,578 142,578.4 141.1,578.1 141.3,577.4 142.3,577.1"/>
<polygon fill="#000" stroke="none" points="126.8,634.3 124.3,635.1 123.3,632.2 126.2,632"/>
<polygon fill="#000" stroke="none" points="153.4,573.7 153.7,575 152.3,575.1 151.5,575.6 150.4,574.3 150.8,572.9 152.2,572.7"/>
<polygon fill="#000" stroke="none" points="127.5,624.9 125.4,621.9 129.6,620.6 130.7,624.4"/>
<polygon fill="#000" stroke="none" points="161,682.8 161.7,682.1 162.3,682.8 162,683.5 161.4,683.9"/>
<polygon fill="#000" stroke="none" points="122.2,637.5 123.7,636.4 125.8,637.1 125.4,638.6 123.3,638.9"/>
<polygon fill="#000" stroke="none" points="186.1,691.8 189.4,691 190.4,693.1 189,694.5 185.4,694.4"/>
<polygon fill="#000" stroke="none" points="150.9,665.3 151.7,665.7 151.4,666.4 150.5,666.2"/>
<polygon fill="#000" stroke="none" points="199.6,692.7 198.8,691.4 199.7,690.1 200.7,691.5"/>
<polygon fill="#000" stroke="none" points="137.6,600.2 138.5,599.5 138.9,600.8 138.7,601.9 137.6,601.4 137.3,600.7"/>
<polygon fill="#000" stroke="none" points="136.6,633.2 136,631.9 136.8,631.2 137.8,632.1"/>
<polygon fill="#000" stroke="none" points="147.2,600.7 147.8,601.8 146.8,602 145.7,601.8 145.9,601.2 146,600.4 146.8,600.2"/>
<polygon fill="#000" stroke="none" points="125.7,651.8 125.7,651 126.8,650.4 128,650.6 128.2,652 127.1,653.4 126,653.3"/>
<polygon fill="#000" stroke="none" points="195.2,692.4 196.6,690.9 198.3,691.5 198.3,693.4 195.9,694.2"/>
<polygon fill="#000" stroke="none" points="138.4,581.8 138.2,580.3 139.9,579.7 141.8,580.6 141.3,582.3 140.5,583.8 139.1,583.8"/>
<polygon fill="#000" stroke="none" points="201.8,688.4 204.4,689.2 204.6,691.7 201.2,693.4 200.2,690.5"/>
<polygon fill="#000" stroke="none" points="129.5,601.5 128,601 127.4,599.9 128.7,598.6 129.7,598.2 130.6,599.7 130.9,600.7"/>
<polygon fill="#000" stroke="none" points="130.9,634.9 129.1,634.5 129.9,632.8 131.4,632.9 132.2,634.2"/>
<polygon fill="#000" stroke="none" points="145.4,637.2 143.3,637.3 144.3,635.3 145.7,636"/>
<polygon fill="#000" stroke="none" points="167.7,680.6 166.1,681.9 164.7,681 165.4,679.6"/>
<polygon fill="#000" stroke="none" points="152.8,673.9 152,675.5 151.2,675.9 149.5,675.4 149.8,674.1 150.8,672.8"/>
<polygon fill="#000" stroke="none" points="147.8,582.5 148.5,579.3 151.1,581.1 150.3,584.2"/>
<polygon fill="#000" stroke="none" points="145.9,584.2 145.8,583.1 146.9,582.4 148,583.4 147.2,584.7"/>
<polygon fill="#000" stroke="none" points="145.2,669.6 144.5,668.6 145.5,667.2 146.8,667.9 147.6,668.8 146.8,669.6"/>
<polygon fill="#000" stroke="none" points="142.2,613.3 140.2,613.9 140,611.5 140.2,609.7 142.6,610.3 144.2,611.4"/>
<polygon fill="#000" stroke="none" points="139.2,581.1 138.3,582.4 135.9,581.9 136.2,579.3 138.6,579.1"/>
<polygon fill="#000" stroke="none" points="138.3,576.1 136.1,576.1 134.7,575.5 135.1,573.2 137.4,573.2 138.2,574.7"/>
<polygon fill="#000" stroke="none" points="126.3,618 126.6,618.3 126.8,619.1 126,619.8 125.4,619.5 125.1,618.6 125.4,617.8"/>
<polygon fill="#000" stroke="none" points="153.1,678.9 154.5,678.1 155.2,679 155.4,679.9 155.1,680.9 153.6,680.9 153.4,679.7"/>
<polygon fill="#000" stroke="none" points="154.9,679.5 153.7,679.1 153.6,678.3 154.2,677.8 155.1,678.3"/>
<polygon fill="#000" stroke="none" points="164.4,683 165.9,684.1 164.9,685.9 163.3,686.3 162,684.7 163.2,683"/>
<polygon fill="#000" stroke="none" points="139.1,588.5 136.3,591 133.9,588.4 135.3,586.4 138.4,585.8"/>
<polygon fill="#000" stroke="none" points="155.5,684.4 154.9,682.2 156.9,680.8 158.1,683.3"/>
<polygon fill="#000" stroke="none" points="187.2,689.8 189,687.8 190.6,686.5 191.8,688.3 193.7,689.8 191.6,691.3 189.6,691.1"/>
<polygon fill="#000" stroke="none" points="127,650.8 128.6,652 127.8,653.1 126.7,653.8 126.2,652.2"/>
<polygon fill="#000" stroke="none" points="140.2,576.3 139.1,574.9 140.1,572.3 141.8,571.6 143.3,573.7 142.9,576.2"/>
<polygon fill="#000" stroke="none" points="137.7,575.7 137.7,574.7 138.6,573.9 140.2,573.9 140.6,575.3 139.4,576.6"/>
<polygon fill="#000" stroke="none" points="148.5,677.5 148.6,679.2 147.1,679.6 146.1,678.9 144.6,677.8 146.3,676.8 147.5,676.4"/>
<polygon fill="#000" stroke="none" points="150,578.7 149.1,577.3 149.1,575.9 150.5,575 151.4,575.5 152.6,576.9 151.4,578"/>
<polygon fill="#000" stroke="none" points="184.7,689.1 186.7,689.7 186.1,691.8 184.6,690.9"/>
<polygon fill="#000" stroke="none" points="128.4,661.3 126.2,659.1 127.5,656.4 129.3,658.5"/>
<polygon fill="#000" stroke="none" points="126.9,625.1 128.8,625.3 129,626.5 128.7,627.5 126.6,627"/>
<polygon fill="#000" stroke="none" points="144.4,582.4 146.8,580.4 149.3,581.5 148.8,583.6 146.5,584.3"/>
<polygon fill="#000" stroke="none" points="127.5,649.6 128.9,650.4 128.4,652.1 127,651.9 126,650.2"/>
<polygon fill="#000" stroke="none" points="153.9,681.5 155,678.1 157.7,681.1 155.4,683"/>
<polygon fill="#000" stroke="none" points="139.4,611.2 136.8,610.2 136.4,608.3 138.3,606.8 140.6,608.4"/>
<polygon fill="#000" stroke="none" points="132.4,650.1 133.5,648.8 135.5,648.3 136.2,649.8 137.2,651.5 135.1,653.4 132.9,652"/>
<polygon fill="#000" stroke="none" points="176.5,690 176.3,691.4 174.9,692.2 173.5,691.6 173.4,690.1 174,689.3 175.5,689.3"/>
<polygon fill="#000" stroke="none" points="132.8,655.8 136.3,655.5 136.1,658.9 133.1,658.7"/>
<polygon fill="#000" stroke="none" points="196.1,692.1 194.8,693.8 193.3,693.9 192.5,691.8 192.9,690.5 194.6,690.9"/>
<polygon fill="#000" stroke="none" points="157.5,678.7 159.8,680.5 157.9,681.7 155.7,680.8"/>
<polygon fill="#000" stroke="none" points="146.5,600.7 147.8,600.4 148.2,601 147.9,601.6 147.1,601.5"/>
<polygon fill="#000" stroke="none" points="149.3,669 147.9,667.2 148.1,664.8 150.3,663.7 152.7,665.3 153,667.5 151.4,669.9"/>
<polygon fill="#000" stroke="none" points="169.9,682.4 172.2,681.6 172.6,684.2 170.3,684.1"/>
<polygon fill="#000" stroke="none" points="123.7,635.7 124,638.9 121.3,639.3 120.9,636.5"/>
<polygon fill="#000" stroke="none" points="200.3,685.3 203,688.2 200.2,691.2 197.9,690 198,686.6"/>
<polygon fill="#000" stroke="none" points="132.6,649.9 128.3,649.3 129.6,645.2 132.2,646.1"/>
<polygon fill="#000" stroke="none" points="136.7,591.2 135.5,592.4 134.3,591 134.4,589.6 135.4,588.9 136.8,589.7"/>
<polygon fill="#000" stroke="none" points="167.3,684.6 168.3,682.6 169.3,681.4 170.4,682 171.2,684.4 169.6,685.6"/>
<polygon fill="#000" stroke="none" points="130.6,630.1 128.2,630.5 127,628.5 129.5,627.2"/>
<polygon fill="#000" stroke="none" points="148.8,673 147.7,670.8 148.8,668.6 150.3,668.7 151.6,670.9 150.7,672.7"/>
<polygon fill="#000" stroke="none" points="136.5,652.6 139,651.9 140.9,654.6 138.4,656.8 136.2,656.1 135.9,654.1"/>
<polygon fill="#000" stroke="none" points="131.4,649 129.1,649.8 129,647.7 129,646.3 131.1,646.4 131.3,647.6"/>
<polygon fill="#000" stroke="none" points="135.6,591.1 136.8,588.7 139.5,589.2 140.6,590.6 140.5,593.1 137.8,592.9"/>
<polygon fill="#000" stroke="none" points="128.9,604.5 132,605.2 132.2,607.5 129.9,608.9 127.2,607.3"/>
<polygon fill="#000" stroke="none" points="130.6,667.3 129.8,668.3 127.2,667.9 127.4,666 129.8,664.9"/>
<polygon fill="#000" stroke="none" points="125.5,639.4 126,643.2 123.2,643 122.5,640.5"/>
<polygon fill="#000" stroke="none" points="135.7,657.5 135.1,657.3 134.7,656.4 135.8,655.7 136.7,656.3 136.6,657.1"/>
<polygon fill="#000" stroke="none" points="140.4,583.2 139.4,582.6 139.1,581.6 140.3,580.5 141.3,581.4 141.8,582.6"/>
<polygon fill="#000" stroke="none" points="130.5,598.7 130.6,597.6 131.8,597.9 131.5,599.3"/>
<polygon fill="#000" stroke="none" points="153.5,676.2 153.6,677 153.2,678.1 152.4,677.4 152.5,676.5"/>
<polygon fill="#000" stroke="none" points="133.7,615.4 132.3,615.9 131,615.6 130.6,614 131.4,611.9 132.7,613 133.5,613.8"/>
<polygon fill="#000" stroke="none" points="135,615.7 136.5,616.2 136.4,618 134.9,617.6"/>
<polygon fill="#000" stroke="none" points="149.5,590 151.7,592 148.3,594.8 146.8,591.1"/>
<polygon fill="#000" stroke="none" points="179.2,687.2 178.8,688.7 177.3,688.2 176.8,686.5 178.7,685.5"/>
<polygon fill="#000" stroke="none" points="139.4,572.2 141.1,574.5 139.2,577.1 135.9,576.4 135.6,574.2 136.5,572.8"/>
<polygon fill="#000" stroke="none" points="135.1,631.3 136.5,629.4 138.1,630 138.6,632.7 136.2,632.8"/>
<polygon fill="#000" stroke="none" points="196.1,689.4 196.5,691.6 194.9,692.1 194.3,690.2"/>
<polygon fill="#000" stroke="none" points="156.5,681.9 158.3,681.4 159.1,682.5 159.2,684.7 157.1,685.3 156.5,683.4"/>
<polygon fill="#000" stroke="none" points="151.5,587 151.9,588.1 151,588.7 150,588.2 149.3,587 150.6,586.7"/>
<polygon fill="#000" stroke="none" points="146.7,675.3 146.1,675.6 145.6,674.7 145.7,674.1 146.4,673.8 147,674.3 147.1,674.9"/>
<polygon fill="#000" stroke="none" points="138.6,624.5 137.7,623.5 138.5,622.7 139.3,623.2 139.4,624"/>
<polygon fill="#000" stroke="none" points="136.3,664 136.7,665 136.1,665.7 135,665.4 134.1,664.7 134.7,663.8 135.8,663"/>
<polygon fill="#000" stroke="none" points="124.2,646.3 125.4,647.9 124.4,649.5 122.2,649.4 121.6,647.6"/>
<polygon fill="#000" stroke="none" points="124.2,643.6 124,644.3 122.9,644.5 122.7,643.5 123.1,642.9 123.9,642.9"/>
<polygon fill="#000" stroke="none" points="136.4,635 138.2,634.8 138.5,636.7 136.5,636.7"/>
<polygon fill="#000" stroke="none" points="130.4,592.9 131.2,592.8 131.5,593.9 130.7,594.5 130.3,593.7"/>
<polygon fill="#000" stroke="none" points="202.3,690.2 203.2,688.5 204.8,689.9 204.5,691.9 202.2,691.6"/>
<polygon fill="#000" stroke="none" points="144,653.4 145.4,653.5 145.5,654.7 145.2,655.8 143.7,655.5 143.3,654.5"/>
<polygon fill="#000" stroke="none" points="173.1,689.3 172.2,688.9 173,687.8 173.7,687.9 174.1,689.1"/>
<polygon fill="#000" stroke="none" points="181.3,689.7 181.1,689.2 181.8,688.5 182.5,688.7 182.5,689.5 182.3,690.2"/>
<polygon fill="#000" stroke="none" points="198.1,688.8 196.6,689.7 195.8,688.7 195.6,687.2 196.7,687.1 198.2,687.6"/>
<polygon fill="#000" stroke="none" points="161.4,684.7 159.9,684.9 158.9,683.8 159.7,682 161.7,682.9"/>
<polygon fill="#000" stroke="none" points="142,601.1 142.1,599.4 143.2,599.7 143.7,600.6 142.8,601.3"/>
<polygon fill="#000" stroke="none" points="139.7,592 139.6,594.1 137.9,594.4 137.8,592.5"/>
<polygon fill="#000" stroke="none" points="147.1,676.9 145.9,676.5 145.5,675.9 145.6,674.8 146.7,673.9 147.6,674.7 148.2,676"/>
<polygon fill="#000" stroke="none" points="126,658.1 125.7,659.7 123.8,659.4 124.3,657.4"/>
<polygon fill="#000" stroke="none" points="131.8,598.9 134.7,600.2 135.1,603 132,603.1 130.8,601.4"/>
<polygon fill="#000" stroke="none" points="139.6,583.5 137.9,583.2 138.6,581.2 139.5,580.5 140.3,581.4 140.8,582.7"/>
<polygon fill="#000" stroke="none" points="135.1,631.5 136.5,631.7 137.6,632.4 137.3,633.5 135.8,634 134.2,634.1 133.7,632.5"/>
<polygon fill="#000" stroke="none" points="148.4,587.9 149.3,588.1 149.7,588.4 149.7,589 148.8,589.5 148.2,588.7"/>
<polygon fill="#000" stroke="none" points="130.6,643.5 129.9,642.4 131,641.5 131.5,643"/>
<polygon fill="#000" stroke="none" points="145.8,570 146.4,571.2 145.4,572.7 144.4,571.9 143.6,571.3 144,570 145,569.1"/>
<polygon fill="#000" stroke="none" points="137,669 137.8,669.2 138.3,670.2 137.3,670.8 136.5,670.3 136,669.9 136.3,669"/>
<polygon fill="#000" stroke="none" points="152.9,676.2 153.3,678 152,679 151,677.2"/>
<polygon fill="#000" stroke="none" points="133.8,673.9 132.5,672.3 134.2,671.1 135.5,671.9 135.7,673.5"/>
<polygon fill="#000" stroke="none" points="150.2,608.3 149.6,609.3 148.5,608.9 147.7,608.5 148,607.5 148.8,607.1 149.7,607.4"/>
<polygon fill="#000" stroke="none" points="196.3,692.2 196.5,693.1 195.7,694 194.4,693.6 194.7,692.5 195,691.9 195.8,691.8"/>
<polygon fill="#000" stroke="none" points="125.1,648.6 126,648 126.5,648.8 126.4,649.8 126,650.6 125.2,650.2 124.9,649.3"/>
<polygon fill="#000" stroke="none" points="126.7,632.6 127.7,635.6 124.8,636.3 124.8,633.2"/>
<polygon fill="#000" stroke="none" points="132.2,654.8 130.3,654.2 130.1,652.1 131.8,651.1 134.3,652.4"/>
<polygon fill="#000" stroke="none" points="180.3,689.8 179.6,689.8 179.7,689 179.8,688.6 180.4,688.3 180.9,688.7 180.6,689.4"/>
<polygon fill="#000" stroke="none" points="127.9,599.2 131.2,600.2 131,603.5 128,602.7"/>
<polygon fill="#000" stroke="none" points="130.4,597.7 132.7,597.4 134.9,598.4 133.6,600 132.3,601.7 130.5,600"/>
<polygon fill="#000" stroke="none" points="199.8,690.6 198.9,692.6 197.7,693.8 196.3,692.1 195.7,690.5 197.7,688.8"/>
<polygon fill="#000" stroke="none" points="125.8,654.3 125.2,654.8 124.3,654.6 123.9,654 124.5,653.5 125.2,653.2 125.8,653.6"/>
<polygon fill="#000" stroke="none" points="133.5,659.4 133.6,660.7 132.3,660.5 131.8,659.6 132.2,658.7 133.4,658.4"/>
<polygon fill="#000" stroke="none" points="134.1,639.9 134,638.5 135.2,638.7 135.3,640.4"/>
<polygon fill="#000" stroke="none" points="161.1,683.8 161.6,685.1 159.9,686 159.2,684.1"/>
<polygon fill="#000" stroke="none" points="139.3,664.6 140.6,662.7 143.3,663.2 142.4,664.8"/>
<polygon fill="#000" stroke="none" points="130.9,622.1 128.9,623.4 127.3,622.6 127.3,620 129.5,619.7"/>
<polygon fill="#000" stroke="none" points="204.9,689.1 205.5,690.9 203.9,691.1 202.5,691 202.7,689.4 202.7,688.8 204.5,687.8"/>
<polygon fill="#000" stroke="none" points="157.1,681 159.7,681 161.2,683.9 157.7,685.3"/>
<polygon fill="#000" stroke="none" points="171,687.9 171.1,691.3 167.3,690.9 168.8,687.8"/>
<polygon fill="#000" stroke="none" points="151.9,678.9 153,678.8 154.4,679.6 154.4,680.7 152.6,680.8 151.6,680.6"/>
<polygon fill="#000" stroke="none" points="197.2,693.3 197.5,691.3 198.9,691 199.2,693.1"/>
<polygon fill="#000" stroke="none" points="149.3,675.5 148.5,675.3 148.3,674.5 148.7,674.2 149.6,674.2 149.6,674.9"/>
<polygon fill="#000" stroke="none" points="128.7,647.2 128.1,648.7 126.6,648 127,646.2"/>
<polygon fill="#000" stroke="none" points="140.5,596.5 139.6,594.8 140.8,594.2 142.2,594.5 142.5,595.7 141.7,597.2"/>
<polygon fill="#000" stroke="none" points="193.9,691 195.2,687.7 198.6,688.7 197.7,692.7"/>
<polygon fill="#000" stroke="none" points="126.5,650.4 129.6,650.5 129.9,653.4 126.9,652.9"/>
<polygon fill="#000" stroke="none" points="126.9,630 128.6,629.7 130.1,630.9 129.6,632.9 128.4,634.4 127.2,633.4 126,631.6"/>
<polygon fill="#000" stroke="none" points="171.1,684.4 172,685.3 171.6,686.1 171.3,686.6 170,686.7 170,685.6 170.1,684.6"/>
<polygon fill="#000" stroke="none" points="126.8,604.7 126.8,603.2 128.1,600.8 130.6,601.7 130.1,604.1 129.5,605.9"/>
<polygon fill="#000" stroke="none" points="140.7,577.9 142.1,577.7 143,578.7 141.3,579.4"/>
<polygon fill="#000" stroke="none" points="127.7,649.6 129.5,648.2 130.5,648.9 131,650.8 130.9,652.6 129.5,652.2 127.7,651.6"/>
<polygon fill="#000" stroke="none" points="160,684 160.9,684.5 161,685.5 160.1,686.4 159.2,685.9 158.9,685 158.7,684.2"/>
<polygon fill="#000" stroke="none" points="143.2,569.4 143.8,570.1 144.1,570.7 143.7,571.7 142.8,571.4 142.1,571 142.4,570.2"/>
<polygon fill="#000" stroke="none" points="194.4,689.1 195.7,690.2 194.5,691.5 192.7,690.8 193.2,689.3"/>
<polygon fill="#000" stroke="none" points="132.9,626.7 131.1,624.6 131.1,622.4 133.5,621.7 135.2,622.8 136.8,624.3 134.6,626.7"/>
<polygon fill="#000" stroke="none" points="183.7,691.5 183.4,690 183.7,688.1 184.9,687.9 185.6,689.2 185.8,690.4 185.2,691.1"/>
<polygon fill="#000" stroke="none" points="167.1,687.7 168.1,686.8 168.6,687.9 168.1,688.9 167.2,688.5"/>
<polygon fill="#000" stroke="none" points="140.4,651.8 142.2,650.9 144.6,653.8 142.6,655.9 139.3,654.7"/>
<polygon fill="#000" stroke="none" points="197.6,690 198.1,691.3 197.7,693.4 195.9,693.9 195.1,691.8 195.2,689.3"/>
<polygon fill="#000" stroke="none" points="137.9,580.2 136.4,577.6 136.9,574.9 138.6,575.2 139.8,575.9 140.3,578.6"/>
<polygon fill="#000" stroke="none" points="139.7,586.4 141.8,584.5 143.7,586.5 141.7,588.3"/>
<polygon fill="#000" stroke="none" points="139.6,603.6 137.8,603.2 138.7,601.7 139.3,601.3 140.7,601.6 140.8,602.4 140.6,603.3"/>
<polygon fill="#000" stroke="none" points="131.8,601.4 133.1,603.1 132.9,605.6 130.9,604.9 129.5,602.8"/>
<polygon fill="#000" stroke="none" points="197.3,686.3 199.7,685.5 201.1,687.7 200.1,689.6 197.9,690 197.4,688.2"/>
<polygon fill="#000" stroke="none" points="132.9,641.2 131.9,640.3 132,639.2 132.6,638.7 133.4,638.3 134,639.5 134.2,640.9"/>
<polygon fill="#000" stroke="none" points="156.4,677.2 155,675.8 155,674.2 155.4,672.5 157.1,672.9 159.1,674.3 157.9,675.6"/>
<polygon fill="#000" stroke="none" points="136.7,580.7 137.3,582 137.1,583.7 136.5,585.2 134.3,584.5 134.2,582.9 134.5,581.9"/>
<polygon fill="#000" stroke="none" points="150.8,670.3 150,667.6 153.3,666.9 153.4,669.6"/>
<polygon fill="#000" stroke="none" points="132.7,665.1 130.2,664 131.1,662.1 132.8,661.5 134.3,662.5 134.2,664.3"/>
<polygon fill="#000" stroke="none" points="133.6,635.3 133.5,637.3 132.6,638.1 131.4,637.1 131.5,635.7 132.3,634.8"/>
<polygon fill="#000" stroke="none" points="130,644.2 128.9,645.1 127.9,645.7 127,644.2 127.9,643.2 129,643.2"/>
<polygon fill="#000" stroke="none" points="173.2,687 175.3,686.7 176.1,688.9 173.6,689.5"/>
<polygon fill="#000" stroke="none" points="137.4,664.3 137.9,662.1 139.9,662.2 139.7,664.4"/>
<polygon fill="#000" stroke="none" points="156,680.7 154.4,680.9 154.2,679.4 155.8,678.7"/>
<polygon fill="#000" stroke="none" points="132.9,661.7 131,660.1 132.7,658.3 133.9,659.8"/>
<polygon fill="#000" stroke="none" points="138.7,576.6 136.7,574 139.2,571.3 141.6,572.8 141,575"/>
<polygon fill="#000" stroke="none" points="126.6,643.2 127.3,642.7 128.5,642.7 128.7,643.9 127.7,644.8 126.7,644"/>
<polygon fill="#000" stroke="none" points="130.2,613.2 127.7,613.7 127.8,611.5 129.9,610.8"/>
<polygon fill="#000" stroke="none" points="125.8,637.5 124.9,635.1 127.3,634.6 127.8,637.3"/>
<polygon fill="#000" stroke="none" points="162.6,681 165,681.5 167.4,682.4 166.6,684.1 163.6,685.2 162.9,683.3"/>
<polygon fill="#000" stroke="none" points="153.3,676.6 152.7,679.7 150.6,678.2 150.9,675.8"/>
<polygon fill="#000" stroke="none" points="146.9,656.6 145.5,658 143.8,658.4 143.9,656.5 144.3,655 145.4,655.1"/>
<polygon fill="#000" stroke="none" points="145.4,675.2 147,672.7 148.9,673.5 149.3,675.4 150.1,677.3 147.6,677.9 146.2,677.2"/>
<polygon fill="#000" stroke="none" points="144.9,674.2 146.3,671.5 148.5,672.9 149.4,675.1 148.2,677 145.2,676.7"/>
<polygon fill="#000" stroke="none" points="135.7,604 134.5,605.1 133,604.4 132.6,603 134,602.2 135.3,602.8"/>
<polygon fill="#000" stroke="none" points="148.5,571.6 148.1,574.5 145.2,575.9 145.6,572.6"/>
<polygon fill="#000" stroke="none" points="130.4,628.5 130.1,626.1 131,623.6 133,624.1 134.8,626 132.5,627.9"/>
<polygon fill="#000" stroke="none" points="143.3,568.6 141.4,568.7 140.8,567.2 142.7,566.7"/>
<polygon fill="#000" stroke="none" points="191.9,690.6 191.7,688.9 193.4,688.6 193.4,690.8"/>
<polygon fill="#000" stroke="none" points="123.4,634.6 122.8,632.6 124.7,632.2 126.9,632.6 127.6,634.3 126.2,636 124,635.4"/>
<polygon fill="#000" stroke="none" points="202.9,690 202.2,687.8 202.3,685.7 204.3,686.2 205.8,686.5 206.3,688.6 204.8,690.6"/>
<polygon fill="#000" stroke="none" points="142.2,569.6 143.9,568.7 144.5,570 144.1,571.7 142.9,570.7"/>
<polygon fill="#000" stroke="none" points="128.1,653.1 127.1,653.4 126.8,652.1 126.6,651 127.8,650.3 129,651 129,652.2"/>
<polygon fill="#000" stroke="none" points="137.6,669.7 136.2,667.7 137.9,665.6 139.6,667 139.3,669.4"/>
<polygon fill="#000" stroke="none" points="183.3,693.2 182.5,693.7 182,692.8 182.1,692 182.9,691.4 184,692.4"/>
<polygon fill="#000" stroke="none" points="161.7,681.7 163.1,680.8 164.6,681.4 164.3,683.2 162.3,684"/>
<polygon fill="#000" stroke="none" points="170.7,684.6 171.5,685.6 172.5,687.1 171.5,687.8 169.8,688.6 169.1,687.2 169.1,685.4"/>
<polygon fill="#000" stroke="none" points="132.8,643.1 131.8,645 128.6,645.4 129.2,641.7"/>
<polygon fill="#000" stroke="none" points="130.9,594.7 130.2,591.7 132.9,590.7 135.3,593.1 132.8,595.3"/>
<polygon fill="#000" stroke="none" points="139.8,671.3 139.5,669.7 140.2,668.2 141.3,669.2 141.1,670.8"/>
<polygon fill="#000" stroke="none" points="135.4,629.7 134,632.2 132,630.3 132,628.6 132.9,626.3 134.6,627.3"/>
<polygon fill="#000" stroke="none" points="135.3,579.8 134.3,578.6 135.5,578 137,577.5 137.5,578.8 137.8,580.1 136.4,580.9"/>
<polygon fill="#000" stroke="none" points="148.5,671.6 147.4,672.1 147,671.2 147.2,670.5 148.2,670.6"/>
<polygon fill="#000" stroke="none" points="178.2,687.3 177.1,686 178.2,685.1 179.3,684.9 179.5,685.8 179.5,686.6"/>
<polygon fill="#000" stroke="none" points="125.9,651 127.9,651.2 129.7,652.6 127.7,653.4 125.3,652.8"/>
<polygon fill="#000" stroke="none" points="127.7,633.9 126.7,632.9 126.4,631.1 127.5,629.7 129,629.6 129.6,631.8 129.1,634"/>
<polygon fill="#000" stroke="none" points="155.6,681 154.3,681.3 154.5,680 155.2,679.1 155.8,680"/>
<polygon fill="#000" stroke="none" points="129.8,665.2 130.3,664.5 131.3,664.1 132.4,665.1 131.8,666.3 130.9,667.1 129.6,666.5"/>
<polygon fill="#000" stroke="none" points="138.8,601.4 140.8,603.3 140.1,606.2 137.9,606.2 136.5,603.4"/>
<polygon fill="#000" stroke="none" points="148.4,677.9 149.7,676.9 151.2,677.4 151.1,679.6 149,679.7"/>
<polygon fill="#000" stroke="none" points="132,595.3 133.1,595.9 132.5,597.6 131.5,597.4 130.8,596.8 130.8,595.6"/>
<polygon fill="#000" stroke="none" points="126.5,658.2 127.9,659.5 126.9,660.9 125.5,660"/>
<polygon fill="#000" stroke="none" points="127.5,651.9 129.2,650 130.5,650.8 131.4,652.8 129.3,652.9"/>
<polygon fill="#000" stroke="none" points="187,693.4 187.4,690.9 187.5,689.7 189.7,688.7 190.7,690.4 190.2,692.2 189.5,693.8"/>
<polygon fill="#000" stroke="none" points="134.3,607.9 132.9,606.2 134.3,604.4 135.2,606.2"/>
<polygon fill="#000" stroke="none" points="139.8,602.5 137.9,605.2 135.2,604.5 135.4,601.7"/>
<polygon fill="#000" stroke="none" points="146.5,654.8 146.3,654.4 146.2,653.4 146.9,653.6 147.4,653.4 147.6,654.4 147.2,654.8"/>
<polygon fill="#000" stroke="none" points="139.7,628 141.6,629.4 140.3,631.2 138.5,630.1"/>
<polygon fill="#000" stroke="none" points="151.5,675.4 150.2,677 148.7,675.9 149.6,674.8"/>
<polygon fill="#000" stroke="none" points="132.7,607.4 131.9,609.4 128.3,608.2 130.7,606.1"/>
<rect x="242.7" y="70.5" width="2.2" height="2.2" fill="#000" stroke="none"/>
<rect x="244.3" y="74" width="2" height="2" fill="#000" stroke="none"/>
<rect x="247.2" y="82" width="2.2" height="2.2" fill="#000" stroke="none"/>
<rect x="248.8" y="85.5" width="2" height="2" fill="#000" stroke="none"/>
<rect x="245.6" y="95" width="2.2" height="2.2" fill="#000" stroke="none"/>
<rect x="244" y="101.5" width="2" height="2" fill="#000" stroke="none"/>
<rect x="242.5" y="107.5" width="2" height="2" fill="#000" stroke="none"/>
<rect x="260" y="96.5" width="2" height="2" fill="#000" stroke="none"/>
<rect x="250.5" y="113" width="2" height="2" fill="#000" stroke="none"/>
<rect x="173" y="105" width="2.5" height="2.5" fill="#000" stroke="none"/>
<rect x="178" y="105.8" width="2.5" height="2.5" fill="#000" stroke="none"/>
<rect x="183" y="106.5" width="2" height="2" fill="#000" stroke="none"/>
<rect x="202" y="108.5" width="2.5" height="2.5" fill="#000" stroke="none"/>
<rect x="205" y="109.5" width="2" height="2" fill="#000" stroke="none"/>
<rect x="218" y="115.5" width="2.5" height="2.5" fill="#000" stroke="none"/>
<rect x="222" y="117" width="2" height="2" fill="#000" stroke="none"/>
<rect x="558.5" y="66.8" width="2.2" height="2.2" fill="#000" stroke="none"/>
<rect x="571.5" y="67.5" width="2.2" height="2.2" fill="#000" stroke="none"/>
<rect x="573" y="70.5" width="2.5" height="2.5" fill="#000" stroke="none"/>
<rect x="557" y="82" width="2" height="2" fill="#000" stroke="none"/>
<rect x="566.5" y="80.5" width="2.5" height="2.5" fill="#000" stroke="none"/>
<rect x="569" y="79.5" width="2" height="2" fill="#000" stroke="none"/>
<rect x="80.5" y="503" width="2" height="2" fill="#000" stroke="none"/>
<rect x="96.3" y="502.3" width="2" height="2" fill="#000" stroke="none"/>
<rect x="75" y="96" width="1.8" height="1.8" fill="#000" stroke="none"/>
<rect x="72" y="103.2" width="1.8" height="1.8" fill="#000" stroke="none"/>
<rect x="64" y="87" width="1.8" height="1.8" fill="#000" stroke="none"/>
<rect x="532" y="698" width="1.6" height="1.6" fill="#000" stroke="none"/>
<rect x="534.5" y="701.3" width="1.6" height="1.6" fill="#000" stroke="none"/>
<rect x="538" y="703.5" width="1.6" height="1.6" fill="#000" stroke="none"/>
<rect x="541.5" y="710" width="1.6" height="1.6" fill="#000" stroke="none"/>
<rect x="231" y="68" width="2" height="2" fill="#000" stroke="none"/>
<rect x="233.5" y="72" width="1.6" height="1.6" fill="#000" stroke="none"/>
<rect x="85.5" y="233" width="3" height="3" fill="#000" stroke="none"/>
</g>
<rect x="36" y="66" width="567" height="647" fill="none" stroke="#000" stroke-width="2" shape-rendering="crispEdges"/>
<g stroke="#000" stroke-width="1" shape-rendering="crispEdges">
<line x1="44.5" y1="714" x2="44.5" y2="717"/>
<line x1="87.5" y1="714" x2="87.5" y2="717"/>
<line x1="129.5" y1="714" x2="129.5" y2="717"/>
<line x1="172.5" y1="714" x2="172.5" y2="717"/>
<line x1="215.5" y1="714" x2="215.5" y2="717"/>
<line x1="257.5" y1="714" x2="257.5" y2="717"/>
<line x1="300.5" y1="714" x2="300.5" y2="717"/>
<line x1="342.5" y1="714" x2="342.5" y2="717"/>
<line x1="385.5" y1="714" x2="385.5" y2="717"/>
<line x1="427.5" y1="714" x2="427.5" y2="717"/>
<line x1="470.5" y1="714" x2="470.5" y2="717"/>
<line x1="512.5" y1="714" x2="512.5" y2="717"/>
<line x1="555.5" y1="714" x2="555.5" y2="717"/>
<line x1="597.5" y1="714" x2="597.5" y2="717"/>
<line x1="32" y1="687.5" x2="35" y2="687.5"/>
<line x1="32" y1="644.5" x2="35" y2="644.5"/>
<line x1="32" y1="601.5" x2="35" y2="601.5"/>
<line x1="32" y1="558.5" x2="35" y2="558.5"/>
<line x1="32" y1="514.5" x2="35" y2="514.5"/>
<line x1="32" y1="471.5" x2="35" y2="471.5"/>
<line x1="32" y1="428.5" x2="35" y2="428.5"/>
<line x1="32" y1="385.5" x2="35" y2="385.5"/>
<line x1="32" y1="342.5" x2="35" y2="342.5"/>
<line x1="32" y1="298.5" x2="35" y2="298.5"/>
<line x1="32" y1="255.5" x2="35" y2="255.5"/>
<line x1="32" y1="212.5" x2="35" y2="212.5"/>
<line x1="32" y1="169.5" x2="35" y2="169.5"/>
<line x1="32" y1="126.5" x2="35" y2="126.5"/>
<line x1="32" y1="82.5" x2="35" y2="82.5"/>
</g>
<g font-size="12" class="tt">
<text x="45" y="728" text-anchor="middle" textLength="20.5" lengthAdjust="spacingAndGlyphs">85W</text>
<text x="87.5" y="728" text-anchor="middle" textLength="20.5" lengthAdjust="spacingAndGlyphs">80W</text>
<text x="130.1" y="728" text-anchor="middle" textLength="20.5" lengthAdjust="spacingAndGlyphs">75W</text>
<text x="172.6" y="728" text-anchor="middle" textLength="20.5" lengthAdjust="spacingAndGlyphs">70W</text>
<text x="215.2" y="728" text-anchor="middle" textLength="20.5" lengthAdjust="spacingAndGlyphs">65W</text>
<text x="257.7" y="728" text-anchor="middle" textLength="20.5" lengthAdjust="spacingAndGlyphs">60W</text>
<text x="300.2" y="728" text-anchor="middle" textLength="20.5" lengthAdjust="spacingAndGlyphs">55W</text>
<text x="342.8" y="728" text-anchor="middle" textLength="20.5" lengthAdjust="spacingAndGlyphs">50W</text>
<text x="385.3" y="728" text-anchor="middle" textLength="20.5" lengthAdjust="spacingAndGlyphs">45W</text>
<text x="427.8" y="728" text-anchor="middle" textLength="20.5" lengthAdjust="spacingAndGlyphs">40W</text>
<text x="470.4" y="728" text-anchor="middle" textLength="20.5" lengthAdjust="spacingAndGlyphs">35W</text>
<text x="512.9" y="728" text-anchor="middle" textLength="20.5" lengthAdjust="spacingAndGlyphs">30W</text>
<text x="555.5" y="728" text-anchor="middle" textLength="20.5" lengthAdjust="spacingAndGlyphs">25W</text>
<text x="598" y="728" text-anchor="middle" textLength="20.5" lengthAdjust="spacingAndGlyphs">20W</text>
<text x="30" y="691.7" text-anchor="end" textLength="18.5" lengthAdjust="spacingAndGlyphs">55S</text>
<text x="30" y="648.5" text-anchor="end" textLength="18.5" lengthAdjust="spacingAndGlyphs">50S</text>
<text x="30" y="605.3" text-anchor="end" textLength="18.5" lengthAdjust="spacingAndGlyphs">45S</text>
<text x="30" y="562.1" text-anchor="end" textLength="18.5" lengthAdjust="spacingAndGlyphs">40S</text>
<text x="30" y="518.9" text-anchor="end" textLength="18.5" lengthAdjust="spacingAndGlyphs">35S</text>
<text x="30" y="475.7" text-anchor="end" textLength="18.5" lengthAdjust="spacingAndGlyphs">30S</text>
<text x="30" y="432.5" text-anchor="end" textLength="18.5" lengthAdjust="spacingAndGlyphs">25S</text>
<text x="30" y="389.3" text-anchor="end" textLength="18.5" lengthAdjust="spacingAndGlyphs">20S</text>
<text x="30" y="346" text-anchor="end" textLength="18.5" lengthAdjust="spacingAndGlyphs">15S</text>
<text x="30" y="302.8" text-anchor="end" textLength="18.5" lengthAdjust="spacingAndGlyphs">10S</text>
<text x="30" y="259.6" text-anchor="end" textLength="13" lengthAdjust="spacingAndGlyphs">5S</text>
<text x="30" y="216.4" text-anchor="end" textLength="13" lengthAdjust="spacingAndGlyphs">EQ</text>
<text x="30" y="173.2" text-anchor="end" textLength="13" lengthAdjust="spacingAndGlyphs">5N</text>
<text x="30" y="130" text-anchor="end" textLength="18.5" lengthAdjust="spacingAndGlyphs">10N</text>
<text x="30" y="86.8" text-anchor="end" textLength="18.5" lengthAdjust="spacingAndGlyphs">15N</text>
</g>
<text x="121.4" y="20" font-size="14" textLength="145.2" lengthAdjust="spacing" class="tt">CPTEC/INPE/MCT</text>
<text x="278" y="20" font-size="14" textLength="11.8" lengthAdjust="spacingAndGlyphs" class="tt">&#8212;</text>
<text x="313.6" y="20" font-size="14" textLength="26.7" lengthAdjust="spacing" class="tt">Eta</text>
<text x="351" y="20" font-size="14" textLength="46.2" lengthAdjust="spacing" class="tt">Model</text>
<text x="409" y="20" font-size="14" textLength="43.4" lengthAdjust="spacing" class="tt">15km</text>
<text x="465.6" y="20" font-size="14" textLength="11.7" lengthAdjust="spacingAndGlyphs" class="tt">&#8212;</text>
<text x="488" y="20" font-size="14" textLength="31.3" lengthAdjust="spacing" class="tt">GFS</text>
<text x="61.4" y="49.2" font-size="14" textLength="9.2" lengthAdjust="spacingAndGlyphs" class="tt">2</text>
<text x="82" y="49.2" font-size="14" textLength="44.5" lengthAdjust="spacing" class="tt">Metre</text>
<text x="137.2" y="49.2" font-size="14" textLength="103.3" lengthAdjust="spacing" class="tt">Temperature</text>
<text x="253" y="49.2" font-size="14" textLength="27" lengthAdjust="spacing" class="tt">(C)</text>
<text x="291.5" y="49.2" font-size="14" textLength="11.3" lengthAdjust="spacingAndGlyphs" class="tt">&#8212;</text>
<text x="317.4" y="49.2" font-size="14" textLength="108.2" lengthAdjust="spacing" class="tt">10/07/2020</text>
<text x="438.7" y="49.2" font-size="14" textLength="49.9" lengthAdjust="spacing" class="tt">12UTC</text>
<text x="501" y="49.2" font-size="14" textLength="76.6" lengthAdjust="spacing" class="tt">fct=184h</text>
<g shape-rendering="crispEdges">
<polygon fill="#255a9b" points="7,765.7 38.8,752.5 38.8,779.5"/>
<polygon fill="#a02c00" points="617,765.7 585.6,752.5 585.6,779.5"/>
<rect x="38.8" y="752" width="32.4" height="27.5" fill="#2d70ac"/>
<rect x="71" y="752" width="32.4" height="27.5" fill="#3789ba"/>
<rect x="103.1" y="752" width="32.4" height="27.5" fill="#40a0c7"/>
<rect x="135.3" y="752" width="32.4" height="27.5" fill="#4ab6d4"/>
<rect x="167.5" y="752" width="32.4" height="27.5" fill="#54cde1"/>
<rect x="199.6" y="752" width="32.4" height="27.5" fill="#5ee4ef"/>
<rect x="231.8" y="752" width="32.4" height="27.5" fill="#68fbfc"/>
<rect x="264" y="752" width="32.4" height="27.5" fill="#d2f5fe"/>
<rect x="296.1" y="752" width="32.4" height="27.5" fill="#fdf6e4"/>
<rect x="328.3" y="752" width="32.4" height="27.5" fill="#ffff9f"/>
<rect x="360.4" y="752" width="32.4" height="27.5" fill="#fdea6e"/>
<rect x="392.6" y="752" width="32.4" height="27.5" fill="#f5d547"/>
<rect x="424.8" y="752" width="32.4" height="27.5" fill="#eebf2c"/>
<rect x="456.9" y="752" width="32.4" height="27.5" fill="#f4a900"/>
<rect x="489.1" y="752" width="32.4" height="27.5" fill="#e58a17"/>
<rect x="521.3" y="752" width="32.4" height="27.5" fill="#d95d04"/>
<rect x="553.4" y="752" width="32.4" height="27.5" fill="#c44104"/>
<rect x="39.5" y="753.5" width="32" height="25.5" fill="none" stroke="#a8a8a8" stroke-width="1"/>
<rect x="71.5" y="753.5" width="32" height="25.5" fill="none" stroke="#a8a8a8" stroke-width="1"/>
<rect x="103.5" y="753.5" width="32" height="25.5" fill="none" stroke="#a8a8a8" stroke-width="1"/>
<rect x="135.5" y="753.5" width="32" height="25.5" fill="none" stroke="#a8a8a8" stroke-width="1"/>
<rect x="167.5" y="753.5" width="33" height="25.5" fill="none" stroke="#a8a8a8" stroke-width="1"/>
<rect x="200.5" y="753.5" width="32" height="25.5" fill="none" stroke="#a8a8a8" stroke-width="1"/>
<rect x="232.5" y="753.5" width="32" height="25.5" fill="none" stroke="#a8a8a8" stroke-width="1"/>
<rect x="264.5" y="753.5" width="32" height="25.5" fill="none" stroke="#a8a8a8" stroke-width="1"/>
<rect x="296.5" y="753.5" width="32" height="25.5" fill="none" stroke="#a8a8a8" stroke-width="1"/>
<rect x="328.5" y="753.5" width="32" height="25.5" fill="none" stroke="#a8a8a8" stroke-width="1"/>
<rect x="360.5" y="753.5" width="33" height="25.5" fill="none" stroke="#a8a8a8" stroke-width="1"/>
<rect x="393.5" y="753.5" width="32" height="25.5" fill="none" stroke="#a8a8a8" stroke-width="1"/>
<rect x="425.5" y="753.5" width="32" height="25.5" fill="none" stroke="#a8a8a8" stroke-width="1"/>
<rect x="457.5" y="753.5" width="32" height="25.5" fill="none" stroke="#a8a8a8" stroke-width="1"/>
<rect x="489.5" y="753.5" width="32" height="25.5" fill="none" stroke="#a8a8a8" stroke-width="1"/>
<rect x="521.5" y="753.5" width="32" height="25.5" fill="none" stroke="#a8a8a8" stroke-width="1"/>
<rect x="553.5" y="753.5" width="33" height="25.5" fill="none" stroke="#a8a8a8" stroke-width="1"/>
</g>
<g font-size="13" class="tt">
<text x="39.8" y="795" text-anchor="middle" textLength="7" lengthAdjust="spacingAndGlyphs">4</text>
<text x="72" y="795" text-anchor="middle" textLength="7" lengthAdjust="spacingAndGlyphs">6</text>
<text x="104.1" y="795" text-anchor="middle" textLength="7" lengthAdjust="spacingAndGlyphs">8</text>
<text x="136.3" y="795" text-anchor="middle" textLength="13.5" lengthAdjust="spacingAndGlyphs">10</text>
<text x="168.5" y="795" text-anchor="middle" textLength="13.5" lengthAdjust="spacingAndGlyphs">12</text>
<text x="200.6" y="795" text-anchor="middle" textLength="13.5" lengthAdjust="spacingAndGlyphs">14</text>
<text x="232.8" y="795" text-anchor="middle" textLength="13.5" lengthAdjust="spacingAndGlyphs">16</text>
<text x="265" y="795" text-anchor="middle" textLength="13.5" lengthAdjust="spacingAndGlyphs">18</text>
<text x="297.1" y="795" text-anchor="middle" textLength="13.5" lengthAdjust="spacingAndGlyphs">20</text>
<text x="329.3" y="795" text-anchor="middle" textLength="13.5" lengthAdjust="spacingAndGlyphs">22</text>
<text x="361.4" y="795" text-anchor="middle" textLength="13.5" lengthAdjust="spacingAndGlyphs">24</text>
<text x="393.6" y="795" text-anchor="middle" textLength="13.5" lengthAdjust="spacingAndGlyphs">26</text>
<text x="425.8" y="795" text-anchor="middle" textLength="13.5" lengthAdjust="spacingAndGlyphs">28</text>
<text x="457.9" y="795" text-anchor="middle" textLength="13.5" lengthAdjust="spacingAndGlyphs">30</text>
<text x="490.1" y="795" text-anchor="middle" textLength="13.5" lengthAdjust="spacingAndGlyphs">32</text>
<text x="522.3" y="795" text-anchor="middle" textLength="13.5" lengthAdjust="spacingAndGlyphs">34</text>
<text x="554.4" y="795" text-anchor="middle" textLength="13.5" lengthAdjust="spacingAndGlyphs">36</text>
<text x="586.6" y="795" text-anchor="middle" textLength="13.5" lengthAdjust="spacingAndGlyphs">38</text>
</g>
</svg></body></html>
